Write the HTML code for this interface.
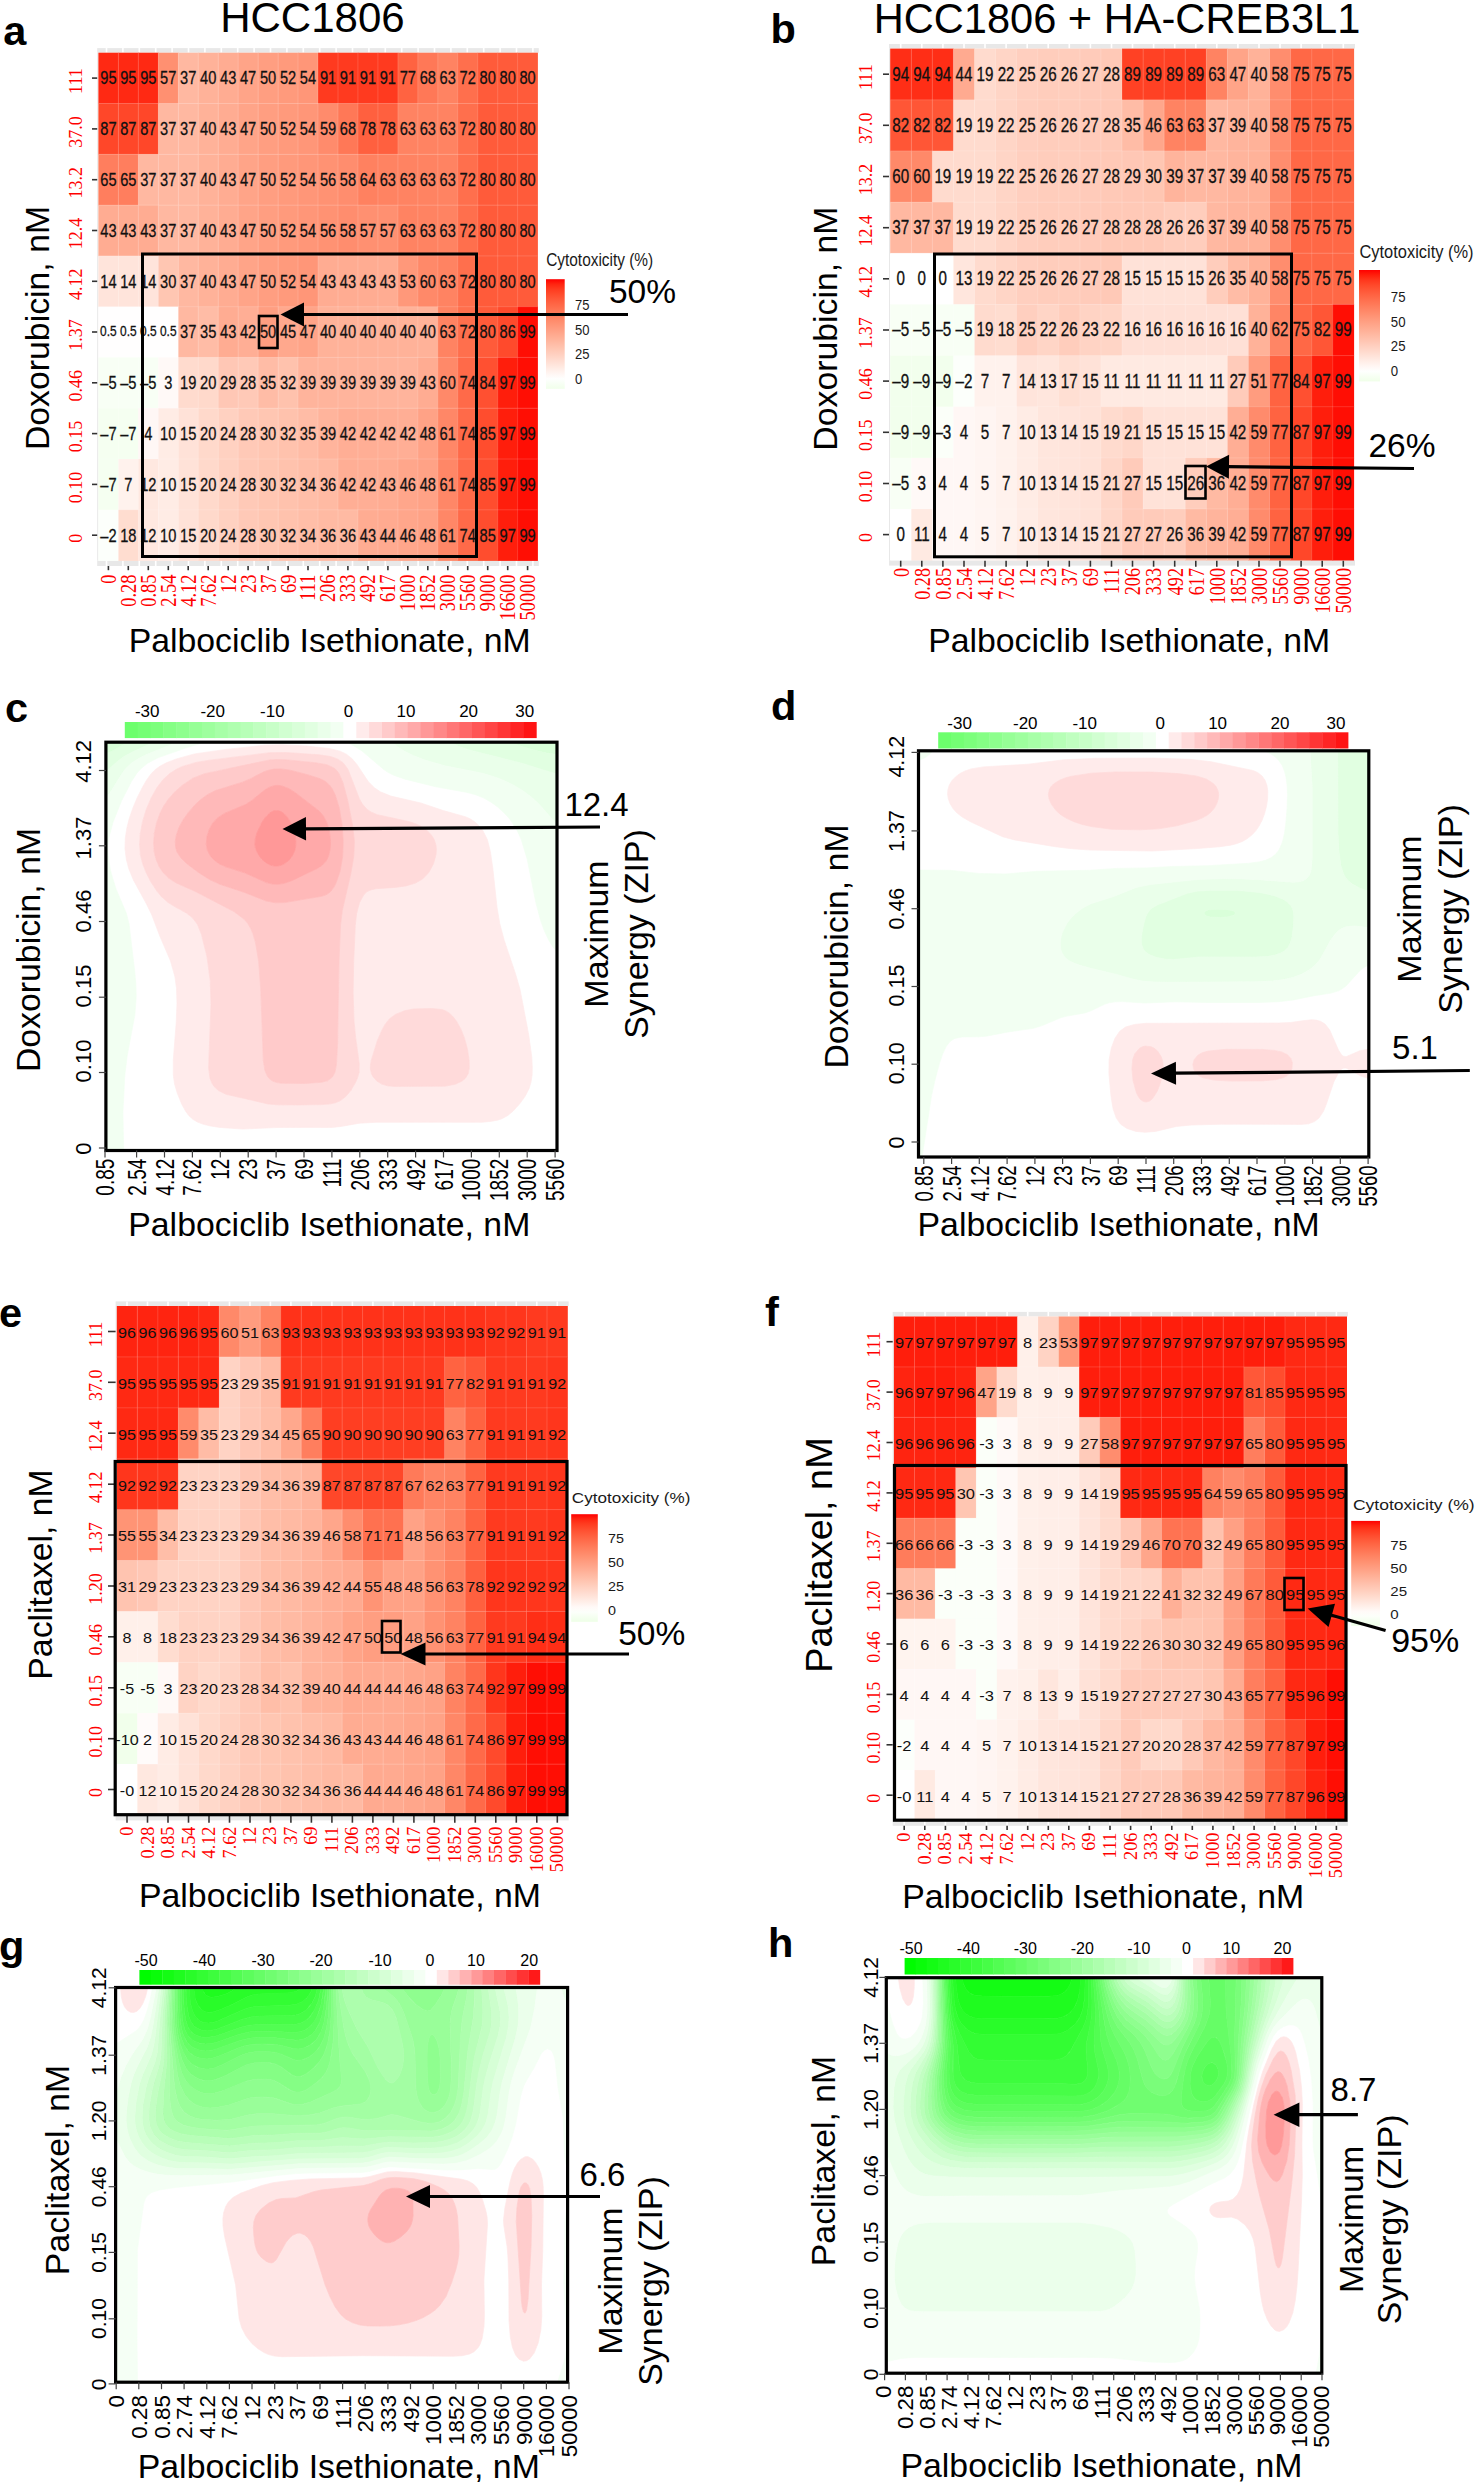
<!DOCTYPE html>
<html><head><meta charset="utf-8"><style>
html,body{margin:0;padding:0;background:#fff;}
body{width:1481px;height:2482px;position:relative;overflow:hidden;}
</style></head><body>
<svg width="1481" height="2482" viewBox="0 0 1481 2482" style="position:absolute;left:0;top:0"><style>.s{font-family:"Liberation Sans",sans-serif}.r{font-family:"Liberation Serif",serif}.m{text-anchor:middle}.e{text-anchor:end}</style><rect x="0.0" y="0.0" width="1481.0" height="2482.0" fill="#fff"/><rect x="97.2" y="48.1" width="441.6" height="4.6" fill="#e8e8e8"/><rect x="97.2" y="560.6" width="441.6" height="5.4" fill="#e8e8e8"/><rect x="97.2" y="52.7" width="1.2" height="507.9" fill="#e8e8e8"/><path d="M106.5 48.1V52.7M106.5 560.6V566.0M122.9 48.1V52.7M122.9 560.6V566.0M139.3 48.1V52.7M139.3 560.6V566.0M155.7 48.1V52.7M155.7 560.6V566.0M172.1 48.1V52.7M172.1 560.6V566.0M188.5 48.1V52.7M188.5 560.6V566.0M204.9 48.1V52.7M204.9 560.6V566.0M221.3 48.1V52.7M221.3 560.6V566.0M237.7 48.1V52.7M237.7 560.6V566.0M254.1 48.1V52.7M254.1 560.6V566.0M270.5 48.1V52.7M270.5 560.6V566.0M286.9 48.1V52.7M286.9 560.6V566.0M303.3 48.1V52.7M303.3 560.6V566.0M319.7 48.1V52.7M319.7 560.6V566.0M336.1 48.1V52.7M336.1 560.6V566.0M352.5 48.1V52.7M352.5 560.6V566.0M368.9 48.1V52.7M368.9 560.6V566.0M385.3 48.1V52.7M385.3 560.6V566.0M401.7 48.1V52.7M401.7 560.6V566.0M418.1 48.1V52.7M418.1 560.6V566.0M434.5 48.1V52.7M434.5 560.6V566.0M450.9 48.1V52.7M450.9 560.6V566.0M467.3 48.1V52.7M467.3 560.6V566.0M483.7 48.1V52.7M483.7 560.6V566.0M500.1 48.1V52.7M500.1 560.6V566.0M516.5 48.1V52.7M516.5 560.6V566.0M532.9 48.1V52.7M532.9 560.6V566.0" stroke="#fff" stroke-width="1.6"/><rect x="98.4" y="52.7" width="20.3" height="51.1" fill="#ff2913"/><rect x="118.4" y="52.7" width="20.3" height="51.1" fill="#ff2913"/><rect x="138.3" y="52.7" width="20.3" height="51.1" fill="#ff2913"/><rect x="158.3" y="52.7" width="20.3" height="51.1" fill="#ff9071"/><rect x="178.3" y="52.7" width="20.3" height="51.1" fill="#ffb8a1"/><rect x="198.2" y="52.7" width="20.3" height="51.1" fill="#ffb299"/><rect x="218.2" y="52.7" width="20.3" height="51.1" fill="#ffac92"/><rect x="238.1" y="52.7" width="20.3" height="51.1" fill="#ffa488"/><rect x="258.1" y="52.7" width="20.3" height="51.1" fill="#ff9e81"/><rect x="278.1" y="52.7" width="20.3" height="51.1" fill="#ff9a7c"/><rect x="298.0" y="52.7" width="20.3" height="51.1" fill="#ff9678"/><rect x="318.0" y="52.7" width="20.3" height="51.1" fill="#ff3a1f"/><rect x="338.0" y="52.7" width="20.3" height="51.1" fill="#ff3a1f"/><rect x="357.9" y="52.7" width="20.3" height="51.1" fill="#ff3a1f"/><rect x="377.9" y="52.7" width="20.3" height="51.1" fill="#ff3a1f"/><rect x="397.9" y="52.7" width="20.3" height="51.1" fill="#ff6341"/><rect x="417.8" y="52.7" width="20.3" height="51.1" fill="#ff7857"/><rect x="437.8" y="52.7" width="20.3" height="51.1" fill="#ff8362"/><rect x="457.7" y="52.7" width="20.3" height="51.1" fill="#ff6f4d"/><rect x="477.7" y="52.7" width="20.3" height="51.1" fill="#ff5b3a"/><rect x="497.7" y="52.7" width="20.3" height="51.1" fill="#ff5b3a"/><rect x="517.6" y="52.7" width="20.3" height="51.1" fill="#ff5b3a"/><rect x="98.4" y="103.5" width="20.3" height="51.1" fill="#ff4729"/><rect x="118.4" y="103.5" width="20.3" height="51.1" fill="#ff4729"/><rect x="138.3" y="103.5" width="20.3" height="51.1" fill="#ff4729"/><rect x="158.3" y="103.5" width="20.3" height="51.1" fill="#ffb8a1"/><rect x="178.3" y="103.5" width="20.3" height="51.1" fill="#ffb8a1"/><rect x="198.2" y="103.5" width="20.3" height="51.1" fill="#ffb299"/><rect x="218.2" y="103.5" width="20.3" height="51.1" fill="#ffac92"/><rect x="238.1" y="103.5" width="20.3" height="51.1" fill="#ffa488"/><rect x="258.1" y="103.5" width="20.3" height="51.1" fill="#ff9e81"/><rect x="278.1" y="103.5" width="20.3" height="51.1" fill="#ff9a7c"/><rect x="298.0" y="103.5" width="20.3" height="51.1" fill="#ff9678"/><rect x="318.0" y="103.5" width="20.3" height="51.1" fill="#ff8b6c"/><rect x="338.0" y="103.5" width="20.3" height="51.1" fill="#ff7857"/><rect x="357.9" y="103.5" width="20.3" height="51.1" fill="#ff603f"/><rect x="377.9" y="103.5" width="20.3" height="51.1" fill="#ff603f"/><rect x="397.9" y="103.5" width="20.3" height="51.1" fill="#ff8362"/><rect x="417.8" y="103.5" width="20.3" height="51.1" fill="#ff8362"/><rect x="437.8" y="103.5" width="20.3" height="51.1" fill="#ff8362"/><rect x="457.7" y="103.5" width="20.3" height="51.1" fill="#ff6f4d"/><rect x="477.7" y="103.5" width="20.3" height="51.1" fill="#ff5b3a"/><rect x="497.7" y="103.5" width="20.3" height="51.1" fill="#ff5b3a"/><rect x="517.6" y="103.5" width="20.3" height="51.1" fill="#ff5b3a"/><rect x="98.4" y="154.3" width="20.3" height="51.1" fill="#ff7e5e"/><rect x="118.4" y="154.3" width="20.3" height="51.1" fill="#ff7e5e"/><rect x="138.3" y="154.3" width="20.3" height="51.1" fill="#ffb8a1"/><rect x="158.3" y="154.3" width="20.3" height="51.1" fill="#ffb8a1"/><rect x="178.3" y="154.3" width="20.3" height="51.1" fill="#ffb8a1"/><rect x="198.2" y="154.3" width="20.3" height="51.1" fill="#ffb299"/><rect x="218.2" y="154.3" width="20.3" height="51.1" fill="#ffac92"/><rect x="238.1" y="154.3" width="20.3" height="51.1" fill="#ffa488"/><rect x="258.1" y="154.3" width="20.3" height="51.1" fill="#ff9e81"/><rect x="278.1" y="154.3" width="20.3" height="51.1" fill="#ff9a7c"/><rect x="298.0" y="154.3" width="20.3" height="51.1" fill="#ff9678"/><rect x="318.0" y="154.3" width="20.3" height="51.1" fill="#ff9273"/><rect x="338.0" y="154.3" width="20.3" height="51.1" fill="#ff8d6e"/><rect x="357.9" y="154.3" width="20.3" height="51.1" fill="#ff8160"/><rect x="377.9" y="154.3" width="20.3" height="51.1" fill="#ff8362"/><rect x="397.9" y="154.3" width="20.3" height="51.1" fill="#ff8362"/><rect x="417.8" y="154.3" width="20.3" height="51.1" fill="#ff8362"/><rect x="437.8" y="154.3" width="20.3" height="51.1" fill="#ff8362"/><rect x="457.7" y="154.3" width="20.3" height="51.1" fill="#ff6f4d"/><rect x="477.7" y="154.3" width="20.3" height="51.1" fill="#ff5b3a"/><rect x="497.7" y="154.3" width="20.3" height="51.1" fill="#ff5b3a"/><rect x="517.6" y="154.3" width="20.3" height="51.1" fill="#ff5b3a"/><rect x="98.4" y="205.1" width="20.3" height="51.1" fill="#ffac92"/><rect x="118.4" y="205.1" width="20.3" height="51.1" fill="#ffac92"/><rect x="138.3" y="205.1" width="20.3" height="51.1" fill="#ffac92"/><rect x="158.3" y="205.1" width="20.3" height="51.1" fill="#ffb8a1"/><rect x="178.3" y="205.1" width="20.3" height="51.1" fill="#ffb8a1"/><rect x="198.2" y="205.1" width="20.3" height="51.1" fill="#ffb299"/><rect x="218.2" y="205.1" width="20.3" height="51.1" fill="#ffac92"/><rect x="238.1" y="205.1" width="20.3" height="51.1" fill="#ffa488"/><rect x="258.1" y="205.1" width="20.3" height="51.1" fill="#ff9e81"/><rect x="278.1" y="205.1" width="20.3" height="51.1" fill="#ff9a7c"/><rect x="298.0" y="205.1" width="20.3" height="51.1" fill="#ff9678"/><rect x="318.0" y="205.1" width="20.3" height="51.1" fill="#ff9273"/><rect x="338.0" y="205.1" width="20.3" height="51.1" fill="#ff8d6e"/><rect x="357.9" y="205.1" width="20.3" height="51.1" fill="#ff9071"/><rect x="377.9" y="205.1" width="20.3" height="51.1" fill="#ff9071"/><rect x="397.9" y="205.1" width="20.3" height="51.1" fill="#ff8362"/><rect x="417.8" y="205.1" width="20.3" height="51.1" fill="#ff8362"/><rect x="437.8" y="205.1" width="20.3" height="51.1" fill="#ff8362"/><rect x="457.7" y="205.1" width="20.3" height="51.1" fill="#ff6f4d"/><rect x="477.7" y="205.1" width="20.3" height="51.1" fill="#ff5b3a"/><rect x="497.7" y="205.1" width="20.3" height="51.1" fill="#ff5b3a"/><rect x="517.6" y="205.1" width="20.3" height="51.1" fill="#ff5b3a"/><rect x="98.4" y="255.9" width="20.3" height="51.1" fill="#ffe4db"/><rect x="118.4" y="255.9" width="20.3" height="51.1" fill="#ffe4db"/><rect x="138.3" y="255.9" width="20.3" height="51.1" fill="#ffe4db"/><rect x="158.3" y="255.9" width="20.3" height="51.1" fill="#ffc6b2"/><rect x="178.3" y="255.9" width="20.3" height="51.1" fill="#ffb8a1"/><rect x="198.2" y="255.9" width="20.3" height="51.1" fill="#ffb299"/><rect x="218.2" y="255.9" width="20.3" height="51.1" fill="#ffac92"/><rect x="238.1" y="255.9" width="20.3" height="51.1" fill="#ffa488"/><rect x="258.1" y="255.9" width="20.3" height="51.1" fill="#ff9e81"/><rect x="278.1" y="255.9" width="20.3" height="51.1" fill="#ff9a7c"/><rect x="298.0" y="255.9" width="20.3" height="51.1" fill="#ff9678"/><rect x="318.0" y="255.9" width="20.3" height="51.1" fill="#ffac92"/><rect x="338.0" y="255.9" width="20.3" height="51.1" fill="#ffac92"/><rect x="357.9" y="255.9" width="20.3" height="51.1" fill="#ffac92"/><rect x="377.9" y="255.9" width="20.3" height="51.1" fill="#ffac92"/><rect x="397.9" y="255.9" width="20.3" height="51.1" fill="#ff987a"/><rect x="417.8" y="255.9" width="20.3" height="51.1" fill="#ff8969"/><rect x="437.8" y="255.9" width="20.3" height="51.1" fill="#ff8362"/><rect x="457.7" y="255.9" width="20.3" height="51.1" fill="#ff6f4d"/><rect x="477.7" y="255.9" width="20.3" height="51.1" fill="#ff5b3a"/><rect x="497.7" y="255.9" width="20.3" height="51.1" fill="#ff5b3a"/><rect x="517.6" y="255.9" width="20.3" height="51.1" fill="#ff5b3a"/><rect x="98.4" y="306.7" width="20.3" height="51.1" fill="#fffefe"/><rect x="118.4" y="306.7" width="20.3" height="51.1" fill="#fffefe"/><rect x="138.3" y="306.7" width="20.3" height="51.1" fill="#fffefe"/><rect x="158.3" y="306.7" width="20.3" height="51.1" fill="#fffefe"/><rect x="178.3" y="306.7" width="20.3" height="51.1" fill="#ffb8a1"/><rect x="198.2" y="306.7" width="20.3" height="51.1" fill="#ffbca6"/><rect x="218.2" y="306.7" width="20.3" height="51.1" fill="#ffac92"/><rect x="238.1" y="306.7" width="20.3" height="51.1" fill="#ffae95"/><rect x="258.1" y="306.7" width="20.3" height="51.1" fill="#ff9e81"/><rect x="278.1" y="306.7" width="20.3" height="51.1" fill="#ffa88d"/><rect x="298.0" y="306.7" width="20.3" height="51.1" fill="#ffa488"/><rect x="318.0" y="306.7" width="20.3" height="51.1" fill="#ffb299"/><rect x="338.0" y="306.7" width="20.3" height="51.1" fill="#ffb299"/><rect x="357.9" y="306.7" width="20.3" height="51.1" fill="#ffb299"/><rect x="377.9" y="306.7" width="20.3" height="51.1" fill="#ffb299"/><rect x="397.9" y="306.7" width="20.3" height="51.1" fill="#ffb299"/><rect x="417.8" y="306.7" width="20.3" height="51.1" fill="#ffb299"/><rect x="437.8" y="306.7" width="20.3" height="51.1" fill="#ff8362"/><rect x="457.7" y="306.7" width="20.3" height="51.1" fill="#ff6f4d"/><rect x="477.7" y="306.7" width="20.3" height="51.1" fill="#ff5b3a"/><rect x="497.7" y="306.7" width="20.3" height="51.1" fill="#ff4a2c"/><rect x="517.6" y="306.7" width="20.3" height="51.1" fill="#ff0e04"/><rect x="98.4" y="357.4" width="20.3" height="51.1" fill="#f8fff5"/><rect x="118.4" y="357.4" width="20.3" height="51.1" fill="#f8fff5"/><rect x="138.3" y="357.4" width="20.3" height="51.1" fill="#f8fff5"/><rect x="158.3" y="357.4" width="20.3" height="51.1" fill="#fff9f7"/><rect x="178.3" y="357.4" width="20.3" height="51.1" fill="#ffdbce"/><rect x="198.2" y="357.4" width="20.3" height="51.1" fill="#ffd9cb"/><rect x="218.2" y="357.4" width="20.3" height="51.1" fill="#ffc7b5"/><rect x="238.1" y="357.4" width="20.3" height="51.1" fill="#ffc9b7"/><rect x="258.1" y="357.4" width="20.3" height="51.1" fill="#ffbca6"/><rect x="278.1" y="357.4" width="20.3" height="51.1" fill="#ffc2ad"/><rect x="298.0" y="357.4" width="20.3" height="51.1" fill="#ffb49c"/><rect x="318.0" y="357.4" width="20.3" height="51.1" fill="#ffb49c"/><rect x="338.0" y="357.4" width="20.3" height="51.1" fill="#ffb49c"/><rect x="357.9" y="357.4" width="20.3" height="51.1" fill="#ffb49c"/><rect x="377.9" y="357.4" width="20.3" height="51.1" fill="#ffb49c"/><rect x="397.9" y="357.4" width="20.3" height="51.1" fill="#ffb49c"/><rect x="417.8" y="357.4" width="20.3" height="51.1" fill="#ffac92"/><rect x="437.8" y="357.4" width="20.3" height="51.1" fill="#ff8969"/><rect x="457.7" y="357.4" width="20.3" height="51.1" fill="#ff6a49"/><rect x="477.7" y="357.4" width="20.3" height="51.1" fill="#ff5031"/><rect x="497.7" y="357.4" width="20.3" height="51.1" fill="#ff1e0c"/><rect x="517.6" y="357.4" width="20.3" height="51.1" fill="#ff0e04"/><rect x="98.4" y="408.2" width="20.3" height="51.1" fill="#f5fff1"/><rect x="118.4" y="408.2" width="20.3" height="51.1" fill="#f5fff1"/><rect x="138.3" y="408.2" width="20.3" height="51.1" fill="#fff7f5"/><rect x="158.3" y="408.2" width="20.3" height="51.1" fill="#ffece5"/><rect x="178.3" y="408.2" width="20.3" height="51.1" fill="#ffe2d8"/><rect x="198.2" y="408.2" width="20.3" height="51.1" fill="#ffd9cb"/><rect x="218.2" y="408.2" width="20.3" height="51.1" fill="#ffd1c1"/><rect x="238.1" y="408.2" width="20.3" height="51.1" fill="#ffc9b7"/><rect x="258.1" y="408.2" width="20.3" height="51.1" fill="#ffc6b2"/><rect x="278.1" y="408.2" width="20.3" height="51.1" fill="#ffc2ad"/><rect x="298.0" y="408.2" width="20.3" height="51.1" fill="#ffbca6"/><rect x="318.0" y="408.2" width="20.3" height="51.1" fill="#ffb49c"/><rect x="338.0" y="408.2" width="20.3" height="51.1" fill="#ffae95"/><rect x="357.9" y="408.2" width="20.3" height="51.1" fill="#ffae95"/><rect x="377.9" y="408.2" width="20.3" height="51.1" fill="#ffae95"/><rect x="397.9" y="408.2" width="20.3" height="51.1" fill="#ffae95"/><rect x="417.8" y="408.2" width="20.3" height="51.1" fill="#ffa286"/><rect x="437.8" y="408.2" width="20.3" height="51.1" fill="#ff8767"/><rect x="457.7" y="408.2" width="20.3" height="51.1" fill="#ff6a49"/><rect x="477.7" y="408.2" width="20.3" height="51.1" fill="#ff4d2e"/><rect x="497.7" y="408.2" width="20.3" height="51.1" fill="#ff1e0c"/><rect x="517.6" y="408.2" width="20.3" height="51.1" fill="#ff0e04"/><rect x="98.4" y="459.0" width="20.3" height="51.1" fill="#f5fff1"/><rect x="118.4" y="459.0" width="20.3" height="51.1" fill="#fff2ed"/><rect x="138.3" y="459.0" width="20.3" height="51.1" fill="#ffe8e0"/><rect x="158.3" y="459.0" width="20.3" height="51.1" fill="#ffece5"/><rect x="178.3" y="459.0" width="20.3" height="51.1" fill="#ffe2d8"/><rect x="198.2" y="459.0" width="20.3" height="51.1" fill="#ffd9cb"/><rect x="218.2" y="459.0" width="20.3" height="51.1" fill="#ffd1c1"/><rect x="238.1" y="459.0" width="20.3" height="51.1" fill="#ffc9b7"/><rect x="258.1" y="459.0" width="20.3" height="51.1" fill="#ffc6b2"/><rect x="278.1" y="459.0" width="20.3" height="51.1" fill="#ffc2ad"/><rect x="298.0" y="459.0" width="20.3" height="51.1" fill="#ffbea8"/><rect x="318.0" y="459.0" width="20.3" height="51.1" fill="#ffbaa3"/><rect x="338.0" y="459.0" width="20.3" height="51.1" fill="#ffae95"/><rect x="357.9" y="459.0" width="20.3" height="51.1" fill="#ffae95"/><rect x="377.9" y="459.0" width="20.3" height="51.1" fill="#ffac92"/><rect x="397.9" y="459.0" width="20.3" height="51.1" fill="#ffa68b"/><rect x="417.8" y="459.0" width="20.3" height="51.1" fill="#ffa286"/><rect x="437.8" y="459.0" width="20.3" height="51.1" fill="#ff8767"/><rect x="457.7" y="459.0" width="20.3" height="51.1" fill="#ff6a49"/><rect x="477.7" y="459.0" width="20.3" height="51.1" fill="#ff4d2e"/><rect x="497.7" y="459.0" width="20.3" height="51.1" fill="#ff1e0c"/><rect x="517.6" y="459.0" width="20.3" height="51.1" fill="#ff0e04"/><rect x="98.4" y="509.8" width="20.3" height="51.1" fill="#fcfffb"/><rect x="118.4" y="509.8" width="20.3" height="51.1" fill="#ffddd0"/><rect x="138.3" y="509.8" width="20.3" height="51.1" fill="#ffe8e0"/><rect x="158.3" y="509.8" width="20.3" height="51.1" fill="#ffece5"/><rect x="178.3" y="509.8" width="20.3" height="51.1" fill="#ffe2d8"/><rect x="198.2" y="509.8" width="20.3" height="51.1" fill="#ffd9cb"/><rect x="218.2" y="509.8" width="20.3" height="51.1" fill="#ffd1c1"/><rect x="238.1" y="509.8" width="20.3" height="51.1" fill="#ffc9b7"/><rect x="258.1" y="509.8" width="20.3" height="51.1" fill="#ffc6b2"/><rect x="278.1" y="509.8" width="20.3" height="51.1" fill="#ffc2ad"/><rect x="298.0" y="509.8" width="20.3" height="51.1" fill="#ffbea8"/><rect x="318.0" y="509.8" width="20.3" height="51.1" fill="#ffbaa3"/><rect x="338.0" y="509.8" width="20.3" height="51.1" fill="#ffbaa3"/><rect x="357.9" y="509.8" width="20.3" height="51.1" fill="#ffac92"/><rect x="377.9" y="509.8" width="20.3" height="51.1" fill="#ffaa90"/><rect x="397.9" y="509.8" width="20.3" height="51.1" fill="#ffa68b"/><rect x="417.8" y="509.8" width="20.3" height="51.1" fill="#ffa286"/><rect x="437.8" y="509.8" width="20.3" height="51.1" fill="#ff8767"/><rect x="457.7" y="509.8" width="20.3" height="51.1" fill="#ff6a49"/><rect x="477.7" y="509.8" width="20.3" height="51.1" fill="#ff4d2e"/><rect x="497.7" y="509.8" width="20.3" height="51.1" fill="#ff1e0c"/><rect x="517.6" y="509.8" width="20.3" height="51.1" fill="#ff0e04"/><path d="M118.4 52.7L118.4 560.6" stroke="#fff" stroke-width="0.7" stroke-opacity="0.22"/><path d="M138.3 52.7L138.3 560.6" stroke="#fff" stroke-width="0.7" stroke-opacity="0.22"/><path d="M158.3 52.7L158.3 560.6" stroke="#fff" stroke-width="0.7" stroke-opacity="0.22"/><path d="M178.3 52.7L178.3 560.6" stroke="#fff" stroke-width="0.7" stroke-opacity="0.22"/><path d="M198.2 52.7L198.2 560.6" stroke="#fff" stroke-width="0.7" stroke-opacity="0.22"/><path d="M218.2 52.7L218.2 560.6" stroke="#fff" stroke-width="0.7" stroke-opacity="0.22"/><path d="M238.1 52.7L238.1 560.6" stroke="#fff" stroke-width="0.7" stroke-opacity="0.22"/><path d="M258.1 52.7L258.1 560.6" stroke="#fff" stroke-width="0.7" stroke-opacity="0.22"/><path d="M278.1 52.7L278.1 560.6" stroke="#fff" stroke-width="0.7" stroke-opacity="0.22"/><path d="M298.0 52.7L298.0 560.6" stroke="#fff" stroke-width="0.7" stroke-opacity="0.22"/><path d="M318.0 52.7L318.0 560.6" stroke="#fff" stroke-width="0.7" stroke-opacity="0.22"/><path d="M338.0 52.7L338.0 560.6" stroke="#fff" stroke-width="0.7" stroke-opacity="0.22"/><path d="M357.9 52.7L357.9 560.6" stroke="#fff" stroke-width="0.7" stroke-opacity="0.22"/><path d="M377.9 52.7L377.9 560.6" stroke="#fff" stroke-width="0.7" stroke-opacity="0.22"/><path d="M397.9 52.7L397.9 560.6" stroke="#fff" stroke-width="0.7" stroke-opacity="0.22"/><path d="M417.8 52.7L417.8 560.6" stroke="#fff" stroke-width="0.7" stroke-opacity="0.22"/><path d="M437.8 52.7L437.8 560.6" stroke="#fff" stroke-width="0.7" stroke-opacity="0.22"/><path d="M457.7 52.7L457.7 560.6" stroke="#fff" stroke-width="0.7" stroke-opacity="0.22"/><path d="M477.7 52.7L477.7 560.6" stroke="#fff" stroke-width="0.7" stroke-opacity="0.22"/><path d="M497.7 52.7L497.7 560.6" stroke="#fff" stroke-width="0.7" stroke-opacity="0.22"/><path d="M517.6 52.7L517.6 560.6" stroke="#fff" stroke-width="0.7" stroke-opacity="0.22"/><path d="M98.4 103.5L537.6 103.5" stroke="#fff" stroke-width="0.7" stroke-opacity="0.22"/><path d="M98.4 154.3L537.6 154.3" stroke="#fff" stroke-width="0.7" stroke-opacity="0.22"/><path d="M98.4 205.1L537.6 205.1" stroke="#fff" stroke-width="0.7" stroke-opacity="0.22"/><path d="M98.4 255.9L537.6 255.9" stroke="#fff" stroke-width="0.7" stroke-opacity="0.22"/><path d="M98.4 306.7L537.6 306.7" stroke="#fff" stroke-width="0.7" stroke-opacity="0.22"/><path d="M98.4 357.4L537.6 357.4" stroke="#fff" stroke-width="0.7" stroke-opacity="0.22"/><path d="M98.4 408.2L537.6 408.2" stroke="#fff" stroke-width="0.7" stroke-opacity="0.22"/><path d="M98.4 459.0L537.6 459.0" stroke="#fff" stroke-width="0.7" stroke-opacity="0.22"/><path d="M98.4 509.8L537.6 509.8" stroke="#fff" stroke-width="0.7" stroke-opacity="0.22"/><g class="s m" font-size="19" fill="#111" stroke="#111" stroke-width="0.3" transform="scale(0.77,1)"><text x="140.8" y="84.5">95</text><text x="166.7" y="84.5">95</text><text x="192.6" y="84.5">95</text><text x="218.5" y="84.5">57</text><text x="244.5" y="84.5">37</text><text x="270.4" y="84.5">40</text><text x="296.3" y="84.5">43</text><text x="322.2" y="84.5">47</text><text x="348.2" y="84.5">50</text><text x="374.1" y="84.5">52</text><text x="400.0" y="84.5">54</text><text x="426.0" y="84.5">91</text><text x="451.9" y="84.5">91</text><text x="477.8" y="84.5">91</text><text x="503.7" y="84.5">91</text><text x="529.7" y="84.5">77</text><text x="555.6" y="84.5">68</text><text x="581.5" y="84.5">63</text><text x="607.4" y="84.5">72</text><text x="633.4" y="84.5">80</text><text x="659.3" y="84.5">80</text><text x="685.2" y="84.5">80</text><text x="140.8" y="135.3">87</text><text x="166.7" y="135.3">87</text><text x="192.6" y="135.3">87</text><text x="218.5" y="135.3">37</text><text x="244.5" y="135.3">37</text><text x="270.4" y="135.3">40</text><text x="296.3" y="135.3">43</text><text x="322.2" y="135.3">47</text><text x="348.2" y="135.3">50</text><text x="374.1" y="135.3">52</text><text x="400.0" y="135.3">54</text><text x="426.0" y="135.3">59</text><text x="451.9" y="135.3">68</text><text x="477.8" y="135.3">78</text><text x="503.7" y="135.3">78</text><text x="529.7" y="135.3">63</text><text x="555.6" y="135.3">63</text><text x="581.5" y="135.3">63</text><text x="607.4" y="135.3">72</text><text x="633.4" y="135.3">80</text><text x="659.3" y="135.3">80</text><text x="685.2" y="135.3">80</text><text x="140.8" y="186.1">65</text><text x="166.7" y="186.1">65</text><text x="192.6" y="186.1">37</text><text x="218.5" y="186.1">37</text><text x="244.5" y="186.1">37</text><text x="270.4" y="186.1">40</text><text x="296.3" y="186.1">43</text><text x="322.2" y="186.1">47</text><text x="348.2" y="186.1">50</text><text x="374.1" y="186.1">52</text><text x="400.0" y="186.1">54</text><text x="426.0" y="186.1">56</text><text x="451.9" y="186.1">58</text><text x="477.8" y="186.1">64</text><text x="503.7" y="186.1">63</text><text x="529.7" y="186.1">63</text><text x="555.6" y="186.1">63</text><text x="581.5" y="186.1">63</text><text x="607.4" y="186.1">72</text><text x="633.4" y="186.1">80</text><text x="659.3" y="186.1">80</text><text x="685.2" y="186.1">80</text><text x="140.8" y="236.9">43</text><text x="166.7" y="236.9">43</text><text x="192.6" y="236.9">43</text><text x="218.5" y="236.9">37</text><text x="244.5" y="236.9">37</text><text x="270.4" y="236.9">40</text><text x="296.3" y="236.9">43</text><text x="322.2" y="236.9">47</text><text x="348.2" y="236.9">50</text><text x="374.1" y="236.9">52</text><text x="400.0" y="236.9">54</text><text x="426.0" y="236.9">56</text><text x="451.9" y="236.9">58</text><text x="477.8" y="236.9">57</text><text x="503.7" y="236.9">57</text><text x="529.7" y="236.9">63</text><text x="555.6" y="236.9">63</text><text x="581.5" y="236.9">63</text><text x="607.4" y="236.9">72</text><text x="633.4" y="236.9">80</text><text x="659.3" y="236.9">80</text><text x="685.2" y="236.9">80</text><text x="140.8" y="287.7">14</text><text x="166.7" y="287.7">14</text><text x="192.6" y="287.7">14</text><text x="218.5" y="287.7">30</text><text x="244.5" y="287.7">37</text><text x="270.4" y="287.7">40</text><text x="296.3" y="287.7">43</text><text x="322.2" y="287.7">47</text><text x="348.2" y="287.7">50</text><text x="374.1" y="287.7">52</text><text x="400.0" y="287.7">54</text><text x="426.0" y="287.7">43</text><text x="451.9" y="287.7">43</text><text x="477.8" y="287.7">43</text><text x="503.7" y="287.7">43</text><text x="529.7" y="287.7">53</text><text x="555.6" y="287.7">60</text><text x="581.5" y="287.7">63</text><text x="607.4" y="287.7">72</text><text x="633.4" y="287.7">80</text><text x="659.3" y="287.7">80</text><text x="685.2" y="287.7">80</text><text x="140.8" y="336.4" font-size="15.5">0.5</text><text x="166.7" y="336.4" font-size="15.5">0.5</text><text x="192.6" y="336.4" font-size="15.5">0.5</text><text x="218.5" y="336.4" font-size="15.5">0.5</text><text x="244.5" y="338.4">37</text><text x="270.4" y="338.4">35</text><text x="296.3" y="338.4">43</text><text x="322.2" y="338.4">42</text><text x="348.2" y="338.4">50</text><text x="374.1" y="338.4">45</text><text x="400.0" y="338.4">47</text><text x="426.0" y="338.4">40</text><text x="451.9" y="338.4">40</text><text x="477.8" y="338.4">40</text><text x="503.7" y="338.4">40</text><text x="529.7" y="338.4">40</text><text x="555.6" y="338.4">40</text><text x="581.5" y="338.4">63</text><text x="607.4" y="338.4">72</text><text x="633.4" y="338.4">80</text><text x="659.3" y="338.4">86</text><text x="685.2" y="338.4">99</text><text x="140.8" y="389.2">–5</text><text x="166.7" y="389.2">–5</text><text x="192.6" y="389.2">–5</text><text x="218.5" y="389.2">3</text><text x="244.5" y="389.2">19</text><text x="270.4" y="389.2">20</text><text x="296.3" y="389.2">29</text><text x="322.2" y="389.2">28</text><text x="348.2" y="389.2">35</text><text x="374.1" y="389.2">32</text><text x="400.0" y="389.2">39</text><text x="426.0" y="389.2">39</text><text x="451.9" y="389.2">39</text><text x="477.8" y="389.2">39</text><text x="503.7" y="389.2">39</text><text x="529.7" y="389.2">39</text><text x="555.6" y="389.2">43</text><text x="581.5" y="389.2">60</text><text x="607.4" y="389.2">74</text><text x="633.4" y="389.2">84</text><text x="659.3" y="389.2">97</text><text x="685.2" y="389.2">99</text><text x="140.8" y="440.0">–7</text><text x="166.7" y="440.0">–7</text><text x="192.6" y="440.0">4</text><text x="218.5" y="440.0">10</text><text x="244.5" y="440.0">15</text><text x="270.4" y="440.0">20</text><text x="296.3" y="440.0">24</text><text x="322.2" y="440.0">28</text><text x="348.2" y="440.0">30</text><text x="374.1" y="440.0">32</text><text x="400.0" y="440.0">35</text><text x="426.0" y="440.0">39</text><text x="451.9" y="440.0">42</text><text x="477.8" y="440.0">42</text><text x="503.7" y="440.0">42</text><text x="529.7" y="440.0">42</text><text x="555.6" y="440.0">48</text><text x="581.5" y="440.0">61</text><text x="607.4" y="440.0">74</text><text x="633.4" y="440.0">85</text><text x="659.3" y="440.0">97</text><text x="685.2" y="440.0">99</text><text x="140.8" y="490.8">–7</text><text x="166.7" y="490.8">7</text><text x="192.6" y="490.8">12</text><text x="218.5" y="490.8">10</text><text x="244.5" y="490.8">15</text><text x="270.4" y="490.8">20</text><text x="296.3" y="490.8">24</text><text x="322.2" y="490.8">28</text><text x="348.2" y="490.8">30</text><text x="374.1" y="490.8">32</text><text x="400.0" y="490.8">34</text><text x="426.0" y="490.8">36</text><text x="451.9" y="490.8">42</text><text x="477.8" y="490.8">42</text><text x="503.7" y="490.8">43</text><text x="529.7" y="490.8">46</text><text x="555.6" y="490.8">48</text><text x="581.5" y="490.8">61</text><text x="607.4" y="490.8">74</text><text x="633.4" y="490.8">85</text><text x="659.3" y="490.8">97</text><text x="685.2" y="490.8">99</text><text x="140.8" y="541.6">–2</text><text x="166.7" y="541.6">18</text><text x="192.6" y="541.6">12</text><text x="218.5" y="541.6">10</text><text x="244.5" y="541.6">15</text><text x="270.4" y="541.6">20</text><text x="296.3" y="541.6">24</text><text x="322.2" y="541.6">28</text><text x="348.2" y="541.6">30</text><text x="374.1" y="541.6">32</text><text x="400.0" y="541.6">34</text><text x="426.0" y="541.6">36</text><text x="451.9" y="541.6">36</text><text x="477.8" y="541.6">43</text><text x="503.7" y="541.6">44</text><text x="529.7" y="541.6">46</text><text x="555.6" y="541.6">48</text><text x="581.5" y="541.6">61</text><text x="607.4" y="541.6">74</text><text x="633.4" y="541.6">85</text><text x="659.3" y="541.6">97</text><text x="685.2" y="541.6">99</text></g><text transform="translate(76.0,81.1) rotate(-90)" y="5.9" class="r m" font-size="18" fill="#ff0000">111</text><path d="M92.0 78.1L97.2 78.1" stroke="#333" stroke-width="1.6"/><text transform="translate(76.0,131.9) rotate(-90)" y="5.9" class="r m" font-size="18" fill="#ff0000">37.0</text><path d="M92.0 128.9L97.2 128.9" stroke="#333" stroke-width="1.6"/><text transform="translate(76.0,182.7) rotate(-90)" y="5.9" class="r m" font-size="18" fill="#ff0000">13.2</text><path d="M92.0 179.7L97.2 179.7" stroke="#333" stroke-width="1.6"/><text transform="translate(76.0,233.5) rotate(-90)" y="5.9" class="r m" font-size="18" fill="#ff0000">12.4</text><path d="M92.0 230.5L97.2 230.5" stroke="#333" stroke-width="1.6"/><text transform="translate(76.0,284.3) rotate(-90)" y="5.9" class="r m" font-size="18" fill="#ff0000">4.12</text><path d="M92.0 281.3L97.2 281.3" stroke="#333" stroke-width="1.6"/><text transform="translate(76.0,335.0) rotate(-90)" y="5.9" class="r m" font-size="18" fill="#ff0000">1.37</text><path d="M92.0 332.0L97.2 332.0" stroke="#333" stroke-width="1.6"/><text transform="translate(76.0,385.8) rotate(-90)" y="5.9" class="r m" font-size="18" fill="#ff0000">0.46</text><path d="M92.0 382.8L97.2 382.8" stroke="#333" stroke-width="1.6"/><text transform="translate(76.0,436.6) rotate(-90)" y="5.9" class="r m" font-size="18" fill="#ff0000">0.15</text><path d="M92.0 433.6L97.2 433.6" stroke="#333" stroke-width="1.6"/><text transform="translate(76.0,487.4) rotate(-90)" y="5.9" class="r m" font-size="18" fill="#ff0000">0.10</text><path d="M92.0 484.4L97.2 484.4" stroke="#333" stroke-width="1.6"/><text transform="translate(76.0,538.2) rotate(-90)" y="5.9" class="r m" font-size="18" fill="#ff0000">0</text><path d="M92.0 535.2L97.2 535.2" stroke="#333" stroke-width="1.6"/><path d="M108.4 566.0L108.4 570.2" stroke="#333" stroke-width="1.6"/><text transform="translate(108.4,574.5) rotate(-90) scale(1,1.22)" y="6.1" class="r e" font-size="18.4" fill="#ff0000">0</text><path d="M128.3 566.0L128.3 570.2" stroke="#333" stroke-width="1.6"/><text transform="translate(128.3,574.5) rotate(-90) scale(1,1.22)" y="6.1" class="r e" font-size="18.4" fill="#ff0000">0.28</text><path d="M148.3 566.0L148.3 570.2" stroke="#333" stroke-width="1.6"/><text transform="translate(148.3,574.5) rotate(-90) scale(1,1.22)" y="6.1" class="r e" font-size="18.4" fill="#ff0000">0.85</text><path d="M168.3 566.0L168.3 570.2" stroke="#333" stroke-width="1.6"/><text transform="translate(168.3,574.5) rotate(-90) scale(1,1.22)" y="6.1" class="r e" font-size="18.4" fill="#ff0000">2.54</text><path d="M188.2 566.0L188.2 570.2" stroke="#333" stroke-width="1.6"/><text transform="translate(188.2,574.5) rotate(-90) scale(1,1.22)" y="6.1" class="r e" font-size="18.4" fill="#ff0000">4.12</text><path d="M208.2 566.0L208.2 570.2" stroke="#333" stroke-width="1.6"/><text transform="translate(208.2,574.5) rotate(-90) scale(1,1.22)" y="6.1" class="r e" font-size="18.4" fill="#ff0000">7.62</text><path d="M228.2 566.0L228.2 570.2" stroke="#333" stroke-width="1.6"/><text transform="translate(228.2,574.5) rotate(-90) scale(1,1.22)" y="6.1" class="r e" font-size="18.4" fill="#ff0000">12</text><path d="M248.1 566.0L248.1 570.2" stroke="#333" stroke-width="1.6"/><text transform="translate(248.1,574.5) rotate(-90) scale(1,1.22)" y="6.1" class="r e" font-size="18.4" fill="#ff0000">23</text><path d="M268.1 566.0L268.1 570.2" stroke="#333" stroke-width="1.6"/><text transform="translate(268.1,574.5) rotate(-90) scale(1,1.22)" y="6.1" class="r e" font-size="18.4" fill="#ff0000">37</text><path d="M288.1 566.0L288.1 570.2" stroke="#333" stroke-width="1.6"/><text transform="translate(288.1,574.5) rotate(-90) scale(1,1.22)" y="6.1" class="r e" font-size="18.4" fill="#ff0000">69</text><path d="M308.0 566.0L308.0 570.2" stroke="#333" stroke-width="1.6"/><text transform="translate(308.0,574.5) rotate(-90) scale(1,1.22)" y="6.1" class="r e" font-size="18.4" fill="#ff0000">111</text><path d="M328.0 566.0L328.0 570.2" stroke="#333" stroke-width="1.6"/><text transform="translate(328.0,574.5) rotate(-90) scale(1,1.22)" y="6.1" class="r e" font-size="18.4" fill="#ff0000">206</text><path d="M347.9 566.0L347.9 570.2" stroke="#333" stroke-width="1.6"/><text transform="translate(347.9,574.5) rotate(-90) scale(1,1.22)" y="6.1" class="r e" font-size="18.4" fill="#ff0000">333</text><path d="M367.9 566.0L367.9 570.2" stroke="#333" stroke-width="1.6"/><text transform="translate(367.9,574.5) rotate(-90) scale(1,1.22)" y="6.1" class="r e" font-size="18.4" fill="#ff0000">492</text><path d="M387.9 566.0L387.9 570.2" stroke="#333" stroke-width="1.6"/><text transform="translate(387.9,574.5) rotate(-90) scale(1,1.22)" y="6.1" class="r e" font-size="18.4" fill="#ff0000">617</text><path d="M407.8 566.0L407.8 570.2" stroke="#333" stroke-width="1.6"/><text transform="translate(407.8,574.5) rotate(-90) scale(1,1.22)" y="6.1" class="r e" font-size="18.4" fill="#ff0000">1000</text><path d="M427.8 566.0L427.8 570.2" stroke="#333" stroke-width="1.6"/><text transform="translate(427.8,574.5) rotate(-90) scale(1,1.22)" y="6.1" class="r e" font-size="18.4" fill="#ff0000">1852</text><path d="M447.8 566.0L447.8 570.2" stroke="#333" stroke-width="1.6"/><text transform="translate(447.8,574.5) rotate(-90) scale(1,1.22)" y="6.1" class="r e" font-size="18.4" fill="#ff0000">3000</text><path d="M467.7 566.0L467.7 570.2" stroke="#333" stroke-width="1.6"/><text transform="translate(467.7,574.5) rotate(-90) scale(1,1.22)" y="6.1" class="r e" font-size="18.4" fill="#ff0000">5560</text><path d="M487.7 566.0L487.7 570.2" stroke="#333" stroke-width="1.6"/><text transform="translate(487.7,574.5) rotate(-90) scale(1,1.22)" y="6.1" class="r e" font-size="18.4" fill="#ff0000">9000</text><path d="M507.7 566.0L507.7 570.2" stroke="#333" stroke-width="1.6"/><text transform="translate(507.7,574.5) rotate(-90) scale(1,1.22)" y="6.1" class="r e" font-size="18.4" fill="#ff0000">16600</text><path d="M527.6 566.0L527.6 570.2" stroke="#333" stroke-width="1.6"/><text transform="translate(527.6,574.5) rotate(-90) scale(1,1.22)" y="6.1" class="r e" font-size="18.4" fill="#ff0000">50000</text><defs><linearGradient id="g546_279" x1="0" y1="0" x2="0" y2="1"><stop offset="0.0000" stop-color="#ff0000"/><stop offset="0.0455" stop-color="#ff2510"/><stop offset="0.0909" stop-color="#ff3b1f"/><stop offset="0.1364" stop-color="#ff4b2c"/><stop offset="0.1818" stop-color="#ff5939"/><stop offset="0.2273" stop-color="#ff6645"/><stop offset="0.2727" stop-color="#ff7251"/><stop offset="0.3182" stop-color="#ff7d5c"/><stop offset="0.3636" stop-color="#ff8868"/><stop offset="0.4091" stop-color="#ff9374"/><stop offset="0.4545" stop-color="#ff9d81"/><stop offset="0.5000" stop-color="#ffa88d"/><stop offset="0.5455" stop-color="#ffb299"/><stop offset="0.5909" stop-color="#ffbca6"/><stop offset="0.6364" stop-color="#ffc6b2"/><stop offset="0.6818" stop-color="#ffcfbf"/><stop offset="0.7273" stop-color="#ffd9cc"/><stop offset="0.7727" stop-color="#ffe3d9"/><stop offset="0.8182" stop-color="#ffede6"/><stop offset="0.8636" stop-color="#fff6f3"/><stop offset="0.9091" stop-color="#fefffe"/><stop offset="0.9545" stop-color="#f7fff4"/><stop offset="1.0000" stop-color="#f0ffea"/></linearGradient></defs><rect x="546.0" y="279.2" width="18.7" height="109.6" fill="url(#g546_279)"/><text transform="translate(575.0,304.7) scale(0.88,1)" y="5.3" class="s" font-size="14.8" fill="#1a1a1a">75</text><text transform="translate(575.0,329.3) scale(0.88,1)" y="5.3" class="s" font-size="14.8" fill="#1a1a1a">50</text><text transform="translate(575.0,353.8) scale(0.88,1)" y="5.3" class="s" font-size="14.8" fill="#1a1a1a">25</text><text transform="translate(575.0,378.4) scale(0.88,1)" y="5.3" class="s" font-size="14.8" fill="#1a1a1a">0</text><text x="546.2" y="265.7" class="s" font-size="17.7" fill="#1a1a1a" textLength="107" lengthAdjust="spacingAndGlyphs">Cytotoxicity (%)</text><rect x="889.0" y="44.0" width="466.0" height="4.6" fill="#e8e8e8"/><rect x="889.0" y="560.2" width="466.0" height="5.4" fill="#e8e8e8"/><rect x="889.0" y="48.6" width="1.2" height="511.6" fill="#e8e8e8"/><path d="M900.7 44.0V48.6M900.7 560.2V565.6M921.8 44.0V48.6M921.8 560.2V565.6M942.9 44.0V48.6M942.9 560.2V565.6M964.0 44.0V48.6M964.0 560.2V565.6M985.0 44.0V48.6M985.0 560.2V565.6M1006.1 44.0V48.6M1006.1 560.2V565.6M1027.2 44.0V48.6M1027.2 560.2V565.6M1048.2 44.0V48.6M1048.2 560.2V565.6M1069.3 44.0V48.6M1069.3 560.2V565.6M1090.4 44.0V48.6M1090.4 560.2V565.6M1111.5 44.0V48.6M1111.5 560.2V565.6M1132.5 44.0V48.6M1132.5 560.2V565.6M1153.6 44.0V48.6M1153.6 560.2V565.6M1174.7 44.0V48.6M1174.7 560.2V565.6M1195.8 44.0V48.6M1195.8 560.2V565.6M1216.8 44.0V48.6M1216.8 560.2V565.6M1237.9 44.0V48.6M1237.9 560.2V565.6M1259.0 44.0V48.6M1259.0 560.2V565.6M1280.0 44.0V48.6M1280.0 560.2V565.6M1301.1 44.0V48.6M1301.1 560.2V565.6M1322.2 44.0V48.6M1322.2 560.2V565.6M1343.3 44.0V48.6M1343.3 560.2V565.6" stroke="#fff" stroke-width="1.6"/><rect x="890.2" y="48.6" width="21.4" height="51.5" fill="#ff2e16"/><rect x="911.3" y="48.6" width="21.4" height="51.5" fill="#ff2e16"/><rect x="932.3" y="48.6" width="21.4" height="51.5" fill="#ff2e16"/><rect x="953.4" y="48.6" width="21.4" height="51.5" fill="#ffaa90"/><rect x="974.5" y="48.6" width="21.4" height="51.5" fill="#ffdbce"/><rect x="995.6" y="48.6" width="21.4" height="51.5" fill="#ffd5c6"/><rect x="1016.6" y="48.6" width="21.4" height="51.5" fill="#ffcfbf"/><rect x="1037.7" y="48.6" width="21.4" height="51.5" fill="#ffcdbc"/><rect x="1058.8" y="48.6" width="21.4" height="51.5" fill="#ffcdbc"/><rect x="1079.9" y="48.6" width="21.4" height="51.5" fill="#ffcbba"/><rect x="1100.9" y="48.6" width="21.4" height="51.5" fill="#ffc9b7"/><rect x="1122.0" y="48.6" width="21.4" height="51.5" fill="#ff4124"/><rect x="1143.1" y="48.6" width="21.4" height="51.5" fill="#ff4124"/><rect x="1164.1" y="48.6" width="21.4" height="51.5" fill="#ff4124"/><rect x="1185.2" y="48.6" width="21.4" height="51.5" fill="#ff4124"/><rect x="1206.3" y="48.6" width="21.4" height="51.5" fill="#ff8362"/><rect x="1227.4" y="48.6" width="21.4" height="51.5" fill="#ffa488"/><rect x="1248.4" y="48.6" width="21.4" height="51.5" fill="#ffb299"/><rect x="1269.5" y="48.6" width="21.4" height="51.5" fill="#ff8d6e"/><rect x="1290.6" y="48.6" width="21.4" height="51.5" fill="#ff6846"/><rect x="1311.7" y="48.6" width="21.4" height="51.5" fill="#ff6846"/><rect x="1332.7" y="48.6" width="21.4" height="51.5" fill="#ff6846"/><rect x="890.2" y="99.8" width="21.4" height="51.5" fill="#ff5636"/><rect x="911.3" y="99.8" width="21.4" height="51.5" fill="#ff5636"/><rect x="932.3" y="99.8" width="21.4" height="51.5" fill="#ff5636"/><rect x="953.4" y="99.8" width="21.4" height="51.5" fill="#ffdbce"/><rect x="974.5" y="99.8" width="21.4" height="51.5" fill="#ffdbce"/><rect x="995.6" y="99.8" width="21.4" height="51.5" fill="#ffd5c6"/><rect x="1016.6" y="99.8" width="21.4" height="51.5" fill="#ffcfbf"/><rect x="1037.7" y="99.8" width="21.4" height="51.5" fill="#ffcdbc"/><rect x="1058.8" y="99.8" width="21.4" height="51.5" fill="#ffcdbc"/><rect x="1079.9" y="99.8" width="21.4" height="51.5" fill="#ffcbba"/><rect x="1100.9" y="99.8" width="21.4" height="51.5" fill="#ffc9b7"/><rect x="1122.0" y="99.8" width="21.4" height="51.5" fill="#ffbca6"/><rect x="1143.1" y="99.8" width="21.4" height="51.5" fill="#ffa68b"/><rect x="1164.1" y="99.8" width="21.4" height="51.5" fill="#ff8362"/><rect x="1185.2" y="99.8" width="21.4" height="51.5" fill="#ff8362"/><rect x="1206.3" y="99.8" width="21.4" height="51.5" fill="#ffb8a1"/><rect x="1227.4" y="99.8" width="21.4" height="51.5" fill="#ffb49c"/><rect x="1248.4" y="99.8" width="21.4" height="51.5" fill="#ffb299"/><rect x="1269.5" y="99.8" width="21.4" height="51.5" fill="#ff8d6e"/><rect x="1290.6" y="99.8" width="21.4" height="51.5" fill="#ff6846"/><rect x="1311.7" y="99.8" width="21.4" height="51.5" fill="#ff6846"/><rect x="1332.7" y="99.8" width="21.4" height="51.5" fill="#ff6846"/><rect x="890.2" y="150.9" width="21.4" height="51.5" fill="#ff8969"/><rect x="911.3" y="150.9" width="21.4" height="51.5" fill="#ff8969"/><rect x="932.3" y="150.9" width="21.4" height="51.5" fill="#ffdbce"/><rect x="953.4" y="150.9" width="21.4" height="51.5" fill="#ffdbce"/><rect x="974.5" y="150.9" width="21.4" height="51.5" fill="#ffdbce"/><rect x="995.6" y="150.9" width="21.4" height="51.5" fill="#ffd5c6"/><rect x="1016.6" y="150.9" width="21.4" height="51.5" fill="#ffcfbf"/><rect x="1037.7" y="150.9" width="21.4" height="51.5" fill="#ffcdbc"/><rect x="1058.8" y="150.9" width="21.4" height="51.5" fill="#ffcdbc"/><rect x="1079.9" y="150.9" width="21.4" height="51.5" fill="#ffcbba"/><rect x="1100.9" y="150.9" width="21.4" height="51.5" fill="#ffc9b7"/><rect x="1122.0" y="150.9" width="21.4" height="51.5" fill="#ffc7b5"/><rect x="1143.1" y="150.9" width="21.4" height="51.5" fill="#ffc6b2"/><rect x="1164.1" y="150.9" width="21.4" height="51.5" fill="#ffb49c"/><rect x="1185.2" y="150.9" width="21.4" height="51.5" fill="#ffb8a1"/><rect x="1206.3" y="150.9" width="21.4" height="51.5" fill="#ffb8a1"/><rect x="1227.4" y="150.9" width="21.4" height="51.5" fill="#ffb49c"/><rect x="1248.4" y="150.9" width="21.4" height="51.5" fill="#ffb299"/><rect x="1269.5" y="150.9" width="21.4" height="51.5" fill="#ff8d6e"/><rect x="1290.6" y="150.9" width="21.4" height="51.5" fill="#ff6846"/><rect x="1311.7" y="150.9" width="21.4" height="51.5" fill="#ff6846"/><rect x="1332.7" y="150.9" width="21.4" height="51.5" fill="#ff6846"/><rect x="890.2" y="202.1" width="21.4" height="51.5" fill="#ffb8a1"/><rect x="911.3" y="202.1" width="21.4" height="51.5" fill="#ffb8a1"/><rect x="932.3" y="202.1" width="21.4" height="51.5" fill="#ffb8a1"/><rect x="953.4" y="202.1" width="21.4" height="51.5" fill="#ffdbce"/><rect x="974.5" y="202.1" width="21.4" height="51.5" fill="#ffdbce"/><rect x="995.6" y="202.1" width="21.4" height="51.5" fill="#ffd5c6"/><rect x="1016.6" y="202.1" width="21.4" height="51.5" fill="#ffcfbf"/><rect x="1037.7" y="202.1" width="21.4" height="51.5" fill="#ffcdbc"/><rect x="1058.8" y="202.1" width="21.4" height="51.5" fill="#ffcdbc"/><rect x="1079.9" y="202.1" width="21.4" height="51.5" fill="#ffcbba"/><rect x="1100.9" y="202.1" width="21.4" height="51.5" fill="#ffc9b7"/><rect x="1122.0" y="202.1" width="21.4" height="51.5" fill="#ffc9b7"/><rect x="1143.1" y="202.1" width="21.4" height="51.5" fill="#ffc9b7"/><rect x="1164.1" y="202.1" width="21.4" height="51.5" fill="#ffcdbc"/><rect x="1185.2" y="202.1" width="21.4" height="51.5" fill="#ffcdbc"/><rect x="1206.3" y="202.1" width="21.4" height="51.5" fill="#ffb8a1"/><rect x="1227.4" y="202.1" width="21.4" height="51.5" fill="#ffb49c"/><rect x="1248.4" y="202.1" width="21.4" height="51.5" fill="#ffb299"/><rect x="1269.5" y="202.1" width="21.4" height="51.5" fill="#ff8d6e"/><rect x="1290.6" y="202.1" width="21.4" height="51.5" fill="#ff6846"/><rect x="1311.7" y="202.1" width="21.4" height="51.5" fill="#ff6846"/><rect x="1332.7" y="202.1" width="21.4" height="51.5" fill="#ff6846"/><rect x="890.2" y="253.2" width="21.4" height="51.5" fill="#ffffff"/><rect x="911.3" y="253.2" width="21.4" height="51.5" fill="#ffffff"/><rect x="932.3" y="253.2" width="21.4" height="51.5" fill="#ffffff"/><rect x="953.4" y="253.2" width="21.4" height="51.5" fill="#ffe6dd"/><rect x="974.5" y="253.2" width="21.4" height="51.5" fill="#ffdbce"/><rect x="995.6" y="253.2" width="21.4" height="51.5" fill="#ffd5c6"/><rect x="1016.6" y="253.2" width="21.4" height="51.5" fill="#ffcfbf"/><rect x="1037.7" y="253.2" width="21.4" height="51.5" fill="#ffcdbc"/><rect x="1058.8" y="253.2" width="21.4" height="51.5" fill="#ffcdbc"/><rect x="1079.9" y="253.2" width="21.4" height="51.5" fill="#ffcbba"/><rect x="1100.9" y="253.2" width="21.4" height="51.5" fill="#ffc9b7"/><rect x="1122.0" y="253.2" width="21.4" height="51.5" fill="#ffe2d8"/><rect x="1143.1" y="253.2" width="21.4" height="51.5" fill="#ffe2d8"/><rect x="1164.1" y="253.2" width="21.4" height="51.5" fill="#ffe2d8"/><rect x="1185.2" y="253.2" width="21.4" height="51.5" fill="#ffe2d8"/><rect x="1206.3" y="253.2" width="21.4" height="51.5" fill="#ffcdbc"/><rect x="1227.4" y="253.2" width="21.4" height="51.5" fill="#ffbca6"/><rect x="1248.4" y="253.2" width="21.4" height="51.5" fill="#ffb299"/><rect x="1269.5" y="253.2" width="21.4" height="51.5" fill="#ff8d6e"/><rect x="1290.6" y="253.2" width="21.4" height="51.5" fill="#ff6846"/><rect x="1311.7" y="253.2" width="21.4" height="51.5" fill="#ff6846"/><rect x="1332.7" y="253.2" width="21.4" height="51.5" fill="#ff6846"/><rect x="890.2" y="304.4" width="21.4" height="51.5" fill="#f8fff5"/><rect x="911.3" y="304.4" width="21.4" height="51.5" fill="#f8fff5"/><rect x="932.3" y="304.4" width="21.4" height="51.5" fill="#f8fff5"/><rect x="953.4" y="304.4" width="21.4" height="51.5" fill="#f8fff5"/><rect x="974.5" y="304.4" width="21.4" height="51.5" fill="#ffdbce"/><rect x="995.6" y="304.4" width="21.4" height="51.5" fill="#ffddd0"/><rect x="1016.6" y="304.4" width="21.4" height="51.5" fill="#ffcfbf"/><rect x="1037.7" y="304.4" width="21.4" height="51.5" fill="#ffd5c6"/><rect x="1058.8" y="304.4" width="21.4" height="51.5" fill="#ffcdbc"/><rect x="1079.9" y="304.4" width="21.4" height="51.5" fill="#ffd3c4"/><rect x="1100.9" y="304.4" width="21.4" height="51.5" fill="#ffd5c6"/><rect x="1122.0" y="304.4" width="21.4" height="51.5" fill="#ffe0d6"/><rect x="1143.1" y="304.4" width="21.4" height="51.5" fill="#ffe0d6"/><rect x="1164.1" y="304.4" width="21.4" height="51.5" fill="#ffe0d6"/><rect x="1185.2" y="304.4" width="21.4" height="51.5" fill="#ffe0d6"/><rect x="1206.3" y="304.4" width="21.4" height="51.5" fill="#ffe0d6"/><rect x="1227.4" y="304.4" width="21.4" height="51.5" fill="#ffe0d6"/><rect x="1248.4" y="304.4" width="21.4" height="51.5" fill="#ffb299"/><rect x="1269.5" y="304.4" width="21.4" height="51.5" fill="#ff8565"/><rect x="1290.6" y="304.4" width="21.4" height="51.5" fill="#ff6846"/><rect x="1311.7" y="304.4" width="21.4" height="51.5" fill="#ff5636"/><rect x="1332.7" y="304.4" width="21.4" height="51.5" fill="#ff0e04"/><rect x="890.2" y="355.6" width="21.4" height="51.5" fill="#f2ffed"/><rect x="911.3" y="355.6" width="21.4" height="51.5" fill="#f2ffed"/><rect x="932.3" y="355.6" width="21.4" height="51.5" fill="#f2ffed"/><rect x="953.4" y="355.6" width="21.4" height="51.5" fill="#fcfffb"/><rect x="974.5" y="355.6" width="21.4" height="51.5" fill="#fff2ed"/><rect x="995.6" y="355.6" width="21.4" height="51.5" fill="#fff2ed"/><rect x="1016.6" y="355.6" width="21.4" height="51.5" fill="#ffe4db"/><rect x="1037.7" y="355.6" width="21.4" height="51.5" fill="#ffe6dd"/><rect x="1058.8" y="355.6" width="21.4" height="51.5" fill="#ffdfd3"/><rect x="1079.9" y="355.6" width="21.4" height="51.5" fill="#ffe2d8"/><rect x="1100.9" y="355.6" width="21.4" height="51.5" fill="#ffeae2"/><rect x="1122.0" y="355.6" width="21.4" height="51.5" fill="#ffeae2"/><rect x="1143.1" y="355.6" width="21.4" height="51.5" fill="#ffeae2"/><rect x="1164.1" y="355.6" width="21.4" height="51.5" fill="#ffeae2"/><rect x="1185.2" y="355.6" width="21.4" height="51.5" fill="#ffeae2"/><rect x="1206.3" y="355.6" width="21.4" height="51.5" fill="#ffeae2"/><rect x="1227.4" y="355.6" width="21.4" height="51.5" fill="#ffcbba"/><rect x="1248.4" y="355.6" width="21.4" height="51.5" fill="#ff9c7f"/><rect x="1269.5" y="355.6" width="21.4" height="51.5" fill="#ff6341"/><rect x="1290.6" y="355.6" width="21.4" height="51.5" fill="#ff5031"/><rect x="1311.7" y="355.6" width="21.4" height="51.5" fill="#ff1e0c"/><rect x="1332.7" y="355.6" width="21.4" height="51.5" fill="#ff0e04"/><rect x="890.2" y="406.7" width="21.4" height="51.5" fill="#f2ffed"/><rect x="911.3" y="406.7" width="21.4" height="51.5" fill="#f2ffed"/><rect x="932.3" y="406.7" width="21.4" height="51.5" fill="#fbfff9"/><rect x="953.4" y="406.7" width="21.4" height="51.5" fill="#fff7f5"/><rect x="974.5" y="406.7" width="21.4" height="51.5" fill="#fff5f2"/><rect x="995.6" y="406.7" width="21.4" height="51.5" fill="#fff2ed"/><rect x="1016.6" y="406.7" width="21.4" height="51.5" fill="#ffece5"/><rect x="1037.7" y="406.7" width="21.4" height="51.5" fill="#ffe6dd"/><rect x="1058.8" y="406.7" width="21.4" height="51.5" fill="#ffe4db"/><rect x="1079.9" y="406.7" width="21.4" height="51.5" fill="#ffe2d8"/><rect x="1100.9" y="406.7" width="21.4" height="51.5" fill="#ffdbce"/><rect x="1122.0" y="406.7" width="21.4" height="51.5" fill="#ffd7c9"/><rect x="1143.1" y="406.7" width="21.4" height="51.5" fill="#ffe2d8"/><rect x="1164.1" y="406.7" width="21.4" height="51.5" fill="#ffe2d8"/><rect x="1185.2" y="406.7" width="21.4" height="51.5" fill="#ffe2d8"/><rect x="1206.3" y="406.7" width="21.4" height="51.5" fill="#ffe2d8"/><rect x="1227.4" y="406.7" width="21.4" height="51.5" fill="#ffae95"/><rect x="1248.4" y="406.7" width="21.4" height="51.5" fill="#ff8b6c"/><rect x="1269.5" y="406.7" width="21.4" height="51.5" fill="#ff6341"/><rect x="1290.6" y="406.7" width="21.4" height="51.5" fill="#ff4729"/><rect x="1311.7" y="406.7" width="21.4" height="51.5" fill="#ff1e0c"/><rect x="1332.7" y="406.7" width="21.4" height="51.5" fill="#ff0e04"/><rect x="890.2" y="457.9" width="21.4" height="51.5" fill="#f8fff5"/><rect x="911.3" y="457.9" width="21.4" height="51.5" fill="#fff9f7"/><rect x="932.3" y="457.9" width="21.4" height="51.5" fill="#fff7f5"/><rect x="953.4" y="457.9" width="21.4" height="51.5" fill="#fff7f5"/><rect x="974.5" y="457.9" width="21.4" height="51.5" fill="#fff5f2"/><rect x="995.6" y="457.9" width="21.4" height="51.5" fill="#fff2ed"/><rect x="1016.6" y="457.9" width="21.4" height="51.5" fill="#ffece5"/><rect x="1037.7" y="457.9" width="21.4" height="51.5" fill="#ffe6dd"/><rect x="1058.8" y="457.9" width="21.4" height="51.5" fill="#ffe4db"/><rect x="1079.9" y="457.9" width="21.4" height="51.5" fill="#ffe2d8"/><rect x="1100.9" y="457.9" width="21.4" height="51.5" fill="#ffd7c9"/><rect x="1122.0" y="457.9" width="21.4" height="51.5" fill="#ffcbba"/><rect x="1143.1" y="457.9" width="21.4" height="51.5" fill="#ffe2d8"/><rect x="1164.1" y="457.9" width="21.4" height="51.5" fill="#ffe2d8"/><rect x="1185.2" y="457.9" width="21.4" height="51.5" fill="#ffcdbc"/><rect x="1206.3" y="457.9" width="21.4" height="51.5" fill="#ffbaa3"/><rect x="1227.4" y="457.9" width="21.4" height="51.5" fill="#ffae95"/><rect x="1248.4" y="457.9" width="21.4" height="51.5" fill="#ff8b6c"/><rect x="1269.5" y="457.9" width="21.4" height="51.5" fill="#ff6341"/><rect x="1290.6" y="457.9" width="21.4" height="51.5" fill="#ff4729"/><rect x="1311.7" y="457.9" width="21.4" height="51.5" fill="#ff1e0c"/><rect x="1332.7" y="457.9" width="21.4" height="51.5" fill="#ff0e04"/><rect x="890.2" y="509.0" width="21.4" height="51.5" fill="#ffffff"/><rect x="911.3" y="509.0" width="21.4" height="51.5" fill="#ffeae2"/><rect x="932.3" y="509.0" width="21.4" height="51.5" fill="#fff7f5"/><rect x="953.4" y="509.0" width="21.4" height="51.5" fill="#fff7f5"/><rect x="974.5" y="509.0" width="21.4" height="51.5" fill="#fff5f2"/><rect x="995.6" y="509.0" width="21.4" height="51.5" fill="#fff2ed"/><rect x="1016.6" y="509.0" width="21.4" height="51.5" fill="#ffece5"/><rect x="1037.7" y="509.0" width="21.4" height="51.5" fill="#ffe6dd"/><rect x="1058.8" y="509.0" width="21.4" height="51.5" fill="#ffe4db"/><rect x="1079.9" y="509.0" width="21.4" height="51.5" fill="#ffe2d8"/><rect x="1100.9" y="509.0" width="21.4" height="51.5" fill="#ffd7c9"/><rect x="1122.0" y="509.0" width="21.4" height="51.5" fill="#ffcbba"/><rect x="1143.1" y="509.0" width="21.4" height="51.5" fill="#ffcbba"/><rect x="1164.1" y="509.0" width="21.4" height="51.5" fill="#ffcdbc"/><rect x="1185.2" y="509.0" width="21.4" height="51.5" fill="#ffbaa3"/><rect x="1206.3" y="509.0" width="21.4" height="51.5" fill="#ffb49c"/><rect x="1227.4" y="509.0" width="21.4" height="51.5" fill="#ffae95"/><rect x="1248.4" y="509.0" width="21.4" height="51.5" fill="#ff8b6c"/><rect x="1269.5" y="509.0" width="21.4" height="51.5" fill="#ff6341"/><rect x="1290.6" y="509.0" width="21.4" height="51.5" fill="#ff4729"/><rect x="1311.7" y="509.0" width="21.4" height="51.5" fill="#ff1e0c"/><rect x="1332.7" y="509.0" width="21.4" height="51.5" fill="#ff0e04"/><path d="M911.3 48.6L911.3 560.2" stroke="#fff" stroke-width="0.7" stroke-opacity="0.22"/><path d="M932.3 48.6L932.3 560.2" stroke="#fff" stroke-width="0.7" stroke-opacity="0.22"/><path d="M953.4 48.6L953.4 560.2" stroke="#fff" stroke-width="0.7" stroke-opacity="0.22"/><path d="M974.5 48.6L974.5 560.2" stroke="#fff" stroke-width="0.7" stroke-opacity="0.22"/><path d="M995.6 48.6L995.6 560.2" stroke="#fff" stroke-width="0.7" stroke-opacity="0.22"/><path d="M1016.6 48.6L1016.6 560.2" stroke="#fff" stroke-width="0.7" stroke-opacity="0.22"/><path d="M1037.7 48.6L1037.7 560.2" stroke="#fff" stroke-width="0.7" stroke-opacity="0.22"/><path d="M1058.8 48.6L1058.8 560.2" stroke="#fff" stroke-width="0.7" stroke-opacity="0.22"/><path d="M1079.9 48.6L1079.9 560.2" stroke="#fff" stroke-width="0.7" stroke-opacity="0.22"/><path d="M1100.9 48.6L1100.9 560.2" stroke="#fff" stroke-width="0.7" stroke-opacity="0.22"/><path d="M1122.0 48.6L1122.0 560.2" stroke="#fff" stroke-width="0.7" stroke-opacity="0.22"/><path d="M1143.1 48.6L1143.1 560.2" stroke="#fff" stroke-width="0.7" stroke-opacity="0.22"/><path d="M1164.1 48.6L1164.1 560.2" stroke="#fff" stroke-width="0.7" stroke-opacity="0.22"/><path d="M1185.2 48.6L1185.2 560.2" stroke="#fff" stroke-width="0.7" stroke-opacity="0.22"/><path d="M1206.3 48.6L1206.3 560.2" stroke="#fff" stroke-width="0.7" stroke-opacity="0.22"/><path d="M1227.4 48.6L1227.4 560.2" stroke="#fff" stroke-width="0.7" stroke-opacity="0.22"/><path d="M1248.4 48.6L1248.4 560.2" stroke="#fff" stroke-width="0.7" stroke-opacity="0.22"/><path d="M1269.5 48.6L1269.5 560.2" stroke="#fff" stroke-width="0.7" stroke-opacity="0.22"/><path d="M1290.6 48.6L1290.6 560.2" stroke="#fff" stroke-width="0.7" stroke-opacity="0.22"/><path d="M1311.7 48.6L1311.7 560.2" stroke="#fff" stroke-width="0.7" stroke-opacity="0.22"/><path d="M1332.7 48.6L1332.7 560.2" stroke="#fff" stroke-width="0.7" stroke-opacity="0.22"/><path d="M890.2 99.8L1353.8 99.8" stroke="#fff" stroke-width="0.7" stroke-opacity="0.22"/><path d="M890.2 150.9L1353.8 150.9" stroke="#fff" stroke-width="0.7" stroke-opacity="0.22"/><path d="M890.2 202.1L1353.8 202.1" stroke="#fff" stroke-width="0.7" stroke-opacity="0.22"/><path d="M890.2 253.2L1353.8 253.2" stroke="#fff" stroke-width="0.7" stroke-opacity="0.22"/><path d="M890.2 304.4L1353.8 304.4" stroke="#fff" stroke-width="0.7" stroke-opacity="0.22"/><path d="M890.2 355.6L1353.8 355.6" stroke="#fff" stroke-width="0.7" stroke-opacity="0.22"/><path d="M890.2 406.7L1353.8 406.7" stroke="#fff" stroke-width="0.7" stroke-opacity="0.22"/><path d="M890.2 457.9L1353.8 457.9" stroke="#fff" stroke-width="0.7" stroke-opacity="0.22"/><path d="M890.2 509.0L1353.8 509.0" stroke="#fff" stroke-width="0.7" stroke-opacity="0.22"/><g class="s m" font-size="19.4" fill="#111" stroke="#111" stroke-width="0.3" transform="scale(0.785,1)"><text x="1147.4" y="80.7">94</text><text x="1174.3" y="80.7">94</text><text x="1201.1" y="80.7">94</text><text x="1228.0" y="80.7">44</text><text x="1254.8" y="80.7">19</text><text x="1281.7" y="80.7">22</text><text x="1308.5" y="80.7">25</text><text x="1335.3" y="80.7">26</text><text x="1362.2" y="80.7">26</text><text x="1389.0" y="80.7">27</text><text x="1415.9" y="80.7">28</text><text x="1442.7" y="80.7">89</text><text x="1469.6" y="80.7">89</text><text x="1496.4" y="80.7">89</text><text x="1523.3" y="80.7">89</text><text x="1550.1" y="80.7">63</text><text x="1576.9" y="80.7">47</text><text x="1603.8" y="80.7">40</text><text x="1630.6" y="80.7">58</text><text x="1657.5" y="80.7">75</text><text x="1684.3" y="80.7">75</text><text x="1711.2" y="80.7">75</text><text x="1147.4" y="131.9">82</text><text x="1174.3" y="131.9">82</text><text x="1201.1" y="131.9">82</text><text x="1228.0" y="131.9">19</text><text x="1254.8" y="131.9">19</text><text x="1281.7" y="131.9">22</text><text x="1308.5" y="131.9">25</text><text x="1335.3" y="131.9">26</text><text x="1362.2" y="131.9">26</text><text x="1389.0" y="131.9">27</text><text x="1415.9" y="131.9">28</text><text x="1442.7" y="131.9">35</text><text x="1469.6" y="131.9">46</text><text x="1496.4" y="131.9">63</text><text x="1523.3" y="131.9">63</text><text x="1550.1" y="131.9">37</text><text x="1576.9" y="131.9">39</text><text x="1603.8" y="131.9">40</text><text x="1630.6" y="131.9">58</text><text x="1657.5" y="131.9">75</text><text x="1684.3" y="131.9">75</text><text x="1711.2" y="131.9">75</text><text x="1147.4" y="183.0">60</text><text x="1174.3" y="183.0">60</text><text x="1201.1" y="183.0">19</text><text x="1228.0" y="183.0">19</text><text x="1254.8" y="183.0">19</text><text x="1281.7" y="183.0">22</text><text x="1308.5" y="183.0">25</text><text x="1335.3" y="183.0">26</text><text x="1362.2" y="183.0">26</text><text x="1389.0" y="183.0">27</text><text x="1415.9" y="183.0">28</text><text x="1442.7" y="183.0">29</text><text x="1469.6" y="183.0">30</text><text x="1496.4" y="183.0">39</text><text x="1523.3" y="183.0">37</text><text x="1550.1" y="183.0">37</text><text x="1576.9" y="183.0">39</text><text x="1603.8" y="183.0">40</text><text x="1630.6" y="183.0">58</text><text x="1657.5" y="183.0">75</text><text x="1684.3" y="183.0">75</text><text x="1711.2" y="183.0">75</text><text x="1147.4" y="234.2">37</text><text x="1174.3" y="234.2">37</text><text x="1201.1" y="234.2">37</text><text x="1228.0" y="234.2">19</text><text x="1254.8" y="234.2">19</text><text x="1281.7" y="234.2">22</text><text x="1308.5" y="234.2">25</text><text x="1335.3" y="234.2">26</text><text x="1362.2" y="234.2">26</text><text x="1389.0" y="234.2">27</text><text x="1415.9" y="234.2">28</text><text x="1442.7" y="234.2">28</text><text x="1469.6" y="234.2">28</text><text x="1496.4" y="234.2">26</text><text x="1523.3" y="234.2">26</text><text x="1550.1" y="234.2">37</text><text x="1576.9" y="234.2">39</text><text x="1603.8" y="234.2">40</text><text x="1630.6" y="234.2">58</text><text x="1657.5" y="234.2">75</text><text x="1684.3" y="234.2">75</text><text x="1711.2" y="234.2">75</text><text x="1147.4" y="285.4">0</text><text x="1174.3" y="285.4">0</text><text x="1201.1" y="285.4">0</text><text x="1228.0" y="285.4">13</text><text x="1254.8" y="285.4">19</text><text x="1281.7" y="285.4">22</text><text x="1308.5" y="285.4">25</text><text x="1335.3" y="285.4">26</text><text x="1362.2" y="285.4">26</text><text x="1389.0" y="285.4">27</text><text x="1415.9" y="285.4">28</text><text x="1442.7" y="285.4">15</text><text x="1469.6" y="285.4">15</text><text x="1496.4" y="285.4">15</text><text x="1523.3" y="285.4">15</text><text x="1550.1" y="285.4">26</text><text x="1576.9" y="285.4">35</text><text x="1603.8" y="285.4">40</text><text x="1630.6" y="285.4">58</text><text x="1657.5" y="285.4">75</text><text x="1684.3" y="285.4">75</text><text x="1711.2" y="285.4">75</text><text x="1147.4" y="336.5">–5</text><text x="1174.3" y="336.5">–5</text><text x="1201.1" y="336.5">–5</text><text x="1228.0" y="336.5">–5</text><text x="1254.8" y="336.5">19</text><text x="1281.7" y="336.5">18</text><text x="1308.5" y="336.5">25</text><text x="1335.3" y="336.5">22</text><text x="1362.2" y="336.5">26</text><text x="1389.0" y="336.5">23</text><text x="1415.9" y="336.5">22</text><text x="1442.7" y="336.5">16</text><text x="1469.6" y="336.5">16</text><text x="1496.4" y="336.5">16</text><text x="1523.3" y="336.5">16</text><text x="1550.1" y="336.5">16</text><text x="1576.9" y="336.5">16</text><text x="1603.8" y="336.5">40</text><text x="1630.6" y="336.5">62</text><text x="1657.5" y="336.5">75</text><text x="1684.3" y="336.5">82</text><text x="1711.2" y="336.5">99</text><text x="1147.4" y="387.7">–9</text><text x="1174.3" y="387.7">–9</text><text x="1201.1" y="387.7">–9</text><text x="1228.0" y="387.7">–2</text><text x="1254.8" y="387.7">7</text><text x="1281.7" y="387.7">7</text><text x="1308.5" y="387.7">14</text><text x="1335.3" y="387.7">13</text><text x="1362.2" y="387.7">17</text><text x="1389.0" y="387.7">15</text><text x="1415.9" y="387.7">11</text><text x="1442.7" y="387.7">11</text><text x="1469.6" y="387.7">11</text><text x="1496.4" y="387.7">11</text><text x="1523.3" y="387.7">11</text><text x="1550.1" y="387.7">11</text><text x="1576.9" y="387.7">27</text><text x="1603.8" y="387.7">51</text><text x="1630.6" y="387.7">77</text><text x="1657.5" y="387.7">84</text><text x="1684.3" y="387.7">97</text><text x="1711.2" y="387.7">99</text><text x="1147.4" y="438.8">–9</text><text x="1174.3" y="438.8">–9</text><text x="1201.1" y="438.8">–3</text><text x="1228.0" y="438.8">4</text><text x="1254.8" y="438.8">5</text><text x="1281.7" y="438.8">7</text><text x="1308.5" y="438.8">10</text><text x="1335.3" y="438.8">13</text><text x="1362.2" y="438.8">14</text><text x="1389.0" y="438.8">15</text><text x="1415.9" y="438.8">19</text><text x="1442.7" y="438.8">21</text><text x="1469.6" y="438.8">15</text><text x="1496.4" y="438.8">15</text><text x="1523.3" y="438.8">15</text><text x="1550.1" y="438.8">15</text><text x="1576.9" y="438.8">42</text><text x="1603.8" y="438.8">59</text><text x="1630.6" y="438.8">77</text><text x="1657.5" y="438.8">87</text><text x="1684.3" y="438.8">97</text><text x="1711.2" y="438.8">99</text><text x="1147.4" y="490.0">–5</text><text x="1174.3" y="490.0">3</text><text x="1201.1" y="490.0">4</text><text x="1228.0" y="490.0">4</text><text x="1254.8" y="490.0">5</text><text x="1281.7" y="490.0">7</text><text x="1308.5" y="490.0">10</text><text x="1335.3" y="490.0">13</text><text x="1362.2" y="490.0">14</text><text x="1389.0" y="490.0">15</text><text x="1415.9" y="490.0">21</text><text x="1442.7" y="490.0">27</text><text x="1469.6" y="490.0">15</text><text x="1496.4" y="490.0">15</text><text x="1523.3" y="490.0">26</text><text x="1550.1" y="490.0">36</text><text x="1576.9" y="490.0">42</text><text x="1603.8" y="490.0">59</text><text x="1630.6" y="490.0">77</text><text x="1657.5" y="490.0">87</text><text x="1684.3" y="490.0">97</text><text x="1711.2" y="490.0">99</text><text x="1147.4" y="541.2">0</text><text x="1174.3" y="541.2">11</text><text x="1201.1" y="541.2">4</text><text x="1228.0" y="541.2">4</text><text x="1254.8" y="541.2">5</text><text x="1281.7" y="541.2">7</text><text x="1308.5" y="541.2">10</text><text x="1335.3" y="541.2">13</text><text x="1362.2" y="541.2">14</text><text x="1389.0" y="541.2">15</text><text x="1415.9" y="541.2">21</text><text x="1442.7" y="541.2">27</text><text x="1469.6" y="541.2">27</text><text x="1496.4" y="541.2">26</text><text x="1523.3" y="541.2">36</text><text x="1550.1" y="541.2">39</text><text x="1576.9" y="541.2">42</text><text x="1603.8" y="541.2">59</text><text x="1630.6" y="541.2">77</text><text x="1657.5" y="541.2">87</text><text x="1684.3" y="541.2">97</text><text x="1711.2" y="541.2">99</text></g><text transform="translate(866.0,77.2) rotate(-90)" y="5.9" class="r m" font-size="18" fill="#ff0000">111</text><path d="M883.0 74.2L889.0 74.2" stroke="#333" stroke-width="1.6"/><text transform="translate(866.0,128.3) rotate(-90)" y="5.9" class="r m" font-size="18" fill="#ff0000">37.0</text><path d="M883.0 125.3L889.0 125.3" stroke="#333" stroke-width="1.6"/><text transform="translate(866.0,179.5) rotate(-90)" y="5.9" class="r m" font-size="18" fill="#ff0000">13.2</text><path d="M883.0 176.5L889.0 176.5" stroke="#333" stroke-width="1.6"/><text transform="translate(866.0,230.7) rotate(-90)" y="5.9" class="r m" font-size="18" fill="#ff0000">12.4</text><path d="M883.0 227.7L889.0 227.7" stroke="#333" stroke-width="1.6"/><text transform="translate(866.0,281.8) rotate(-90)" y="5.9" class="r m" font-size="18" fill="#ff0000">4.12</text><path d="M883.0 278.8L889.0 278.8" stroke="#333" stroke-width="1.6"/><text transform="translate(866.0,333.0) rotate(-90)" y="5.9" class="r m" font-size="18" fill="#ff0000">1.37</text><path d="M883.0 330.0L889.0 330.0" stroke="#333" stroke-width="1.6"/><text transform="translate(866.0,384.1) rotate(-90)" y="5.9" class="r m" font-size="18" fill="#ff0000">0.46</text><path d="M883.0 381.1L889.0 381.1" stroke="#333" stroke-width="1.6"/><text transform="translate(866.0,435.3) rotate(-90)" y="5.9" class="r m" font-size="18" fill="#ff0000">0.15</text><path d="M883.0 432.3L889.0 432.3" stroke="#333" stroke-width="1.6"/><text transform="translate(866.0,486.5) rotate(-90)" y="5.9" class="r m" font-size="18" fill="#ff0000">0.10</text><path d="M883.0 483.5L889.0 483.5" stroke="#333" stroke-width="1.6"/><text transform="translate(866.0,537.6) rotate(-90)" y="5.9" class="r m" font-size="18" fill="#ff0000">0</text><path d="M883.0 534.6L889.0 534.6" stroke="#333" stroke-width="1.6"/><path d="M900.7 560.7L900.7 566.7" stroke="#333" stroke-width="1.6"/><text transform="translate(900.7,568.0) rotate(-90) scale(1,1.3)" y="6.0" class="r e" font-size="18.2" fill="#ff0000">0</text><path d="M921.8 560.7L921.8 566.7" stroke="#333" stroke-width="1.6"/><text transform="translate(921.8,568.0) rotate(-90) scale(1,1.3)" y="6.0" class="r e" font-size="18.2" fill="#ff0000">0.28</text><path d="M942.9 560.7L942.9 566.7" stroke="#333" stroke-width="1.6"/><text transform="translate(942.9,568.0) rotate(-90) scale(1,1.3)" y="6.0" class="r e" font-size="18.2" fill="#ff0000">0.85</text><path d="M964.0 560.7L964.0 566.7" stroke="#333" stroke-width="1.6"/><text transform="translate(964.0,568.0) rotate(-90) scale(1,1.3)" y="6.0" class="r e" font-size="18.2" fill="#ff0000">2.54</text><path d="M985.0 560.7L985.0 566.7" stroke="#333" stroke-width="1.6"/><text transform="translate(985.0,568.0) rotate(-90) scale(1,1.3)" y="6.0" class="r e" font-size="18.2" fill="#ff0000">4.12</text><path d="M1006.1 560.7L1006.1 566.7" stroke="#333" stroke-width="1.6"/><text transform="translate(1006.1,568.0) rotate(-90) scale(1,1.3)" y="6.0" class="r e" font-size="18.2" fill="#ff0000">7.62</text><path d="M1027.2 560.7L1027.2 566.7" stroke="#333" stroke-width="1.6"/><text transform="translate(1027.2,568.0) rotate(-90) scale(1,1.3)" y="6.0" class="r e" font-size="18.2" fill="#ff0000">12</text><path d="M1048.2 560.7L1048.2 566.7" stroke="#333" stroke-width="1.6"/><text transform="translate(1048.2,568.0) rotate(-90) scale(1,1.3)" y="6.0" class="r e" font-size="18.2" fill="#ff0000">23</text><path d="M1069.3 560.7L1069.3 566.7" stroke="#333" stroke-width="1.6"/><text transform="translate(1069.3,568.0) rotate(-90) scale(1,1.3)" y="6.0" class="r e" font-size="18.2" fill="#ff0000">37</text><path d="M1090.4 560.7L1090.4 566.7" stroke="#333" stroke-width="1.6"/><text transform="translate(1090.4,568.0) rotate(-90) scale(1,1.3)" y="6.0" class="r e" font-size="18.2" fill="#ff0000">69</text><path d="M1111.5 560.7L1111.5 566.7" stroke="#333" stroke-width="1.6"/><text transform="translate(1111.5,568.0) rotate(-90) scale(1,1.3)" y="6.0" class="r e" font-size="18.2" fill="#ff0000">111</text><path d="M1132.5 560.7L1132.5 566.7" stroke="#333" stroke-width="1.6"/><text transform="translate(1132.5,568.0) rotate(-90) scale(1,1.3)" y="6.0" class="r e" font-size="18.2" fill="#ff0000">206</text><path d="M1153.6 560.7L1153.6 566.7" stroke="#333" stroke-width="1.6"/><text transform="translate(1153.6,568.0) rotate(-90) scale(1,1.3)" y="6.0" class="r e" font-size="18.2" fill="#ff0000">333</text><path d="M1174.7 560.7L1174.7 566.7" stroke="#333" stroke-width="1.6"/><text transform="translate(1174.7,568.0) rotate(-90) scale(1,1.3)" y="6.0" class="r e" font-size="18.2" fill="#ff0000">492</text><path d="M1195.8 560.7L1195.8 566.7" stroke="#333" stroke-width="1.6"/><text transform="translate(1195.8,568.0) rotate(-90) scale(1,1.3)" y="6.0" class="r e" font-size="18.2" fill="#ff0000">617</text><path d="M1216.8 560.7L1216.8 566.7" stroke="#333" stroke-width="1.6"/><text transform="translate(1216.8,568.0) rotate(-90) scale(1,1.3)" y="6.0" class="r e" font-size="18.2" fill="#ff0000">1000</text><path d="M1237.9 560.7L1237.9 566.7" stroke="#333" stroke-width="1.6"/><text transform="translate(1237.9,568.0) rotate(-90) scale(1,1.3)" y="6.0" class="r e" font-size="18.2" fill="#ff0000">1852</text><path d="M1259.0 560.7L1259.0 566.7" stroke="#333" stroke-width="1.6"/><text transform="translate(1259.0,568.0) rotate(-90) scale(1,1.3)" y="6.0" class="r e" font-size="18.2" fill="#ff0000">3000</text><path d="M1280.0 560.7L1280.0 566.7" stroke="#333" stroke-width="1.6"/><text transform="translate(1280.0,568.0) rotate(-90) scale(1,1.3)" y="6.0" class="r e" font-size="18.2" fill="#ff0000">5560</text><path d="M1301.1 560.7L1301.1 566.7" stroke="#333" stroke-width="1.6"/><text transform="translate(1301.1,568.0) rotate(-90) scale(1,1.3)" y="6.0" class="r e" font-size="18.2" fill="#ff0000">9000</text><path d="M1322.2 560.7L1322.2 566.7" stroke="#333" stroke-width="1.6"/><text transform="translate(1322.2,568.0) rotate(-90) scale(1,1.3)" y="6.0" class="r e" font-size="18.2" fill="#ff0000">16600</text><path d="M1343.3 560.7L1343.3 566.7" stroke="#333" stroke-width="1.6"/><text transform="translate(1343.3,568.0) rotate(-90) scale(1,1.3)" y="6.0" class="r e" font-size="18.2" fill="#ff0000">50000</text><defs><linearGradient id="g1359_270" x1="0" y1="0" x2="0" y2="1"><stop offset="0.0000" stop-color="#ff0000"/><stop offset="0.0455" stop-color="#ff1f0c"/><stop offset="0.0909" stop-color="#ff371d"/><stop offset="0.1364" stop-color="#ff492a"/><stop offset="0.1818" stop-color="#ff5737"/><stop offset="0.2273" stop-color="#ff6443"/><stop offset="0.2727" stop-color="#ff704f"/><stop offset="0.3182" stop-color="#ff7c5b"/><stop offset="0.3636" stop-color="#ff8767"/><stop offset="0.4091" stop-color="#ff9273"/><stop offset="0.4545" stop-color="#ff9d80"/><stop offset="0.5000" stop-color="#ffa78c"/><stop offset="0.5455" stop-color="#ffb198"/><stop offset="0.5909" stop-color="#ffbba5"/><stop offset="0.6364" stop-color="#ffc5b2"/><stop offset="0.6818" stop-color="#ffcfbf"/><stop offset="0.7273" stop-color="#ffd9cc"/><stop offset="0.7727" stop-color="#ffe3d9"/><stop offset="0.8182" stop-color="#ffede6"/><stop offset="0.8636" stop-color="#fff6f3"/><stop offset="0.9091" stop-color="#fefffe"/><stop offset="0.9545" stop-color="#f7fff3"/><stop offset="1.0000" stop-color="#f0ffe9"/></linearGradient></defs><rect x="1359.0" y="270.0" width="21.0" height="111.4" fill="url(#g1359_270)"/><text transform="translate(1390.8,296.6) scale(0.9,1)" y="5.3" class="s" font-size="14.7" fill="#1a1a1a">75</text><text transform="translate(1390.8,321.3) scale(0.9,1)" y="5.3" class="s" font-size="14.7" fill="#1a1a1a">50</text><text transform="translate(1390.8,346.0) scale(0.9,1)" y="5.3" class="s" font-size="14.7" fill="#1a1a1a">25</text><text transform="translate(1390.8,370.6) scale(0.9,1)" y="5.3" class="s" font-size="14.7" fill="#1a1a1a">0</text><text x="1359.5" y="258.0" class="s" font-size="19" fill="#1a1a1a" textLength="114" lengthAdjust="spacingAndGlyphs">Cytotoxicity (%)</text><rect x="115.6" y="1301.4" width="453.1" height="4.6" fill="#e8e8e8"/><rect x="115.6" y="1815.0" width="453.1" height="5.4" fill="#e8e8e8"/><rect x="115.6" y="1306.0" width="1.2" height="509.0" fill="#e8e8e8"/><path d="M127.0 1301.4V1306.0M127.0 1815.0V1820.4M147.5 1301.4V1306.0M147.5 1815.0V1820.4M168.0 1301.4V1306.0M168.0 1815.0V1820.4M188.5 1301.4V1306.0M188.5 1815.0V1820.4M209.0 1301.4V1306.0M209.0 1815.0V1820.4M229.5 1301.4V1306.0M229.5 1815.0V1820.4M250.0 1301.4V1306.0M250.0 1815.0V1820.4M270.4 1301.4V1306.0M270.4 1815.0V1820.4M290.9 1301.4V1306.0M290.9 1815.0V1820.4M311.4 1301.4V1306.0M311.4 1815.0V1820.4M331.9 1301.4V1306.0M331.9 1815.0V1820.4M352.4 1301.4V1306.0M352.4 1815.0V1820.4M372.9 1301.4V1306.0M372.9 1815.0V1820.4M393.4 1301.4V1306.0M393.4 1815.0V1820.4M413.9 1301.4V1306.0M413.9 1815.0V1820.4M434.3 1301.4V1306.0M434.3 1815.0V1820.4M454.8 1301.4V1306.0M454.8 1815.0V1820.4M475.3 1301.4V1306.0M475.3 1815.0V1820.4M495.8 1301.4V1306.0M495.8 1815.0V1820.4M516.3 1301.4V1306.0M516.3 1815.0V1820.4M536.8 1301.4V1306.0M536.8 1815.0V1820.4M557.3 1301.4V1306.0M557.3 1815.0V1820.4" stroke="#fff" stroke-width="1.6"/><rect x="116.8" y="1306.0" width="20.8" height="51.2" fill="#ff2410"/><rect x="137.3" y="1306.0" width="20.8" height="51.2" fill="#ff2410"/><rect x="157.8" y="1306.0" width="20.8" height="51.2" fill="#ff2410"/><rect x="178.3" y="1306.0" width="20.8" height="51.2" fill="#ff2410"/><rect x="198.7" y="1306.0" width="20.8" height="51.2" fill="#ff2913"/><rect x="219.2" y="1306.0" width="20.8" height="51.2" fill="#ff8969"/><rect x="239.7" y="1306.0" width="20.8" height="51.2" fill="#ff9c7f"/><rect x="260.2" y="1306.0" width="20.8" height="51.2" fill="#ff8362"/><rect x="280.7" y="1306.0" width="20.8" height="51.2" fill="#ff3219"/><rect x="301.2" y="1306.0" width="20.8" height="51.2" fill="#ff3219"/><rect x="321.7" y="1306.0" width="20.8" height="51.2" fill="#ff3219"/><rect x="342.1" y="1306.0" width="20.8" height="51.2" fill="#ff3219"/><rect x="362.6" y="1306.0" width="20.8" height="51.2" fill="#ff3219"/><rect x="383.1" y="1306.0" width="20.8" height="51.2" fill="#ff3219"/><rect x="403.6" y="1306.0" width="20.8" height="51.2" fill="#ff3219"/><rect x="424.1" y="1306.0" width="20.8" height="51.2" fill="#ff3219"/><rect x="444.6" y="1306.0" width="20.8" height="51.2" fill="#ff3219"/><rect x="465.1" y="1306.0" width="20.8" height="51.2" fill="#ff3219"/><rect x="485.6" y="1306.0" width="20.8" height="51.2" fill="#ff361c"/><rect x="506.0" y="1306.0" width="20.8" height="51.2" fill="#ff361c"/><rect x="526.5" y="1306.0" width="20.8" height="51.2" fill="#ff3a1f"/><rect x="547.0" y="1306.0" width="20.8" height="51.2" fill="#ff3a1f"/><rect x="116.8" y="1356.9" width="20.8" height="51.2" fill="#ff2913"/><rect x="137.3" y="1356.9" width="20.8" height="51.2" fill="#ff2913"/><rect x="157.8" y="1356.9" width="20.8" height="51.2" fill="#ff2913"/><rect x="178.3" y="1356.9" width="20.8" height="51.2" fill="#ff2913"/><rect x="198.7" y="1356.9" width="20.8" height="51.2" fill="#ff2913"/><rect x="219.2" y="1356.9" width="20.8" height="51.2" fill="#ffd3c4"/><rect x="239.7" y="1356.9" width="20.8" height="51.2" fill="#ffc7b5"/><rect x="260.2" y="1356.9" width="20.8" height="51.2" fill="#ffbca6"/><rect x="280.7" y="1356.9" width="20.8" height="51.2" fill="#ff3a1f"/><rect x="301.2" y="1356.9" width="20.8" height="51.2" fill="#ff3a1f"/><rect x="321.7" y="1356.9" width="20.8" height="51.2" fill="#ff3a1f"/><rect x="342.1" y="1356.9" width="20.8" height="51.2" fill="#ff3a1f"/><rect x="362.6" y="1356.9" width="20.8" height="51.2" fill="#ff3a1f"/><rect x="383.1" y="1356.9" width="20.8" height="51.2" fill="#ff3a1f"/><rect x="403.6" y="1356.9" width="20.8" height="51.2" fill="#ff3a1f"/><rect x="424.1" y="1356.9" width="20.8" height="51.2" fill="#ff3a1f"/><rect x="444.6" y="1356.9" width="20.8" height="51.2" fill="#ff6341"/><rect x="465.1" y="1356.9" width="20.8" height="51.2" fill="#ff5636"/><rect x="485.6" y="1356.9" width="20.8" height="51.2" fill="#ff3a1f"/><rect x="506.0" y="1356.9" width="20.8" height="51.2" fill="#ff3a1f"/><rect x="526.5" y="1356.9" width="20.8" height="51.2" fill="#ff3a1f"/><rect x="547.0" y="1356.9" width="20.8" height="51.2" fill="#ff361c"/><rect x="116.8" y="1407.8" width="20.8" height="51.2" fill="#ff2913"/><rect x="137.3" y="1407.8" width="20.8" height="51.2" fill="#ff2913"/><rect x="157.8" y="1407.8" width="20.8" height="51.2" fill="#ff2913"/><rect x="178.3" y="1407.8" width="20.8" height="51.2" fill="#ff8b6c"/><rect x="198.7" y="1407.8" width="20.8" height="51.2" fill="#ffbca6"/><rect x="219.2" y="1407.8" width="20.8" height="51.2" fill="#ffd3c4"/><rect x="239.7" y="1407.8" width="20.8" height="51.2" fill="#ffc7b5"/><rect x="260.2" y="1407.8" width="20.8" height="51.2" fill="#ffbea8"/><rect x="280.7" y="1407.8" width="20.8" height="51.2" fill="#ffa88d"/><rect x="301.2" y="1407.8" width="20.8" height="51.2" fill="#ff7e5e"/><rect x="321.7" y="1407.8" width="20.8" height="51.2" fill="#ff3e22"/><rect x="342.1" y="1407.8" width="20.8" height="51.2" fill="#ff3e22"/><rect x="362.6" y="1407.8" width="20.8" height="51.2" fill="#ff3e22"/><rect x="383.1" y="1407.8" width="20.8" height="51.2" fill="#ff3e22"/><rect x="403.6" y="1407.8" width="20.8" height="51.2" fill="#ff3e22"/><rect x="424.1" y="1407.8" width="20.8" height="51.2" fill="#ff3e22"/><rect x="444.6" y="1407.8" width="20.8" height="51.2" fill="#ff8362"/><rect x="465.1" y="1407.8" width="20.8" height="51.2" fill="#ff6341"/><rect x="485.6" y="1407.8" width="20.8" height="51.2" fill="#ff3a1f"/><rect x="506.0" y="1407.8" width="20.8" height="51.2" fill="#ff3a1f"/><rect x="526.5" y="1407.8" width="20.8" height="51.2" fill="#ff3a1f"/><rect x="547.0" y="1407.8" width="20.8" height="51.2" fill="#ff361c"/><rect x="116.8" y="1458.7" width="20.8" height="51.2" fill="#ff361c"/><rect x="137.3" y="1458.7" width="20.8" height="51.2" fill="#ff361c"/><rect x="157.8" y="1458.7" width="20.8" height="51.2" fill="#ff361c"/><rect x="178.3" y="1458.7" width="20.8" height="51.2" fill="#ffd3c4"/><rect x="198.7" y="1458.7" width="20.8" height="51.2" fill="#ffd3c4"/><rect x="219.2" y="1458.7" width="20.8" height="51.2" fill="#ffd3c4"/><rect x="239.7" y="1458.7" width="20.8" height="51.2" fill="#ffc7b5"/><rect x="260.2" y="1458.7" width="20.8" height="51.2" fill="#ffbea8"/><rect x="280.7" y="1458.7" width="20.8" height="51.2" fill="#ffbaa3"/><rect x="301.2" y="1458.7" width="20.8" height="51.2" fill="#ffb49c"/><rect x="321.7" y="1458.7" width="20.8" height="51.2" fill="#ff4729"/><rect x="342.1" y="1458.7" width="20.8" height="51.2" fill="#ff4729"/><rect x="362.6" y="1458.7" width="20.8" height="51.2" fill="#ff4729"/><rect x="383.1" y="1458.7" width="20.8" height="51.2" fill="#ff4729"/><rect x="403.6" y="1458.7" width="20.8" height="51.2" fill="#ff7a59"/><rect x="424.1" y="1458.7" width="20.8" height="51.2" fill="#ff8565"/><rect x="444.6" y="1458.7" width="20.8" height="51.2" fill="#ff8362"/><rect x="465.1" y="1458.7" width="20.8" height="51.2" fill="#ff6341"/><rect x="485.6" y="1458.7" width="20.8" height="51.2" fill="#ff3a1f"/><rect x="506.0" y="1458.7" width="20.8" height="51.2" fill="#ff3a1f"/><rect x="526.5" y="1458.7" width="20.8" height="51.2" fill="#ff3a1f"/><rect x="547.0" y="1458.7" width="20.8" height="51.2" fill="#ff361c"/><rect x="116.8" y="1509.6" width="20.8" height="51.2" fill="#ff9475"/><rect x="137.3" y="1509.6" width="20.8" height="51.2" fill="#ff9475"/><rect x="157.8" y="1509.6" width="20.8" height="51.2" fill="#ffbea8"/><rect x="178.3" y="1509.6" width="20.8" height="51.2" fill="#ffd3c4"/><rect x="198.7" y="1509.6" width="20.8" height="51.2" fill="#ffd3c4"/><rect x="219.2" y="1509.6" width="20.8" height="51.2" fill="#ffd3c4"/><rect x="239.7" y="1509.6" width="20.8" height="51.2" fill="#ffc7b5"/><rect x="260.2" y="1509.6" width="20.8" height="51.2" fill="#ffbea8"/><rect x="280.7" y="1509.6" width="20.8" height="51.2" fill="#ffbaa3"/><rect x="301.2" y="1509.6" width="20.8" height="51.2" fill="#ffb49c"/><rect x="321.7" y="1509.6" width="20.8" height="51.2" fill="#ffa68b"/><rect x="342.1" y="1509.6" width="20.8" height="51.2" fill="#ff8d6e"/><rect x="362.6" y="1509.6" width="20.8" height="51.2" fill="#ff7150"/><rect x="383.1" y="1509.6" width="20.8" height="51.2" fill="#ff7150"/><rect x="403.6" y="1509.6" width="20.8" height="51.2" fill="#ffa286"/><rect x="424.1" y="1509.6" width="20.8" height="51.2" fill="#ff9273"/><rect x="444.6" y="1509.6" width="20.8" height="51.2" fill="#ff8362"/><rect x="465.1" y="1509.6" width="20.8" height="51.2" fill="#ff6341"/><rect x="485.6" y="1509.6" width="20.8" height="51.2" fill="#ff3a1f"/><rect x="506.0" y="1509.6" width="20.8" height="51.2" fill="#ff3a1f"/><rect x="526.5" y="1509.6" width="20.8" height="51.2" fill="#ff3a1f"/><rect x="547.0" y="1509.6" width="20.8" height="51.2" fill="#ff361c"/><rect x="116.8" y="1560.5" width="20.8" height="51.2" fill="#ffc4b0"/><rect x="137.3" y="1560.5" width="20.8" height="51.2" fill="#ffc7b5"/><rect x="157.8" y="1560.5" width="20.8" height="51.2" fill="#ffd3c4"/><rect x="178.3" y="1560.5" width="20.8" height="51.2" fill="#ffd3c4"/><rect x="198.7" y="1560.5" width="20.8" height="51.2" fill="#ffd3c4"/><rect x="219.2" y="1560.5" width="20.8" height="51.2" fill="#ffd3c4"/><rect x="239.7" y="1560.5" width="20.8" height="51.2" fill="#ffc7b5"/><rect x="260.2" y="1560.5" width="20.8" height="51.2" fill="#ffbea8"/><rect x="280.7" y="1560.5" width="20.8" height="51.2" fill="#ffbaa3"/><rect x="301.2" y="1560.5" width="20.8" height="51.2" fill="#ffb49c"/><rect x="321.7" y="1560.5" width="20.8" height="51.2" fill="#ffae95"/><rect x="342.1" y="1560.5" width="20.8" height="51.2" fill="#ffaa90"/><rect x="362.6" y="1560.5" width="20.8" height="51.2" fill="#ff9475"/><rect x="383.1" y="1560.5" width="20.8" height="51.2" fill="#ffa286"/><rect x="403.6" y="1560.5" width="20.8" height="51.2" fill="#ffa286"/><rect x="424.1" y="1560.5" width="20.8" height="51.2" fill="#ff9273"/><rect x="444.6" y="1560.5" width="20.8" height="51.2" fill="#ff8362"/><rect x="465.1" y="1560.5" width="20.8" height="51.2" fill="#ff603f"/><rect x="485.6" y="1560.5" width="20.8" height="51.2" fill="#ff361c"/><rect x="506.0" y="1560.5" width="20.8" height="51.2" fill="#ff361c"/><rect x="526.5" y="1560.5" width="20.8" height="51.2" fill="#ff361c"/><rect x="547.0" y="1560.5" width="20.8" height="51.2" fill="#ff361c"/><rect x="116.8" y="1611.4" width="20.8" height="51.2" fill="#fff0ea"/><rect x="137.3" y="1611.4" width="20.8" height="51.2" fill="#fff0ea"/><rect x="157.8" y="1611.4" width="20.8" height="51.2" fill="#ffddd0"/><rect x="178.3" y="1611.4" width="20.8" height="51.2" fill="#ffd3c4"/><rect x="198.7" y="1611.4" width="20.8" height="51.2" fill="#ffd3c4"/><rect x="219.2" y="1611.4" width="20.8" height="51.2" fill="#ffd3c4"/><rect x="239.7" y="1611.4" width="20.8" height="51.2" fill="#ffc7b5"/><rect x="260.2" y="1611.4" width="20.8" height="51.2" fill="#ffbea8"/><rect x="280.7" y="1611.4" width="20.8" height="51.2" fill="#ffbaa3"/><rect x="301.2" y="1611.4" width="20.8" height="51.2" fill="#ffb49c"/><rect x="321.7" y="1611.4" width="20.8" height="51.2" fill="#ffae95"/><rect x="342.1" y="1611.4" width="20.8" height="51.2" fill="#ffa488"/><rect x="362.6" y="1611.4" width="20.8" height="51.2" fill="#ff9e81"/><rect x="383.1" y="1611.4" width="20.8" height="51.2" fill="#ff9e81"/><rect x="403.6" y="1611.4" width="20.8" height="51.2" fill="#ffa286"/><rect x="424.1" y="1611.4" width="20.8" height="51.2" fill="#ff9273"/><rect x="444.6" y="1611.4" width="20.8" height="51.2" fill="#ff8362"/><rect x="465.1" y="1611.4" width="20.8" height="51.2" fill="#ff6341"/><rect x="485.6" y="1611.4" width="20.8" height="51.2" fill="#ff3a1f"/><rect x="506.0" y="1611.4" width="20.8" height="51.2" fill="#ff3a1f"/><rect x="526.5" y="1611.4" width="20.8" height="51.2" fill="#ff2e16"/><rect x="547.0" y="1611.4" width="20.8" height="51.2" fill="#ff2e16"/><rect x="116.8" y="1662.3" width="20.8" height="51.2" fill="#f8fff5"/><rect x="137.3" y="1662.3" width="20.8" height="51.2" fill="#f8fff5"/><rect x="157.8" y="1662.3" width="20.8" height="51.2" fill="#fff9f7"/><rect x="178.3" y="1662.3" width="20.8" height="51.2" fill="#ffd3c4"/><rect x="198.7" y="1662.3" width="20.8" height="51.2" fill="#ffd9cb"/><rect x="219.2" y="1662.3" width="20.8" height="51.2" fill="#ffd3c4"/><rect x="239.7" y="1662.3" width="20.8" height="51.2" fill="#ffc9b7"/><rect x="260.2" y="1662.3" width="20.8" height="51.2" fill="#ffbea8"/><rect x="280.7" y="1662.3" width="20.8" height="51.2" fill="#ffc2ad"/><rect x="301.2" y="1662.3" width="20.8" height="51.2" fill="#ffb49c"/><rect x="321.7" y="1662.3" width="20.8" height="51.2" fill="#ffb299"/><rect x="342.1" y="1662.3" width="20.8" height="51.2" fill="#ffaa90"/><rect x="362.6" y="1662.3" width="20.8" height="51.2" fill="#ffaa90"/><rect x="383.1" y="1662.3" width="20.8" height="51.2" fill="#ffaa90"/><rect x="403.6" y="1662.3" width="20.8" height="51.2" fill="#ffa68b"/><rect x="424.1" y="1662.3" width="20.8" height="51.2" fill="#ffa286"/><rect x="444.6" y="1662.3" width="20.8" height="51.2" fill="#ff8362"/><rect x="465.1" y="1662.3" width="20.8" height="51.2" fill="#ff6a49"/><rect x="485.6" y="1662.3" width="20.8" height="51.2" fill="#ff361c"/><rect x="506.0" y="1662.3" width="20.8" height="51.2" fill="#ff1e0c"/><rect x="526.5" y="1662.3" width="20.8" height="51.2" fill="#ff0e04"/><rect x="547.0" y="1662.3" width="20.8" height="51.2" fill="#ff0e04"/><rect x="116.8" y="1713.2" width="20.8" height="51.2" fill="#f1ffeb"/><rect x="137.3" y="1713.2" width="20.8" height="51.2" fill="#fffbfa"/><rect x="157.8" y="1713.2" width="20.8" height="51.2" fill="#ffece5"/><rect x="178.3" y="1713.2" width="20.8" height="51.2" fill="#ffe2d8"/><rect x="198.7" y="1713.2" width="20.8" height="51.2" fill="#ffd9cb"/><rect x="219.2" y="1713.2" width="20.8" height="51.2" fill="#ffd1c1"/><rect x="239.7" y="1713.2" width="20.8" height="51.2" fill="#ffc9b7"/><rect x="260.2" y="1713.2" width="20.8" height="51.2" fill="#ffc6b2"/><rect x="280.7" y="1713.2" width="20.8" height="51.2" fill="#ffc2ad"/><rect x="301.2" y="1713.2" width="20.8" height="51.2" fill="#ffbea8"/><rect x="321.7" y="1713.2" width="20.8" height="51.2" fill="#ffbaa3"/><rect x="342.1" y="1713.2" width="20.8" height="51.2" fill="#ffac92"/><rect x="362.6" y="1713.2" width="20.8" height="51.2" fill="#ffac92"/><rect x="383.1" y="1713.2" width="20.8" height="51.2" fill="#ffaa90"/><rect x="403.6" y="1713.2" width="20.8" height="51.2" fill="#ffa68b"/><rect x="424.1" y="1713.2" width="20.8" height="51.2" fill="#ffa286"/><rect x="444.6" y="1713.2" width="20.8" height="51.2" fill="#ff8767"/><rect x="465.1" y="1713.2" width="20.8" height="51.2" fill="#ff6a49"/><rect x="485.6" y="1713.2" width="20.8" height="51.2" fill="#ff4a2c"/><rect x="506.0" y="1713.2" width="20.8" height="51.2" fill="#ff1e0c"/><rect x="526.5" y="1713.2" width="20.8" height="51.2" fill="#ff0e04"/><rect x="547.0" y="1713.2" width="20.8" height="51.2" fill="#ff0e04"/><rect x="116.8" y="1764.1" width="20.8" height="51.2" fill="#ffffff"/><rect x="137.3" y="1764.1" width="20.8" height="51.2" fill="#ffe8e0"/><rect x="157.8" y="1764.1" width="20.8" height="51.2" fill="#ffece5"/><rect x="178.3" y="1764.1" width="20.8" height="51.2" fill="#ffe2d8"/><rect x="198.7" y="1764.1" width="20.8" height="51.2" fill="#ffd9cb"/><rect x="219.2" y="1764.1" width="20.8" height="51.2" fill="#ffd1c1"/><rect x="239.7" y="1764.1" width="20.8" height="51.2" fill="#ffc9b7"/><rect x="260.2" y="1764.1" width="20.8" height="51.2" fill="#ffc6b2"/><rect x="280.7" y="1764.1" width="20.8" height="51.2" fill="#ffc2ad"/><rect x="301.2" y="1764.1" width="20.8" height="51.2" fill="#ffbea8"/><rect x="321.7" y="1764.1" width="20.8" height="51.2" fill="#ffbaa3"/><rect x="342.1" y="1764.1" width="20.8" height="51.2" fill="#ffbaa3"/><rect x="362.6" y="1764.1" width="20.8" height="51.2" fill="#ffaa90"/><rect x="383.1" y="1764.1" width="20.8" height="51.2" fill="#ffaa90"/><rect x="403.6" y="1764.1" width="20.8" height="51.2" fill="#ffa68b"/><rect x="424.1" y="1764.1" width="20.8" height="51.2" fill="#ffa286"/><rect x="444.6" y="1764.1" width="20.8" height="51.2" fill="#ff8767"/><rect x="465.1" y="1764.1" width="20.8" height="51.2" fill="#ff6a49"/><rect x="485.6" y="1764.1" width="20.8" height="51.2" fill="#ff4a2c"/><rect x="506.0" y="1764.1" width="20.8" height="51.2" fill="#ff1e0c"/><rect x="526.5" y="1764.1" width="20.8" height="51.2" fill="#ff0e04"/><rect x="547.0" y="1764.1" width="20.8" height="51.2" fill="#ff0e04"/><path d="M137.3 1306.0L137.3 1815.0" stroke="#fff" stroke-width="0.7" stroke-opacity="0.22"/><path d="M157.8 1306.0L157.8 1815.0" stroke="#fff" stroke-width="0.7" stroke-opacity="0.22"/><path d="M178.3 1306.0L178.3 1815.0" stroke="#fff" stroke-width="0.7" stroke-opacity="0.22"/><path d="M198.7 1306.0L198.7 1815.0" stroke="#fff" stroke-width="0.7" stroke-opacity="0.22"/><path d="M219.2 1306.0L219.2 1815.0" stroke="#fff" stroke-width="0.7" stroke-opacity="0.22"/><path d="M239.7 1306.0L239.7 1815.0" stroke="#fff" stroke-width="0.7" stroke-opacity="0.22"/><path d="M260.2 1306.0L260.2 1815.0" stroke="#fff" stroke-width="0.7" stroke-opacity="0.22"/><path d="M280.7 1306.0L280.7 1815.0" stroke="#fff" stroke-width="0.7" stroke-opacity="0.22"/><path d="M301.2 1306.0L301.2 1815.0" stroke="#fff" stroke-width="0.7" stroke-opacity="0.22"/><path d="M321.7 1306.0L321.7 1815.0" stroke="#fff" stroke-width="0.7" stroke-opacity="0.22"/><path d="M342.1 1306.0L342.1 1815.0" stroke="#fff" stroke-width="0.7" stroke-opacity="0.22"/><path d="M362.6 1306.0L362.6 1815.0" stroke="#fff" stroke-width="0.7" stroke-opacity="0.22"/><path d="M383.1 1306.0L383.1 1815.0" stroke="#fff" stroke-width="0.7" stroke-opacity="0.22"/><path d="M403.6 1306.0L403.6 1815.0" stroke="#fff" stroke-width="0.7" stroke-opacity="0.22"/><path d="M424.1 1306.0L424.1 1815.0" stroke="#fff" stroke-width="0.7" stroke-opacity="0.22"/><path d="M444.6 1306.0L444.6 1815.0" stroke="#fff" stroke-width="0.7" stroke-opacity="0.22"/><path d="M465.1 1306.0L465.1 1815.0" stroke="#fff" stroke-width="0.7" stroke-opacity="0.22"/><path d="M485.6 1306.0L485.6 1815.0" stroke="#fff" stroke-width="0.7" stroke-opacity="0.22"/><path d="M506.0 1306.0L506.0 1815.0" stroke="#fff" stroke-width="0.7" stroke-opacity="0.22"/><path d="M526.5 1306.0L526.5 1815.0" stroke="#fff" stroke-width="0.7" stroke-opacity="0.22"/><path d="M547.0 1306.0L547.0 1815.0" stroke="#fff" stroke-width="0.7" stroke-opacity="0.22"/><path d="M116.8 1356.9L567.5 1356.9" stroke="#fff" stroke-width="0.7" stroke-opacity="0.22"/><path d="M116.8 1407.8L567.5 1407.8" stroke="#fff" stroke-width="0.7" stroke-opacity="0.22"/><path d="M116.8 1458.7L567.5 1458.7" stroke="#fff" stroke-width="0.7" stroke-opacity="0.22"/><path d="M116.8 1509.6L567.5 1509.6" stroke="#fff" stroke-width="0.7" stroke-opacity="0.22"/><path d="M116.8 1560.5L567.5 1560.5" stroke="#fff" stroke-width="0.7" stroke-opacity="0.22"/><path d="M116.8 1611.4L567.5 1611.4" stroke="#fff" stroke-width="0.7" stroke-opacity="0.22"/><path d="M116.8 1662.3L567.5 1662.3" stroke="#fff" stroke-width="0.7" stroke-opacity="0.22"/><path d="M116.8 1713.2L567.5 1713.2" stroke="#fff" stroke-width="0.7" stroke-opacity="0.22"/><path d="M116.8 1764.1L567.5 1764.1" stroke="#fff" stroke-width="0.7" stroke-opacity="0.22"/><g class="s m" font-size="14.7" fill="#111" transform="scale(1.1,1)"><text x="115.5" y="1337.9">96</text><text x="134.1" y="1337.9">96</text><text x="152.7" y="1337.9">96</text><text x="171.4" y="1337.9">96</text><text x="190.0" y="1337.9">95</text><text x="208.6" y="1337.9">60</text><text x="227.2" y="1337.9">51</text><text x="245.9" y="1337.9">63</text><text x="264.5" y="1337.9">93</text><text x="283.1" y="1337.9">93</text><text x="301.7" y="1337.9">93</text><text x="320.4" y="1337.9">93</text><text x="339.0" y="1337.9">93</text><text x="357.6" y="1337.9">93</text><text x="376.2" y="1337.9">93</text><text x="394.9" y="1337.9">93</text><text x="413.5" y="1337.9">93</text><text x="432.1" y="1337.9">93</text><text x="450.7" y="1337.9">92</text><text x="469.3" y="1337.9">92</text><text x="488.0" y="1337.9">91</text><text x="506.6" y="1337.9">91</text><text x="115.5" y="1388.8">95</text><text x="134.1" y="1388.8">95</text><text x="152.7" y="1388.8">95</text><text x="171.4" y="1388.8">95</text><text x="190.0" y="1388.8">95</text><text x="208.6" y="1388.8">23</text><text x="227.2" y="1388.8">29</text><text x="245.9" y="1388.8">35</text><text x="264.5" y="1388.8">91</text><text x="283.1" y="1388.8">91</text><text x="301.7" y="1388.8">91</text><text x="320.4" y="1388.8">91</text><text x="339.0" y="1388.8">91</text><text x="357.6" y="1388.8">91</text><text x="376.2" y="1388.8">91</text><text x="394.9" y="1388.8">91</text><text x="413.5" y="1388.8">77</text><text x="432.1" y="1388.8">82</text><text x="450.7" y="1388.8">91</text><text x="469.3" y="1388.8">91</text><text x="488.0" y="1388.8">91</text><text x="506.6" y="1388.8">92</text><text x="115.5" y="1439.7">95</text><text x="134.1" y="1439.7">95</text><text x="152.7" y="1439.7">95</text><text x="171.4" y="1439.7">59</text><text x="190.0" y="1439.7">35</text><text x="208.6" y="1439.7">23</text><text x="227.2" y="1439.7">29</text><text x="245.9" y="1439.7">34</text><text x="264.5" y="1439.7">45</text><text x="283.1" y="1439.7">65</text><text x="301.7" y="1439.7">90</text><text x="320.4" y="1439.7">90</text><text x="339.0" y="1439.7">90</text><text x="357.6" y="1439.7">90</text><text x="376.2" y="1439.7">90</text><text x="394.9" y="1439.7">90</text><text x="413.5" y="1439.7">63</text><text x="432.1" y="1439.7">77</text><text x="450.7" y="1439.7">91</text><text x="469.3" y="1439.7">91</text><text x="488.0" y="1439.7">91</text><text x="506.6" y="1439.7">92</text><text x="115.5" y="1490.6">92</text><text x="134.1" y="1490.6">92</text><text x="152.7" y="1490.6">92</text><text x="171.4" y="1490.6">23</text><text x="190.0" y="1490.6">23</text><text x="208.6" y="1490.6">23</text><text x="227.2" y="1490.6">29</text><text x="245.9" y="1490.6">34</text><text x="264.5" y="1490.6">36</text><text x="283.1" y="1490.6">39</text><text x="301.7" y="1490.6">87</text><text x="320.4" y="1490.6">87</text><text x="339.0" y="1490.6">87</text><text x="357.6" y="1490.6">87</text><text x="376.2" y="1490.6">67</text><text x="394.9" y="1490.6">62</text><text x="413.5" y="1490.6">63</text><text x="432.1" y="1490.6">77</text><text x="450.7" y="1490.6">91</text><text x="469.3" y="1490.6">91</text><text x="488.0" y="1490.6">91</text><text x="506.6" y="1490.6">92</text><text x="115.5" y="1541.5">55</text><text x="134.1" y="1541.5">55</text><text x="152.7" y="1541.5">34</text><text x="171.4" y="1541.5">23</text><text x="190.0" y="1541.5">23</text><text x="208.6" y="1541.5">23</text><text x="227.2" y="1541.5">29</text><text x="245.9" y="1541.5">34</text><text x="264.5" y="1541.5">36</text><text x="283.1" y="1541.5">39</text><text x="301.7" y="1541.5">46</text><text x="320.4" y="1541.5">58</text><text x="339.0" y="1541.5">71</text><text x="357.6" y="1541.5">71</text><text x="376.2" y="1541.5">48</text><text x="394.9" y="1541.5">56</text><text x="413.5" y="1541.5">63</text><text x="432.1" y="1541.5">77</text><text x="450.7" y="1541.5">91</text><text x="469.3" y="1541.5">91</text><text x="488.0" y="1541.5">91</text><text x="506.6" y="1541.5">92</text><text x="115.5" y="1592.4">31</text><text x="134.1" y="1592.4">29</text><text x="152.7" y="1592.4">23</text><text x="171.4" y="1592.4">23</text><text x="190.0" y="1592.4">23</text><text x="208.6" y="1592.4">23</text><text x="227.2" y="1592.4">29</text><text x="245.9" y="1592.4">34</text><text x="264.5" y="1592.4">36</text><text x="283.1" y="1592.4">39</text><text x="301.7" y="1592.4">42</text><text x="320.4" y="1592.4">44</text><text x="339.0" y="1592.4">55</text><text x="357.6" y="1592.4">48</text><text x="376.2" y="1592.4">48</text><text x="394.9" y="1592.4">56</text><text x="413.5" y="1592.4">63</text><text x="432.1" y="1592.4">78</text><text x="450.7" y="1592.4">92</text><text x="469.3" y="1592.4">92</text><text x="488.0" y="1592.4">92</text><text x="506.6" y="1592.4">92</text><text x="115.5" y="1643.3">8</text><text x="134.1" y="1643.3">8</text><text x="152.7" y="1643.3">18</text><text x="171.4" y="1643.3">23</text><text x="190.0" y="1643.3">23</text><text x="208.6" y="1643.3">23</text><text x="227.2" y="1643.3">29</text><text x="245.9" y="1643.3">34</text><text x="264.5" y="1643.3">36</text><text x="283.1" y="1643.3">39</text><text x="301.7" y="1643.3">42</text><text x="320.4" y="1643.3">47</text><text x="339.0" y="1643.3">50</text><text x="357.6" y="1643.3">50</text><text x="376.2" y="1643.3">48</text><text x="394.9" y="1643.3">56</text><text x="413.5" y="1643.3">63</text><text x="432.1" y="1643.3">77</text><text x="450.7" y="1643.3">91</text><text x="469.3" y="1643.3">91</text><text x="488.0" y="1643.3">94</text><text x="506.6" y="1643.3">94</text><text x="115.5" y="1694.2">-5</text><text x="134.1" y="1694.2">-5</text><text x="152.7" y="1694.2">3</text><text x="171.4" y="1694.2">23</text><text x="190.0" y="1694.2">20</text><text x="208.6" y="1694.2">23</text><text x="227.2" y="1694.2">28</text><text x="245.9" y="1694.2">34</text><text x="264.5" y="1694.2">32</text><text x="283.1" y="1694.2">39</text><text x="301.7" y="1694.2">40</text><text x="320.4" y="1694.2">44</text><text x="339.0" y="1694.2">44</text><text x="357.6" y="1694.2">44</text><text x="376.2" y="1694.2">46</text><text x="394.9" y="1694.2">48</text><text x="413.5" y="1694.2">63</text><text x="432.1" y="1694.2">74</text><text x="450.7" y="1694.2">92</text><text x="469.3" y="1694.2">97</text><text x="488.0" y="1694.2">99</text><text x="506.6" y="1694.2">99</text><text x="115.5" y="1745.1">-10</text><text x="134.1" y="1745.1">2</text><text x="152.7" y="1745.1">10</text><text x="171.4" y="1745.1">15</text><text x="190.0" y="1745.1">20</text><text x="208.6" y="1745.1">24</text><text x="227.2" y="1745.1">28</text><text x="245.9" y="1745.1">30</text><text x="264.5" y="1745.1">32</text><text x="283.1" y="1745.1">34</text><text x="301.7" y="1745.1">36</text><text x="320.4" y="1745.1">43</text><text x="339.0" y="1745.1">43</text><text x="357.6" y="1745.1">44</text><text x="376.2" y="1745.1">46</text><text x="394.9" y="1745.1">48</text><text x="413.5" y="1745.1">61</text><text x="432.1" y="1745.1">74</text><text x="450.7" y="1745.1">86</text><text x="469.3" y="1745.1">97</text><text x="488.0" y="1745.1">99</text><text x="506.6" y="1745.1">99</text><text x="115.5" y="1796.0">-0</text><text x="134.1" y="1796.0">12</text><text x="152.7" y="1796.0">10</text><text x="171.4" y="1796.0">15</text><text x="190.0" y="1796.0">20</text><text x="208.6" y="1796.0">24</text><text x="227.2" y="1796.0">28</text><text x="245.9" y="1796.0">30</text><text x="264.5" y="1796.0">32</text><text x="283.1" y="1796.0">34</text><text x="301.7" y="1796.0">36</text><text x="320.4" y="1796.0">36</text><text x="339.0" y="1796.0">44</text><text x="357.6" y="1796.0">44</text><text x="376.2" y="1796.0">46</text><text x="394.9" y="1796.0">48</text><text x="413.5" y="1796.0">61</text><text x="432.1" y="1796.0">74</text><text x="450.7" y="1796.0">86</text><text x="469.3" y="1796.0">97</text><text x="488.0" y="1796.0">99</text><text x="506.6" y="1796.0">99</text></g><text transform="translate(96.0,1334.5) rotate(-90)" y="5.9" class="r m" font-size="18" fill="#ff0000">111</text><path d="M108.0 1331.5L115.6 1331.5" stroke="#333" stroke-width="1.6"/><text transform="translate(96.0,1385.3) rotate(-90)" y="5.9" class="r m" font-size="18" fill="#ff0000">37.0</text><path d="M108.0 1382.3L115.6 1382.3" stroke="#333" stroke-width="1.6"/><text transform="translate(96.0,1436.2) rotate(-90)" y="5.9" class="r m" font-size="18" fill="#ff0000">12.4</text><path d="M108.0 1433.2L115.6 1433.2" stroke="#333" stroke-width="1.6"/><text transform="translate(96.0,1487.2) rotate(-90)" y="5.9" class="r m" font-size="18" fill="#ff0000">4.12</text><path d="M108.0 1484.2L115.6 1484.2" stroke="#333" stroke-width="1.6"/><text transform="translate(96.0,1538.0) rotate(-90)" y="5.9" class="r m" font-size="18" fill="#ff0000">1.37</text><path d="M108.0 1535.0L115.6 1535.0" stroke="#333" stroke-width="1.6"/><text transform="translate(96.0,1589.0) rotate(-90)" y="5.9" class="r m" font-size="18" fill="#ff0000">1.20</text><path d="M108.0 1586.0L115.6 1586.0" stroke="#333" stroke-width="1.6"/><text transform="translate(96.0,1639.8) rotate(-90)" y="5.9" class="r m" font-size="18" fill="#ff0000">0.46</text><path d="M108.0 1636.8L115.6 1636.8" stroke="#333" stroke-width="1.6"/><text transform="translate(96.0,1690.8) rotate(-90)" y="5.9" class="r m" font-size="18" fill="#ff0000">0.15</text><path d="M108.0 1687.8L115.6 1687.8" stroke="#333" stroke-width="1.6"/><text transform="translate(96.0,1741.7) rotate(-90)" y="5.9" class="r m" font-size="18" fill="#ff0000">0.10</text><path d="M108.0 1738.7L115.6 1738.7" stroke="#333" stroke-width="1.6"/><text transform="translate(96.0,1792.5) rotate(-90)" y="5.9" class="r m" font-size="18" fill="#ff0000">0</text><path d="M108.0 1789.5L115.6 1789.5" stroke="#333" stroke-width="1.6"/><path d="M127.0 1816.0L127.0 1822.7" stroke="#333" stroke-width="1.6"/><text transform="translate(127.0,1826.5) rotate(-90)" y="6.0" class="r e" font-size="18.3" fill="#ff0000">0</text><path d="M147.5 1816.0L147.5 1822.7" stroke="#333" stroke-width="1.6"/><text transform="translate(147.5,1826.5) rotate(-90)" y="6.0" class="r e" font-size="18.3" fill="#ff0000">0.28</text><path d="M168.0 1816.0L168.0 1822.7" stroke="#333" stroke-width="1.6"/><text transform="translate(168.0,1826.5) rotate(-90)" y="6.0" class="r e" font-size="18.3" fill="#ff0000">0.85</text><path d="M188.5 1816.0L188.5 1822.7" stroke="#333" stroke-width="1.6"/><text transform="translate(188.5,1826.5) rotate(-90)" y="6.0" class="r e" font-size="18.3" fill="#ff0000">2.54</text><path d="M209.0 1816.0L209.0 1822.7" stroke="#333" stroke-width="1.6"/><text transform="translate(209.0,1826.5) rotate(-90)" y="6.0" class="r e" font-size="18.3" fill="#ff0000">4.12</text><path d="M229.5 1816.0L229.5 1822.7" stroke="#333" stroke-width="1.6"/><text transform="translate(229.5,1826.5) rotate(-90)" y="6.0" class="r e" font-size="18.3" fill="#ff0000">7.62</text><path d="M250.0 1816.0L250.0 1822.7" stroke="#333" stroke-width="1.6"/><text transform="translate(250.0,1826.5) rotate(-90)" y="6.0" class="r e" font-size="18.3" fill="#ff0000">12</text><path d="M270.4 1816.0L270.4 1822.7" stroke="#333" stroke-width="1.6"/><text transform="translate(270.4,1826.5) rotate(-90)" y="6.0" class="r e" font-size="18.3" fill="#ff0000">23</text><path d="M290.9 1816.0L290.9 1822.7" stroke="#333" stroke-width="1.6"/><text transform="translate(290.9,1826.5) rotate(-90)" y="6.0" class="r e" font-size="18.3" fill="#ff0000">37</text><path d="M311.4 1816.0L311.4 1822.7" stroke="#333" stroke-width="1.6"/><text transform="translate(311.4,1826.5) rotate(-90)" y="6.0" class="r e" font-size="18.3" fill="#ff0000">69</text><path d="M331.9 1816.0L331.9 1822.7" stroke="#333" stroke-width="1.6"/><text transform="translate(331.9,1826.5) rotate(-90)" y="6.0" class="r e" font-size="18.3" fill="#ff0000">111</text><path d="M352.4 1816.0L352.4 1822.7" stroke="#333" stroke-width="1.6"/><text transform="translate(352.4,1826.5) rotate(-90)" y="6.0" class="r e" font-size="18.3" fill="#ff0000">206</text><path d="M372.9 1816.0L372.9 1822.7" stroke="#333" stroke-width="1.6"/><text transform="translate(372.9,1826.5) rotate(-90)" y="6.0" class="r e" font-size="18.3" fill="#ff0000">333</text><path d="M393.4 1816.0L393.4 1822.7" stroke="#333" stroke-width="1.6"/><text transform="translate(393.4,1826.5) rotate(-90)" y="6.0" class="r e" font-size="18.3" fill="#ff0000">492</text><path d="M413.9 1816.0L413.9 1822.7" stroke="#333" stroke-width="1.6"/><text transform="translate(413.9,1826.5) rotate(-90)" y="6.0" class="r e" font-size="18.3" fill="#ff0000">617</text><path d="M434.3 1816.0L434.3 1822.7" stroke="#333" stroke-width="1.6"/><text transform="translate(434.3,1826.5) rotate(-90)" y="6.0" class="r e" font-size="18.3" fill="#ff0000">1000</text><path d="M454.8 1816.0L454.8 1822.7" stroke="#333" stroke-width="1.6"/><text transform="translate(454.8,1826.5) rotate(-90)" y="6.0" class="r e" font-size="18.3" fill="#ff0000">1852</text><path d="M475.3 1816.0L475.3 1822.7" stroke="#333" stroke-width="1.6"/><text transform="translate(475.3,1826.5) rotate(-90)" y="6.0" class="r e" font-size="18.3" fill="#ff0000">3000</text><path d="M495.8 1816.0L495.8 1822.7" stroke="#333" stroke-width="1.6"/><text transform="translate(495.8,1826.5) rotate(-90)" y="6.0" class="r e" font-size="18.3" fill="#ff0000">5560</text><path d="M516.3 1816.0L516.3 1822.7" stroke="#333" stroke-width="1.6"/><text transform="translate(516.3,1826.5) rotate(-90)" y="6.0" class="r e" font-size="18.3" fill="#ff0000">9000</text><path d="M536.8 1816.0L536.8 1822.7" stroke="#333" stroke-width="1.6"/><text transform="translate(536.8,1826.5) rotate(-90)" y="6.0" class="r e" font-size="18.3" fill="#ff0000">16000</text><path d="M557.3 1816.0L557.3 1822.7" stroke="#333" stroke-width="1.6"/><text transform="translate(557.3,1826.5) rotate(-90)" y="6.0" class="r e" font-size="18.3" fill="#ff0000">50000</text><defs><linearGradient id="g571_1514" x1="0" y1="0" x2="0" y2="1"><stop offset="0.0000" stop-color="#ff0000"/><stop offset="0.0455" stop-color="#ff2611"/><stop offset="0.0909" stop-color="#ff3c20"/><stop offset="0.1364" stop-color="#ff4c2d"/><stop offset="0.1818" stop-color="#ff5a3a"/><stop offset="0.2273" stop-color="#ff6746"/><stop offset="0.2727" stop-color="#ff7352"/><stop offset="0.3182" stop-color="#ff7f5e"/><stop offset="0.3636" stop-color="#ff8a6a"/><stop offset="0.4091" stop-color="#ff9576"/><stop offset="0.4545" stop-color="#ff9f83"/><stop offset="0.5000" stop-color="#ffa98f"/><stop offset="0.5455" stop-color="#ffb49c"/><stop offset="0.5909" stop-color="#ffbea8"/><stop offset="0.6364" stop-color="#ffc8b5"/><stop offset="0.6818" stop-color="#ffd2c2"/><stop offset="0.7273" stop-color="#ffdbcf"/><stop offset="0.7727" stop-color="#ffe5dc"/><stop offset="0.8182" stop-color="#ffefe9"/><stop offset="0.8636" stop-color="#fff9f7"/><stop offset="0.9091" stop-color="#fcfffb"/><stop offset="0.9545" stop-color="#f5fff1"/><stop offset="1.0000" stop-color="#eeffe7"/></linearGradient></defs><rect x="571.2" y="1514.2" width="26.6" height="107.6" fill="url(#g571_1514)"/><text transform="translate(608.0,1538.8) scale(1.12,1)" y="4.6" class="s" font-size="12.8" fill="#1a1a1a">75</text><text transform="translate(608.0,1562.6) scale(1.12,1)" y="4.6" class="s" font-size="12.8" fill="#1a1a1a">50</text><text transform="translate(608.0,1586.4) scale(1.12,1)" y="4.6" class="s" font-size="12.8" fill="#1a1a1a">25</text><text transform="translate(608.0,1610.2) scale(1.12,1)" y="4.6" class="s" font-size="12.8" fill="#1a1a1a">0</text><text x="571.8" y="1503.2" class="s" font-size="15" fill="#1a1a1a" textLength="118.6" lengthAdjust="spacingAndGlyphs">Cytotoxicity (%)</text><rect x="892.7" y="1311.9" width="455.2" height="4.6" fill="#e8e8e8"/><rect x="892.7" y="1820.4" width="455.2" height="5.4" fill="#e8e8e8"/><rect x="892.7" y="1316.5" width="1.2" height="503.9" fill="#e8e8e8"/><path d="M904.2 1311.9V1316.5M904.2 1820.4V1825.8M924.8 1311.9V1316.5M924.8 1820.4V1825.8M945.4 1311.9V1316.5M945.4 1820.4V1825.8M965.9 1311.9V1316.5M965.9 1820.4V1825.8M986.5 1311.9V1316.5M986.5 1820.4V1825.8M1007.1 1311.9V1316.5M1007.1 1820.4V1825.8M1027.7 1311.9V1316.5M1027.7 1820.4V1825.8M1048.3 1311.9V1316.5M1048.3 1820.4V1825.8M1068.8 1311.9V1316.5M1068.8 1820.4V1825.8M1089.4 1311.9V1316.5M1089.4 1820.4V1825.8M1110.0 1311.9V1316.5M1110.0 1820.4V1825.8M1130.6 1311.9V1316.5M1130.6 1820.4V1825.8M1151.2 1311.9V1316.5M1151.2 1820.4V1825.8M1171.8 1311.9V1316.5M1171.8 1820.4V1825.8M1192.3 1311.9V1316.5M1192.3 1820.4V1825.8M1212.9 1311.9V1316.5M1212.9 1820.4V1825.8M1233.5 1311.9V1316.5M1233.5 1820.4V1825.8M1254.1 1311.9V1316.5M1254.1 1820.4V1825.8M1274.7 1311.9V1316.5M1274.7 1820.4V1825.8M1295.2 1311.9V1316.5M1295.2 1820.4V1825.8M1315.8 1311.9V1316.5M1315.8 1820.4V1825.8M1336.4 1311.9V1316.5M1336.4 1820.4V1825.8" stroke="#fff" stroke-width="1.6"/><rect x="893.9" y="1316.5" width="20.9" height="50.7" fill="#ff1e0c"/><rect x="914.5" y="1316.5" width="20.9" height="50.7" fill="#ff1e0c"/><rect x="935.1" y="1316.5" width="20.9" height="50.7" fill="#ff1e0c"/><rect x="955.6" y="1316.5" width="20.9" height="50.7" fill="#ff1e0c"/><rect x="976.2" y="1316.5" width="20.9" height="50.7" fill="#ff1e0c"/><rect x="996.8" y="1316.5" width="20.9" height="50.7" fill="#ff1e0c"/><rect x="1017.4" y="1316.5" width="20.9" height="50.7" fill="#fff0ea"/><rect x="1038.0" y="1316.5" width="20.9" height="50.7" fill="#ffd3c4"/><rect x="1058.6" y="1316.5" width="20.9" height="50.7" fill="#ff987a"/><rect x="1079.1" y="1316.5" width="20.9" height="50.7" fill="#ff1e0c"/><rect x="1099.7" y="1316.5" width="20.9" height="50.7" fill="#ff1e0c"/><rect x="1120.3" y="1316.5" width="20.9" height="50.7" fill="#ff1e0c"/><rect x="1140.9" y="1316.5" width="20.9" height="50.7" fill="#ff1e0c"/><rect x="1161.5" y="1316.5" width="20.9" height="50.7" fill="#ff1e0c"/><rect x="1182.0" y="1316.5" width="20.9" height="50.7" fill="#ff1e0c"/><rect x="1202.6" y="1316.5" width="20.9" height="50.7" fill="#ff1e0c"/><rect x="1223.2" y="1316.5" width="20.9" height="50.7" fill="#ff1e0c"/><rect x="1243.8" y="1316.5" width="20.9" height="50.7" fill="#ff1e0c"/><rect x="1264.4" y="1316.5" width="20.9" height="50.7" fill="#ff1e0c"/><rect x="1285.0" y="1316.5" width="20.9" height="50.7" fill="#ff2913"/><rect x="1305.5" y="1316.5" width="20.9" height="50.7" fill="#ff2913"/><rect x="1326.1" y="1316.5" width="20.9" height="50.7" fill="#ff2913"/><rect x="893.9" y="1366.9" width="20.9" height="50.7" fill="#ff2410"/><rect x="914.5" y="1366.9" width="20.9" height="50.7" fill="#ff1e0c"/><rect x="935.1" y="1366.9" width="20.9" height="50.7" fill="#ff1e0c"/><rect x="955.6" y="1366.9" width="20.9" height="50.7" fill="#ff2410"/><rect x="976.2" y="1366.9" width="20.9" height="50.7" fill="#ffa488"/><rect x="996.8" y="1366.9" width="20.9" height="50.7" fill="#ffdbce"/><rect x="1017.4" y="1366.9" width="20.9" height="50.7" fill="#fff0ea"/><rect x="1038.0" y="1366.9" width="20.9" height="50.7" fill="#ffeee8"/><rect x="1058.6" y="1366.9" width="20.9" height="50.7" fill="#ffeee8"/><rect x="1079.1" y="1366.9" width="20.9" height="50.7" fill="#ff1e0c"/><rect x="1099.7" y="1366.9" width="20.9" height="50.7" fill="#ff1e0c"/><rect x="1120.3" y="1366.9" width="20.9" height="50.7" fill="#ff1e0c"/><rect x="1140.9" y="1366.9" width="20.9" height="50.7" fill="#ff1e0c"/><rect x="1161.5" y="1366.9" width="20.9" height="50.7" fill="#ff1e0c"/><rect x="1182.0" y="1366.9" width="20.9" height="50.7" fill="#ff1e0c"/><rect x="1202.6" y="1366.9" width="20.9" height="50.7" fill="#ff1e0c"/><rect x="1223.2" y="1366.9" width="20.9" height="50.7" fill="#ff1e0c"/><rect x="1243.8" y="1366.9" width="20.9" height="50.7" fill="#ff5838"/><rect x="1264.4" y="1366.9" width="20.9" height="50.7" fill="#ff4d2e"/><rect x="1285.0" y="1366.9" width="20.9" height="50.7" fill="#ff2913"/><rect x="1305.5" y="1366.9" width="20.9" height="50.7" fill="#ff2913"/><rect x="1326.1" y="1366.9" width="20.9" height="50.7" fill="#ff2913"/><rect x="893.9" y="1417.3" width="20.9" height="50.7" fill="#ff2410"/><rect x="914.5" y="1417.3" width="20.9" height="50.7" fill="#ff2410"/><rect x="935.1" y="1417.3" width="20.9" height="50.7" fill="#ff2410"/><rect x="955.6" y="1417.3" width="20.9" height="50.7" fill="#ff2410"/><rect x="976.2" y="1417.3" width="20.9" height="50.7" fill="#fbfff9"/><rect x="996.8" y="1417.3" width="20.9" height="50.7" fill="#fff9f7"/><rect x="1017.4" y="1417.3" width="20.9" height="50.7" fill="#fff0ea"/><rect x="1038.0" y="1417.3" width="20.9" height="50.7" fill="#ffeee8"/><rect x="1058.6" y="1417.3" width="20.9" height="50.7" fill="#ffeee8"/><rect x="1079.1" y="1417.3" width="20.9" height="50.7" fill="#ffcbba"/><rect x="1099.7" y="1417.3" width="20.9" height="50.7" fill="#ff8d6e"/><rect x="1120.3" y="1417.3" width="20.9" height="50.7" fill="#ff1e0c"/><rect x="1140.9" y="1417.3" width="20.9" height="50.7" fill="#ff1e0c"/><rect x="1161.5" y="1417.3" width="20.9" height="50.7" fill="#ff1e0c"/><rect x="1182.0" y="1417.3" width="20.9" height="50.7" fill="#ff1e0c"/><rect x="1202.6" y="1417.3" width="20.9" height="50.7" fill="#ff1e0c"/><rect x="1223.2" y="1417.3" width="20.9" height="50.7" fill="#ff1e0c"/><rect x="1243.8" y="1417.3" width="20.9" height="50.7" fill="#ff7e5e"/><rect x="1264.4" y="1417.3" width="20.9" height="50.7" fill="#ff5b3a"/><rect x="1285.0" y="1417.3" width="20.9" height="50.7" fill="#ff2913"/><rect x="1305.5" y="1417.3" width="20.9" height="50.7" fill="#ff2913"/><rect x="1326.1" y="1417.3" width="20.9" height="50.7" fill="#ff2913"/><rect x="893.9" y="1467.7" width="20.9" height="50.7" fill="#ff2913"/><rect x="914.5" y="1467.7" width="20.9" height="50.7" fill="#ff2913"/><rect x="935.1" y="1467.7" width="20.9" height="50.7" fill="#ff2913"/><rect x="955.6" y="1467.7" width="20.9" height="50.7" fill="#ffc6b2"/><rect x="976.2" y="1467.7" width="20.9" height="50.7" fill="#fbfff9"/><rect x="996.8" y="1467.7" width="20.9" height="50.7" fill="#fff9f7"/><rect x="1017.4" y="1467.7" width="20.9" height="50.7" fill="#fff0ea"/><rect x="1038.0" y="1467.7" width="20.9" height="50.7" fill="#ffeee8"/><rect x="1058.6" y="1467.7" width="20.9" height="50.7" fill="#ffeee8"/><rect x="1079.1" y="1467.7" width="20.9" height="50.7" fill="#ffe4db"/><rect x="1099.7" y="1467.7" width="20.9" height="50.7" fill="#ffdbce"/><rect x="1120.3" y="1467.7" width="20.9" height="50.7" fill="#ff2913"/><rect x="1140.9" y="1467.7" width="20.9" height="50.7" fill="#ff2913"/><rect x="1161.5" y="1467.7" width="20.9" height="50.7" fill="#ff2913"/><rect x="1182.0" y="1467.7" width="20.9" height="50.7" fill="#ff2913"/><rect x="1202.6" y="1467.7" width="20.9" height="50.7" fill="#ff8160"/><rect x="1223.2" y="1467.7" width="20.9" height="50.7" fill="#ff8b6c"/><rect x="1243.8" y="1467.7" width="20.9" height="50.7" fill="#ff7e5e"/><rect x="1264.4" y="1467.7" width="20.9" height="50.7" fill="#ff5b3a"/><rect x="1285.0" y="1467.7" width="20.9" height="50.7" fill="#ff2913"/><rect x="1305.5" y="1467.7" width="20.9" height="50.7" fill="#ff2913"/><rect x="1326.1" y="1467.7" width="20.9" height="50.7" fill="#ff2913"/><rect x="893.9" y="1518.1" width="20.9" height="50.7" fill="#ff7c5b"/><rect x="914.5" y="1518.1" width="20.9" height="50.7" fill="#ff7c5b"/><rect x="935.1" y="1518.1" width="20.9" height="50.7" fill="#ff7c5b"/><rect x="955.6" y="1518.1" width="20.9" height="50.7" fill="#fbfff9"/><rect x="976.2" y="1518.1" width="20.9" height="50.7" fill="#fbfff9"/><rect x="996.8" y="1518.1" width="20.9" height="50.7" fill="#fff9f7"/><rect x="1017.4" y="1518.1" width="20.9" height="50.7" fill="#fff0ea"/><rect x="1038.0" y="1518.1" width="20.9" height="50.7" fill="#ffeee8"/><rect x="1058.6" y="1518.1" width="20.9" height="50.7" fill="#ffeee8"/><rect x="1079.1" y="1518.1" width="20.9" height="50.7" fill="#ffe4db"/><rect x="1099.7" y="1518.1" width="20.9" height="50.7" fill="#ffdbce"/><rect x="1120.3" y="1518.1" width="20.9" height="50.7" fill="#ffc7b5"/><rect x="1140.9" y="1518.1" width="20.9" height="50.7" fill="#ffa68b"/><rect x="1161.5" y="1518.1" width="20.9" height="50.7" fill="#ff7352"/><rect x="1182.0" y="1518.1" width="20.9" height="50.7" fill="#ff7352"/><rect x="1202.6" y="1518.1" width="20.9" height="50.7" fill="#ffc2ad"/><rect x="1223.2" y="1518.1" width="20.9" height="50.7" fill="#ffa084"/><rect x="1243.8" y="1518.1" width="20.9" height="50.7" fill="#ff7e5e"/><rect x="1264.4" y="1518.1" width="20.9" height="50.7" fill="#ff5b3a"/><rect x="1285.0" y="1518.1" width="20.9" height="50.7" fill="#ff2913"/><rect x="1305.5" y="1518.1" width="20.9" height="50.7" fill="#ff2913"/><rect x="1326.1" y="1518.1" width="20.9" height="50.7" fill="#ff2913"/><rect x="893.9" y="1568.5" width="20.9" height="50.7" fill="#ffbaa3"/><rect x="914.5" y="1568.5" width="20.9" height="50.7" fill="#ffbaa3"/><rect x="935.1" y="1568.5" width="20.9" height="50.7" fill="#fbfff9"/><rect x="955.6" y="1568.5" width="20.9" height="50.7" fill="#fbfff9"/><rect x="976.2" y="1568.5" width="20.9" height="50.7" fill="#fbfff9"/><rect x="996.8" y="1568.5" width="20.9" height="50.7" fill="#fff9f7"/><rect x="1017.4" y="1568.5" width="20.9" height="50.7" fill="#fff0ea"/><rect x="1038.0" y="1568.5" width="20.9" height="50.7" fill="#ffeee8"/><rect x="1058.6" y="1568.5" width="20.9" height="50.7" fill="#ffeee8"/><rect x="1079.1" y="1568.5" width="20.9" height="50.7" fill="#ffe4db"/><rect x="1099.7" y="1568.5" width="20.9" height="50.7" fill="#ffdbce"/><rect x="1120.3" y="1568.5" width="20.9" height="50.7" fill="#ffd7c9"/><rect x="1140.9" y="1568.5" width="20.9" height="50.7" fill="#ffd5c6"/><rect x="1161.5" y="1568.5" width="20.9" height="50.7" fill="#ffb097"/><rect x="1182.0" y="1568.5" width="20.9" height="50.7" fill="#ffc2ad"/><rect x="1202.6" y="1568.5" width="20.9" height="50.7" fill="#ffc2ad"/><rect x="1223.2" y="1568.5" width="20.9" height="50.7" fill="#ffa084"/><rect x="1243.8" y="1568.5" width="20.9" height="50.7" fill="#ff7a59"/><rect x="1264.4" y="1568.5" width="20.9" height="50.7" fill="#ff5b3a"/><rect x="1285.0" y="1568.5" width="20.9" height="50.7" fill="#ff2913"/><rect x="1305.5" y="1568.5" width="20.9" height="50.7" fill="#ff2913"/><rect x="1326.1" y="1568.5" width="20.9" height="50.7" fill="#ff2913"/><rect x="893.9" y="1618.8" width="20.9" height="50.7" fill="#fff4ef"/><rect x="914.5" y="1618.8" width="20.9" height="50.7" fill="#fff4ef"/><rect x="935.1" y="1618.8" width="20.9" height="50.7" fill="#fff4ef"/><rect x="955.6" y="1618.8" width="20.9" height="50.7" fill="#fbfff9"/><rect x="976.2" y="1618.8" width="20.9" height="50.7" fill="#fbfff9"/><rect x="996.8" y="1618.8" width="20.9" height="50.7" fill="#fff9f7"/><rect x="1017.4" y="1618.8" width="20.9" height="50.7" fill="#fff0ea"/><rect x="1038.0" y="1618.8" width="20.9" height="50.7" fill="#ffeee8"/><rect x="1058.6" y="1618.8" width="20.9" height="50.7" fill="#ffeee8"/><rect x="1079.1" y="1618.8" width="20.9" height="50.7" fill="#ffe4db"/><rect x="1099.7" y="1618.8" width="20.9" height="50.7" fill="#ffdbce"/><rect x="1120.3" y="1618.8" width="20.9" height="50.7" fill="#ffd5c6"/><rect x="1140.9" y="1618.8" width="20.9" height="50.7" fill="#ffcdbc"/><rect x="1161.5" y="1618.8" width="20.9" height="50.7" fill="#ffc6b2"/><rect x="1182.0" y="1618.8" width="20.9" height="50.7" fill="#ffc6b2"/><rect x="1202.6" y="1618.8" width="20.9" height="50.7" fill="#ffc2ad"/><rect x="1223.2" y="1618.8" width="20.9" height="50.7" fill="#ffa084"/><rect x="1243.8" y="1618.8" width="20.9" height="50.7" fill="#ff7e5e"/><rect x="1264.4" y="1618.8" width="20.9" height="50.7" fill="#ff5b3a"/><rect x="1285.0" y="1618.8" width="20.9" height="50.7" fill="#ff2913"/><rect x="1305.5" y="1618.8" width="20.9" height="50.7" fill="#ff2913"/><rect x="1326.1" y="1618.8" width="20.9" height="50.7" fill="#ff2410"/><rect x="893.9" y="1669.2" width="20.9" height="50.7" fill="#fff7f5"/><rect x="914.5" y="1669.2" width="20.9" height="50.7" fill="#fff7f5"/><rect x="935.1" y="1669.2" width="20.9" height="50.7" fill="#fff7f5"/><rect x="955.6" y="1669.2" width="20.9" height="50.7" fill="#fff7f5"/><rect x="976.2" y="1669.2" width="20.9" height="50.7" fill="#fbfff9"/><rect x="996.8" y="1669.2" width="20.9" height="50.7" fill="#fff2ed"/><rect x="1017.4" y="1669.2" width="20.9" height="50.7" fill="#fff0ea"/><rect x="1038.0" y="1669.2" width="20.9" height="50.7" fill="#ffe6dd"/><rect x="1058.6" y="1669.2" width="20.9" height="50.7" fill="#ffeee8"/><rect x="1079.1" y="1669.2" width="20.9" height="50.7" fill="#ffe2d8"/><rect x="1099.7" y="1669.2" width="20.9" height="50.7" fill="#ffdbce"/><rect x="1120.3" y="1669.2" width="20.9" height="50.7" fill="#ffcbba"/><rect x="1140.9" y="1669.2" width="20.9" height="50.7" fill="#ffcbba"/><rect x="1161.5" y="1669.2" width="20.9" height="50.7" fill="#ffcbba"/><rect x="1182.0" y="1669.2" width="20.9" height="50.7" fill="#ffcbba"/><rect x="1202.6" y="1669.2" width="20.9" height="50.7" fill="#ffc6b2"/><rect x="1223.2" y="1669.2" width="20.9" height="50.7" fill="#ffac92"/><rect x="1243.8" y="1669.2" width="20.9" height="50.7" fill="#ff7e5e"/><rect x="1264.4" y="1669.2" width="20.9" height="50.7" fill="#ff6341"/><rect x="1285.0" y="1669.2" width="20.9" height="50.7" fill="#ff2913"/><rect x="1305.5" y="1669.2" width="20.9" height="50.7" fill="#ff2410"/><rect x="1326.1" y="1669.2" width="20.9" height="50.7" fill="#ff0e04"/><rect x="893.9" y="1719.6" width="20.9" height="50.7" fill="#fcfffb"/><rect x="914.5" y="1719.6" width="20.9" height="50.7" fill="#fff7f5"/><rect x="935.1" y="1719.6" width="20.9" height="50.7" fill="#fff7f5"/><rect x="955.6" y="1719.6" width="20.9" height="50.7" fill="#fff7f5"/><rect x="976.2" y="1719.6" width="20.9" height="50.7" fill="#fff5f2"/><rect x="996.8" y="1719.6" width="20.9" height="50.7" fill="#fff2ed"/><rect x="1017.4" y="1719.6" width="20.9" height="50.7" fill="#ffece5"/><rect x="1038.0" y="1719.6" width="20.9" height="50.7" fill="#ffe6dd"/><rect x="1058.6" y="1719.6" width="20.9" height="50.7" fill="#ffe4db"/><rect x="1079.1" y="1719.6" width="20.9" height="50.7" fill="#ffe2d8"/><rect x="1099.7" y="1719.6" width="20.9" height="50.7" fill="#ffd7c9"/><rect x="1120.3" y="1719.6" width="20.9" height="50.7" fill="#ffcbba"/><rect x="1140.9" y="1719.6" width="20.9" height="50.7" fill="#ffd9cb"/><rect x="1161.5" y="1719.6" width="20.9" height="50.7" fill="#ffd9cb"/><rect x="1182.0" y="1719.6" width="20.9" height="50.7" fill="#ffc9b7"/><rect x="1202.6" y="1719.6" width="20.9" height="50.7" fill="#ffb8a1"/><rect x="1223.2" y="1719.6" width="20.9" height="50.7" fill="#ffae95"/><rect x="1243.8" y="1719.6" width="20.9" height="50.7" fill="#ff8b6c"/><rect x="1264.4" y="1719.6" width="20.9" height="50.7" fill="#ff6341"/><rect x="1285.0" y="1719.6" width="20.9" height="50.7" fill="#ff4729"/><rect x="1305.5" y="1719.6" width="20.9" height="50.7" fill="#ff1e0c"/><rect x="1326.1" y="1719.6" width="20.9" height="50.7" fill="#ff0e04"/><rect x="893.9" y="1770.0" width="20.9" height="50.7" fill="#ffffff"/><rect x="914.5" y="1770.0" width="20.9" height="50.7" fill="#ffeae2"/><rect x="935.1" y="1770.0" width="20.9" height="50.7" fill="#fff7f5"/><rect x="955.6" y="1770.0" width="20.9" height="50.7" fill="#fff7f5"/><rect x="976.2" y="1770.0" width="20.9" height="50.7" fill="#fff5f2"/><rect x="996.8" y="1770.0" width="20.9" height="50.7" fill="#fff2ed"/><rect x="1017.4" y="1770.0" width="20.9" height="50.7" fill="#ffece5"/><rect x="1038.0" y="1770.0" width="20.9" height="50.7" fill="#ffe6dd"/><rect x="1058.6" y="1770.0" width="20.9" height="50.7" fill="#ffe4db"/><rect x="1079.1" y="1770.0" width="20.9" height="50.7" fill="#ffe2d8"/><rect x="1099.7" y="1770.0" width="20.9" height="50.7" fill="#ffd7c9"/><rect x="1120.3" y="1770.0" width="20.9" height="50.7" fill="#ffcbba"/><rect x="1140.9" y="1770.0" width="20.9" height="50.7" fill="#ffcbba"/><rect x="1161.5" y="1770.0" width="20.9" height="50.7" fill="#ffc9b7"/><rect x="1182.0" y="1770.0" width="20.9" height="50.7" fill="#ffbaa3"/><rect x="1202.6" y="1770.0" width="20.9" height="50.7" fill="#ffb49c"/><rect x="1223.2" y="1770.0" width="20.9" height="50.7" fill="#ffae95"/><rect x="1243.8" y="1770.0" width="20.9" height="50.7" fill="#ff8b6c"/><rect x="1264.4" y="1770.0" width="20.9" height="50.7" fill="#ff6341"/><rect x="1285.0" y="1770.0" width="20.9" height="50.7" fill="#ff4729"/><rect x="1305.5" y="1770.0" width="20.9" height="50.7" fill="#ff2410"/><rect x="1326.1" y="1770.0" width="20.9" height="50.7" fill="#ff0e04"/><path d="M914.5 1316.5L914.5 1820.4" stroke="#fff" stroke-width="0.7" stroke-opacity="0.22"/><path d="M935.1 1316.5L935.1 1820.4" stroke="#fff" stroke-width="0.7" stroke-opacity="0.22"/><path d="M955.6 1316.5L955.6 1820.4" stroke="#fff" stroke-width="0.7" stroke-opacity="0.22"/><path d="M976.2 1316.5L976.2 1820.4" stroke="#fff" stroke-width="0.7" stroke-opacity="0.22"/><path d="M996.8 1316.5L996.8 1820.4" stroke="#fff" stroke-width="0.7" stroke-opacity="0.22"/><path d="M1017.4 1316.5L1017.4 1820.4" stroke="#fff" stroke-width="0.7" stroke-opacity="0.22"/><path d="M1038.0 1316.5L1038.0 1820.4" stroke="#fff" stroke-width="0.7" stroke-opacity="0.22"/><path d="M1058.6 1316.5L1058.6 1820.4" stroke="#fff" stroke-width="0.7" stroke-opacity="0.22"/><path d="M1079.1 1316.5L1079.1 1820.4" stroke="#fff" stroke-width="0.7" stroke-opacity="0.22"/><path d="M1099.7 1316.5L1099.7 1820.4" stroke="#fff" stroke-width="0.7" stroke-opacity="0.22"/><path d="M1120.3 1316.5L1120.3 1820.4" stroke="#fff" stroke-width="0.7" stroke-opacity="0.22"/><path d="M1140.9 1316.5L1140.9 1820.4" stroke="#fff" stroke-width="0.7" stroke-opacity="0.22"/><path d="M1161.5 1316.5L1161.5 1820.4" stroke="#fff" stroke-width="0.7" stroke-opacity="0.22"/><path d="M1182.0 1316.5L1182.0 1820.4" stroke="#fff" stroke-width="0.7" stroke-opacity="0.22"/><path d="M1202.6 1316.5L1202.6 1820.4" stroke="#fff" stroke-width="0.7" stroke-opacity="0.22"/><path d="M1223.2 1316.5L1223.2 1820.4" stroke="#fff" stroke-width="0.7" stroke-opacity="0.22"/><path d="M1243.8 1316.5L1243.8 1820.4" stroke="#fff" stroke-width="0.7" stroke-opacity="0.22"/><path d="M1264.4 1316.5L1264.4 1820.4" stroke="#fff" stroke-width="0.7" stroke-opacity="0.22"/><path d="M1285.0 1316.5L1285.0 1820.4" stroke="#fff" stroke-width="0.7" stroke-opacity="0.22"/><path d="M1305.5 1316.5L1305.5 1820.4" stroke="#fff" stroke-width="0.7" stroke-opacity="0.22"/><path d="M1326.1 1316.5L1326.1 1820.4" stroke="#fff" stroke-width="0.7" stroke-opacity="0.22"/><path d="M893.9 1366.9L1346.7 1366.9" stroke="#fff" stroke-width="0.7" stroke-opacity="0.22"/><path d="M893.9 1417.3L1346.7 1417.3" stroke="#fff" stroke-width="0.7" stroke-opacity="0.22"/><path d="M893.9 1467.7L1346.7 1467.7" stroke="#fff" stroke-width="0.7" stroke-opacity="0.22"/><path d="M893.9 1518.1L1346.7 1518.1" stroke="#fff" stroke-width="0.7" stroke-opacity="0.22"/><path d="M893.9 1568.5L1346.7 1568.5" stroke="#fff" stroke-width="0.7" stroke-opacity="0.22"/><path d="M893.9 1618.8L1346.7 1618.8" stroke="#fff" stroke-width="0.7" stroke-opacity="0.22"/><path d="M893.9 1669.2L1346.7 1669.2" stroke="#fff" stroke-width="0.7" stroke-opacity="0.22"/><path d="M893.9 1719.6L1346.7 1719.6" stroke="#fff" stroke-width="0.7" stroke-opacity="0.22"/><path d="M893.9 1770.0L1346.7 1770.0" stroke="#fff" stroke-width="0.7" stroke-opacity="0.22"/><g class="s m" font-size="14.7" fill="#111" transform="scale(1.12,1)"><text x="807.3" y="1348.2">97</text><text x="825.7" y="1348.2">97</text><text x="844.1" y="1348.2">97</text><text x="862.4" y="1348.2">97</text><text x="880.8" y="1348.2">97</text><text x="899.2" y="1348.2">97</text><text x="917.6" y="1348.2">8</text><text x="935.9" y="1348.2">23</text><text x="954.3" y="1348.2">53</text><text x="972.7" y="1348.2">97</text><text x="991.1" y="1348.2">97</text><text x="1009.5" y="1348.2">97</text><text x="1027.8" y="1348.2">97</text><text x="1046.2" y="1348.2">97</text><text x="1064.6" y="1348.2">97</text><text x="1083.0" y="1348.2">97</text><text x="1101.3" y="1348.2">97</text><text x="1119.7" y="1348.2">97</text><text x="1138.1" y="1348.2">97</text><text x="1156.5" y="1348.2">95</text><text x="1174.8" y="1348.2">95</text><text x="1193.2" y="1348.2">95</text><text x="807.3" y="1398.5">96</text><text x="825.7" y="1398.5">97</text><text x="844.1" y="1398.5">97</text><text x="862.4" y="1398.5">96</text><text x="880.8" y="1398.5">47</text><text x="899.2" y="1398.5">19</text><text x="917.6" y="1398.5">8</text><text x="935.9" y="1398.5">9</text><text x="954.3" y="1398.5">9</text><text x="972.7" y="1398.5">97</text><text x="991.1" y="1398.5">97</text><text x="1009.5" y="1398.5">97</text><text x="1027.8" y="1398.5">97</text><text x="1046.2" y="1398.5">97</text><text x="1064.6" y="1398.5">97</text><text x="1083.0" y="1398.5">97</text><text x="1101.3" y="1398.5">97</text><text x="1119.7" y="1398.5">81</text><text x="1138.1" y="1398.5">85</text><text x="1156.5" y="1398.5">95</text><text x="1174.8" y="1398.5">95</text><text x="1193.2" y="1398.5">95</text><text x="807.3" y="1448.9">96</text><text x="825.7" y="1448.9">96</text><text x="844.1" y="1448.9">96</text><text x="862.4" y="1448.9">96</text><text x="880.8" y="1448.9">-3</text><text x="899.2" y="1448.9">3</text><text x="917.6" y="1448.9">8</text><text x="935.9" y="1448.9">9</text><text x="954.3" y="1448.9">9</text><text x="972.7" y="1448.9">27</text><text x="991.1" y="1448.9">58</text><text x="1009.5" y="1448.9">97</text><text x="1027.8" y="1448.9">97</text><text x="1046.2" y="1448.9">97</text><text x="1064.6" y="1448.9">97</text><text x="1083.0" y="1448.9">97</text><text x="1101.3" y="1448.9">97</text><text x="1119.7" y="1448.9">65</text><text x="1138.1" y="1448.9">80</text><text x="1156.5" y="1448.9">95</text><text x="1174.8" y="1448.9">95</text><text x="1193.2" y="1448.9">95</text><text x="807.3" y="1499.3">95</text><text x="825.7" y="1499.3">95</text><text x="844.1" y="1499.3">95</text><text x="862.4" y="1499.3">30</text><text x="880.8" y="1499.3">-3</text><text x="899.2" y="1499.3">3</text><text x="917.6" y="1499.3">8</text><text x="935.9" y="1499.3">9</text><text x="954.3" y="1499.3">9</text><text x="972.7" y="1499.3">14</text><text x="991.1" y="1499.3">19</text><text x="1009.5" y="1499.3">95</text><text x="1027.8" y="1499.3">95</text><text x="1046.2" y="1499.3">95</text><text x="1064.6" y="1499.3">95</text><text x="1083.0" y="1499.3">64</text><text x="1101.3" y="1499.3">59</text><text x="1119.7" y="1499.3">65</text><text x="1138.1" y="1499.3">80</text><text x="1156.5" y="1499.3">95</text><text x="1174.8" y="1499.3">95</text><text x="1193.2" y="1499.3">95</text><text x="807.3" y="1549.7">66</text><text x="825.7" y="1549.7">66</text><text x="844.1" y="1549.7">66</text><text x="862.4" y="1549.7">-3</text><text x="880.8" y="1549.7">-3</text><text x="899.2" y="1549.7">3</text><text x="917.6" y="1549.7">8</text><text x="935.9" y="1549.7">9</text><text x="954.3" y="1549.7">9</text><text x="972.7" y="1549.7">14</text><text x="991.1" y="1549.7">19</text><text x="1009.5" y="1549.7">29</text><text x="1027.8" y="1549.7">46</text><text x="1046.2" y="1549.7">70</text><text x="1064.6" y="1549.7">70</text><text x="1083.0" y="1549.7">32</text><text x="1101.3" y="1549.7">49</text><text x="1119.7" y="1549.7">65</text><text x="1138.1" y="1549.7">80</text><text x="1156.5" y="1549.7">95</text><text x="1174.8" y="1549.7">95</text><text x="1193.2" y="1549.7">95</text><text x="807.3" y="1600.1">36</text><text x="825.7" y="1600.1">36</text><text x="844.1" y="1600.1">-3</text><text x="862.4" y="1600.1">-3</text><text x="880.8" y="1600.1">-3</text><text x="899.2" y="1600.1">3</text><text x="917.6" y="1600.1">8</text><text x="935.9" y="1600.1">9</text><text x="954.3" y="1600.1">9</text><text x="972.7" y="1600.1">14</text><text x="991.1" y="1600.1">19</text><text x="1009.5" y="1600.1">21</text><text x="1027.8" y="1600.1">22</text><text x="1046.2" y="1600.1">41</text><text x="1064.6" y="1600.1">32</text><text x="1083.0" y="1600.1">32</text><text x="1101.3" y="1600.1">49</text><text x="1119.7" y="1600.1">67</text><text x="1138.1" y="1600.1">80</text><text x="1156.5" y="1600.1">95</text><text x="1174.8" y="1600.1">95</text><text x="1193.2" y="1600.1">95</text><text x="807.3" y="1650.5">6</text><text x="825.7" y="1650.5">6</text><text x="844.1" y="1650.5">6</text><text x="862.4" y="1650.5">-3</text><text x="880.8" y="1650.5">-3</text><text x="899.2" y="1650.5">3</text><text x="917.6" y="1650.5">8</text><text x="935.9" y="1650.5">9</text><text x="954.3" y="1650.5">9</text><text x="972.7" y="1650.5">14</text><text x="991.1" y="1650.5">19</text><text x="1009.5" y="1650.5">22</text><text x="1027.8" y="1650.5">26</text><text x="1046.2" y="1650.5">30</text><text x="1064.6" y="1650.5">30</text><text x="1083.0" y="1650.5">32</text><text x="1101.3" y="1650.5">49</text><text x="1119.7" y="1650.5">65</text><text x="1138.1" y="1650.5">80</text><text x="1156.5" y="1650.5">95</text><text x="1174.8" y="1650.5">95</text><text x="1193.2" y="1650.5">96</text><text x="807.3" y="1700.9">4</text><text x="825.7" y="1700.9">4</text><text x="844.1" y="1700.9">4</text><text x="862.4" y="1700.9">4</text><text x="880.8" y="1700.9">-3</text><text x="899.2" y="1700.9">7</text><text x="917.6" y="1700.9">8</text><text x="935.9" y="1700.9">13</text><text x="954.3" y="1700.9">9</text><text x="972.7" y="1700.9">15</text><text x="991.1" y="1700.9">19</text><text x="1009.5" y="1700.9">27</text><text x="1027.8" y="1700.9">27</text><text x="1046.2" y="1700.9">27</text><text x="1064.6" y="1700.9">27</text><text x="1083.0" y="1700.9">30</text><text x="1101.3" y="1700.9">43</text><text x="1119.7" y="1700.9">65</text><text x="1138.1" y="1700.9">77</text><text x="1156.5" y="1700.9">95</text><text x="1174.8" y="1700.9">96</text><text x="1193.2" y="1700.9">99</text><text x="807.3" y="1751.3">-2</text><text x="825.7" y="1751.3">4</text><text x="844.1" y="1751.3">4</text><text x="862.4" y="1751.3">4</text><text x="880.8" y="1751.3">5</text><text x="899.2" y="1751.3">7</text><text x="917.6" y="1751.3">10</text><text x="935.9" y="1751.3">13</text><text x="954.3" y="1751.3">14</text><text x="972.7" y="1751.3">15</text><text x="991.1" y="1751.3">21</text><text x="1009.5" y="1751.3">27</text><text x="1027.8" y="1751.3">20</text><text x="1046.2" y="1751.3">20</text><text x="1064.6" y="1751.3">28</text><text x="1083.0" y="1751.3">37</text><text x="1101.3" y="1751.3">42</text><text x="1119.7" y="1751.3">59</text><text x="1138.1" y="1751.3">77</text><text x="1156.5" y="1751.3">87</text><text x="1174.8" y="1751.3">97</text><text x="1193.2" y="1751.3">99</text><text x="807.3" y="1801.7">-0</text><text x="825.7" y="1801.7">11</text><text x="844.1" y="1801.7">4</text><text x="862.4" y="1801.7">4</text><text x="880.8" y="1801.7">5</text><text x="899.2" y="1801.7">7</text><text x="917.6" y="1801.7">10</text><text x="935.9" y="1801.7">13</text><text x="954.3" y="1801.7">14</text><text x="972.7" y="1801.7">15</text><text x="991.1" y="1801.7">21</text><text x="1009.5" y="1801.7">27</text><text x="1027.8" y="1801.7">27</text><text x="1046.2" y="1801.7">28</text><text x="1064.6" y="1801.7">36</text><text x="1083.0" y="1801.7">39</text><text x="1101.3" y="1801.7">42</text><text x="1119.7" y="1801.7">59</text><text x="1138.1" y="1801.7">77</text><text x="1156.5" y="1801.7">87</text><text x="1174.8" y="1801.7">96</text><text x="1193.2" y="1801.7">99</text></g><text transform="translate(873.6,1344.7) rotate(-90)" y="5.9" class="r m" font-size="18" fill="#ff0000">111</text><path d="M886.5 1341.7L892.7 1341.7" stroke="#333" stroke-width="1.6"/><text transform="translate(873.6,1395.1) rotate(-90)" y="5.9" class="r m" font-size="18" fill="#ff0000">37.0</text><path d="M886.5 1392.1L892.7 1392.1" stroke="#333" stroke-width="1.6"/><text transform="translate(873.6,1445.5) rotate(-90)" y="5.9" class="r m" font-size="18" fill="#ff0000">12.4</text><path d="M886.5 1442.5L892.7 1442.5" stroke="#333" stroke-width="1.6"/><text transform="translate(873.6,1495.9) rotate(-90)" y="5.9" class="r m" font-size="18" fill="#ff0000">4.12</text><path d="M886.5 1492.9L892.7 1492.9" stroke="#333" stroke-width="1.6"/><text transform="translate(873.6,1546.3) rotate(-90)" y="5.9" class="r m" font-size="18" fill="#ff0000">1.37</text><path d="M886.5 1543.3L892.7 1543.3" stroke="#333" stroke-width="1.6"/><text transform="translate(873.6,1596.6) rotate(-90)" y="5.9" class="r m" font-size="18" fill="#ff0000">1.20</text><path d="M886.5 1593.6L892.7 1593.6" stroke="#333" stroke-width="1.6"/><text transform="translate(873.6,1647.0) rotate(-90)" y="5.9" class="r m" font-size="18" fill="#ff0000">0.46</text><path d="M886.5 1644.0L892.7 1644.0" stroke="#333" stroke-width="1.6"/><text transform="translate(873.6,1697.4) rotate(-90)" y="5.9" class="r m" font-size="18" fill="#ff0000">0.15</text><path d="M886.5 1694.4L892.7 1694.4" stroke="#333" stroke-width="1.6"/><text transform="translate(873.6,1747.8) rotate(-90)" y="5.9" class="r m" font-size="18" fill="#ff0000">0.10</text><path d="M886.5 1744.8L892.7 1744.8" stroke="#333" stroke-width="1.6"/><text transform="translate(873.6,1798.2) rotate(-90)" y="5.9" class="r m" font-size="18" fill="#ff0000">0</text><path d="M886.5 1795.2L892.7 1795.2" stroke="#333" stroke-width="1.6"/><path d="M904.2 1825.8L904.2 1830.0" stroke="#333" stroke-width="1.6"/><text transform="translate(904.2,1832.5) rotate(-90)" y="6.0" class="r e" font-size="18.3" fill="#ff0000">0</text><path d="M924.8 1825.8L924.8 1830.0" stroke="#333" stroke-width="1.6"/><text transform="translate(924.8,1832.5) rotate(-90)" y="6.0" class="r e" font-size="18.3" fill="#ff0000">0.28</text><path d="M945.4 1825.8L945.4 1830.0" stroke="#333" stroke-width="1.6"/><text transform="translate(945.4,1832.5) rotate(-90)" y="6.0" class="r e" font-size="18.3" fill="#ff0000">0.85</text><path d="M965.9 1825.8L965.9 1830.0" stroke="#333" stroke-width="1.6"/><text transform="translate(965.9,1832.5) rotate(-90)" y="6.0" class="r e" font-size="18.3" fill="#ff0000">2.54</text><path d="M986.5 1825.8L986.5 1830.0" stroke="#333" stroke-width="1.6"/><text transform="translate(986.5,1832.5) rotate(-90)" y="6.0" class="r e" font-size="18.3" fill="#ff0000">4.12</text><path d="M1007.1 1825.8L1007.1 1830.0" stroke="#333" stroke-width="1.6"/><text transform="translate(1007.1,1832.5) rotate(-90)" y="6.0" class="r e" font-size="18.3" fill="#ff0000">7.62</text><path d="M1027.7 1825.8L1027.7 1830.0" stroke="#333" stroke-width="1.6"/><text transform="translate(1027.7,1832.5) rotate(-90)" y="6.0" class="r e" font-size="18.3" fill="#ff0000">12</text><path d="M1048.3 1825.8L1048.3 1830.0" stroke="#333" stroke-width="1.6"/><text transform="translate(1048.3,1832.5) rotate(-90)" y="6.0" class="r e" font-size="18.3" fill="#ff0000">23</text><path d="M1068.8 1825.8L1068.8 1830.0" stroke="#333" stroke-width="1.6"/><text transform="translate(1068.8,1832.5) rotate(-90)" y="6.0" class="r e" font-size="18.3" fill="#ff0000">37</text><path d="M1089.4 1825.8L1089.4 1830.0" stroke="#333" stroke-width="1.6"/><text transform="translate(1089.4,1832.5) rotate(-90)" y="6.0" class="r e" font-size="18.3" fill="#ff0000">69</text><path d="M1110.0 1825.8L1110.0 1830.0" stroke="#333" stroke-width="1.6"/><text transform="translate(1110.0,1832.5) rotate(-90)" y="6.0" class="r e" font-size="18.3" fill="#ff0000">111</text><path d="M1130.6 1825.8L1130.6 1830.0" stroke="#333" stroke-width="1.6"/><text transform="translate(1130.6,1832.5) rotate(-90)" y="6.0" class="r e" font-size="18.3" fill="#ff0000">206</text><path d="M1151.2 1825.8L1151.2 1830.0" stroke="#333" stroke-width="1.6"/><text transform="translate(1151.2,1832.5) rotate(-90)" y="6.0" class="r e" font-size="18.3" fill="#ff0000">333</text><path d="M1171.8 1825.8L1171.8 1830.0" stroke="#333" stroke-width="1.6"/><text transform="translate(1171.8,1832.5) rotate(-90)" y="6.0" class="r e" font-size="18.3" fill="#ff0000">492</text><path d="M1192.3 1825.8L1192.3 1830.0" stroke="#333" stroke-width="1.6"/><text transform="translate(1192.3,1832.5) rotate(-90)" y="6.0" class="r e" font-size="18.3" fill="#ff0000">617</text><path d="M1212.9 1825.8L1212.9 1830.0" stroke="#333" stroke-width="1.6"/><text transform="translate(1212.9,1832.5) rotate(-90)" y="6.0" class="r e" font-size="18.3" fill="#ff0000">1000</text><path d="M1233.5 1825.8L1233.5 1830.0" stroke="#333" stroke-width="1.6"/><text transform="translate(1233.5,1832.5) rotate(-90)" y="6.0" class="r e" font-size="18.3" fill="#ff0000">1852</text><path d="M1254.1 1825.8L1254.1 1830.0" stroke="#333" stroke-width="1.6"/><text transform="translate(1254.1,1832.5) rotate(-90)" y="6.0" class="r e" font-size="18.3" fill="#ff0000">3000</text><path d="M1274.7 1825.8L1274.7 1830.0" stroke="#333" stroke-width="1.6"/><text transform="translate(1274.7,1832.5) rotate(-90)" y="6.0" class="r e" font-size="18.3" fill="#ff0000">5560</text><path d="M1295.2 1825.8L1295.2 1830.0" stroke="#333" stroke-width="1.6"/><text transform="translate(1295.2,1832.5) rotate(-90)" y="6.0" class="r e" font-size="18.3" fill="#ff0000">9000</text><path d="M1315.8 1825.8L1315.8 1830.0" stroke="#333" stroke-width="1.6"/><text transform="translate(1315.8,1832.5) rotate(-90)" y="6.0" class="r e" font-size="18.3" fill="#ff0000">16000</text><path d="M1336.4 1825.8L1336.4 1830.0" stroke="#333" stroke-width="1.6"/><text transform="translate(1336.4,1832.5) rotate(-90)" y="6.0" class="r e" font-size="18.3" fill="#ff0000">50000</text><defs><linearGradient id="g1351_1520" x1="0" y1="0" x2="0" y2="1"><stop offset="0.0000" stop-color="#ff0000"/><stop offset="0.0455" stop-color="#ff2410"/><stop offset="0.0909" stop-color="#ff3b1f"/><stop offset="0.1364" stop-color="#ff4b2d"/><stop offset="0.1818" stop-color="#ff5a39"/><stop offset="0.2273" stop-color="#ff6745"/><stop offset="0.2727" stop-color="#ff7352"/><stop offset="0.3182" stop-color="#ff7f5e"/><stop offset="0.3636" stop-color="#ff8a6a"/><stop offset="0.4091" stop-color="#ff9576"/><stop offset="0.4545" stop-color="#ff9f83"/><stop offset="0.5000" stop-color="#ffaa8f"/><stop offset="0.5455" stop-color="#ffb49c"/><stop offset="0.5909" stop-color="#ffbea9"/><stop offset="0.6364" stop-color="#ffc8b5"/><stop offset="0.6818" stop-color="#ffd2c2"/><stop offset="0.7273" stop-color="#ffdccf"/><stop offset="0.7727" stop-color="#ffe6dd"/><stop offset="0.8182" stop-color="#fff0ea"/><stop offset="0.8636" stop-color="#fffaf8"/><stop offset="0.9091" stop-color="#fcfffa"/><stop offset="0.9545" stop-color="#f4fff0"/><stop offset="1.0000" stop-color="#edffe6"/></linearGradient></defs><rect x="1351.2" y="1520.9" width="28.8" height="104.8" fill="url(#g1351_1520)"/><text transform="translate(1390.3,1545.0) scale(1.12,1)" y="4.8" class="s" font-size="13.5" fill="#1a1a1a">75</text><text transform="translate(1390.3,1568.0) scale(1.12,1)" y="4.8" class="s" font-size="13.5" fill="#1a1a1a">50</text><text transform="translate(1390.3,1591.0) scale(1.12,1)" y="4.8" class="s" font-size="13.5" fill="#1a1a1a">25</text><text transform="translate(1390.3,1614.0) scale(1.12,1)" y="4.8" class="s" font-size="13.5" fill="#1a1a1a">0</text><text x="1352.9" y="1509.5" class="s" font-size="14.5" fill="#1a1a1a" textLength="121.8" lengthAdjust="spacingAndGlyphs">Cytotoxicity (%)</text><rect x="142.50" y="254.00" width="334.00" height="302.50" fill="none" stroke="#000" stroke-width="3"/><rect x="259.00" y="316.00" width="18.50" height="32.00" fill="none" stroke="#000" stroke-width="2.6"/><path d="M628.0 314.5L302.0 314.5" stroke="#000" stroke-width="3.2"/><polygon points="280.50,314.50 304.00,302.50 304.00,326.50" fill="#000"/><text x="642.5" y="303.3" class="s m" font-size="33.5">50%</text><rect x="934.50" y="254.00" width="357.00" height="302.80" fill="none" stroke="#000" stroke-width="3"/><rect x="1185.50" y="466.00" width="20.00" height="32.50" fill="none" stroke="#000" stroke-width="2.6"/><path d="M1414.0 468.5L1227.0 466.7" stroke="#000" stroke-width="3.2"/><polygon points="1206.00,466.50 1229.11,454.72 1228.88,478.72" fill="#000"/><text x="1402.0" y="457.4" class="s m" font-size="33.5">26%</text><rect x="115.20" y="1461.50" width="451.80" height="353.20" fill="none" stroke="#000" stroke-width="3.2"/><rect x="382.00" y="1621.00" width="18.50" height="31.50" fill="none" stroke="#000" stroke-width="2.6"/><path d="M629.0 1654.0L423.5 1654.0" stroke="#000" stroke-width="3.2"/><polygon points="400.50,1654.00 425.50,1642.50 425.50,1665.50" fill="#000"/><text x="651.7" y="1644.5" class="s m" font-size="33.5">50%</text><rect x="894.50" y="1465.50" width="451.50" height="354.70" fill="none" stroke="#000" stroke-width="3.2"/><rect x="1284.50" y="1578.00" width="19.00" height="32.00" fill="none" stroke="#000" stroke-width="2.6"/><path d="M1385.6 1630.5L1329.8 1614.8" stroke="#000" stroke-width="3.2"/><polygon points="1307.70,1608.60 1335.01,1603.81 1328.52,1626.92" fill="#000"/><text x="1425.2" y="1652.4" class="s m" font-size="34">95%</text><text x="312.4" y="32.3" class="s m" font-size="42">HCC1806</text><text x="1117.0" y="32.9" class="s m" font-size="41.6">HCC1806 + HA-CREB3L1</text><text x="3.3" y="45.0" class="s" font-size="41.5" font-weight="bold">a</text><text x="770.5" y="43.0" class="s" font-size="41.5" font-weight="bold">b</text><text x="5.0" y="722.0" class="s" font-size="41.5" font-weight="bold">c</text><text x="771.0" y="720.0" class="s" font-size="41.5" font-weight="bold">d</text><text x="-1.0" y="1327.0" class="s" font-size="41.5" font-weight="bold">e</text><text x="765.0" y="1326.0" class="s" font-size="41.5" font-weight="bold">f</text><text x="-1.0" y="1960.0" class="s" font-size="41.5" font-weight="bold">g</text><text x="768.0" y="1957.0" class="s" font-size="41.5" font-weight="bold">h</text><text transform="translate(37.0,328.0) rotate(-90)" y="12.1" class="s m" font-size="33.8">Doxorubicin, nM</text><text transform="translate(825.0,328.6) rotate(-90)" y="12.1" class="s m" font-size="33.8">Doxorubicin, nM</text><text transform="translate(40.0,1574.5) rotate(-90)" y="12.1" class="s m" font-size="33.8">Paclitaxel, nM</text><text transform="translate(818.0,1555.0) rotate(-90)" y="13.5" class="s m" font-size="37.8">Paclitaxel, nM</text><text x="329.7" y="651.8" class="s m" font-size="33.8">Palbociclib Isethionate, nM</text><text x="1129.2" y="652.1" class="s m" font-size="33.8">Palbociclib Isethionate, nM</text><text x="340.0" y="1906.6" class="s m" font-size="33.8">Palbociclib Isethionate, nM</text><text x="1103.2" y="1908.1" class="s m" font-size="33.8">Palbociclib Isethionate, nM</text><defs><clipPath id="clip1801"><rect x="105.9" y="742.2" width="451.1" height="408.29999999999995"/></clipPath></defs><g clip-path="url(#clip1801)"><path d="M107.4 742.2 127.4 742.2 114.9 749.7 105.9 754.2 105.9 742.2ZM510.9 742.2 557.4 742.2 557.4 754.6 546.9 753.1 532.7 749.7 517.7 745.2 510.4 742.2Z" fill="#d9ffd9" stroke="#d9ffd9" stroke-width="0.7" fill-rule="evenodd"/><path d="M125.4 743.5 127.4 742.2 153.4 742.2 132.9 751.7 123.9 756.6 117.0 761.7 105.9 772.0 105.9 754.2 111.9 751.3ZM450.9 742.2 510.4 742.2 518.4 745.4 532.7 749.7 546.9 753.1 557.4 754.6 557.4 773.9 551.4 772.5 521.7 763.2 468.3 749.7 458.4 746.2Z" fill="#e1ffe1" stroke="#e1ffe1" stroke-width="0.7" fill-rule="evenodd"/><path d="M150.9 743.5 153.4 742.2 176.1 742.2 167.4 746.4 143.9 755.7 137.4 759.2 131.5 763.2 126.6 767.7 122.9 772.2 110.4 792.3 105.9 798.1 105.9 772.0 117.0 761.7 123.9 756.6 132.9 751.7ZM393.9 742.2 450.9 742.2 458.4 746.2 468.3 749.7 521.7 763.2 551.4 772.5 557.4 773.9 557.4 823.8 552.9 819.9 540.0 805.2 532.1 797.7 521.4 789.8 509.4 783.0 498.3 778.2 485.4 774.1 473.4 771.2 443.4 765.4 423.9 759.7 411.9 754.9 402.9 750.3 397.4 746.7 392.5 742.2Z" fill="#eaffea" stroke="#eaffea" stroke-width="0.7" fill-rule="evenodd"/><path d="M173.4 743.7 176.1 742.2 204.9 742.2 186.9 747.6 158.4 757.6 147.6 763.2 140.3 769.2 136.5 773.7 131.6 781.2 121.6 800.7 113.2 821.7 108.7 838.2 107.9 845.7 108.0 853.2 109.3 863.7 111.0 872.7 116.1 889.2 126.3 913.2 129.0 923.7 134.8 971.7 135.9 985.2 136.2 997.2 134.8 1015.2 127.2 1055.7 124.8 1075.2 122.9 1112.7 123.7 1151.7 105.9 1151.7 105.9 798.1 110.4 792.3 122.9 772.2 126.6 767.7 131.5 763.2 138.2 758.7 144.9 755.2ZM347.4 742.2 392.5 742.2 397.4 746.7 404.4 751.2 413.7 755.7 425.4 760.2 444.9 765.8 482.4 773.3 494.0 776.7 503.4 780.2 512.4 784.5 522.0 790.2 530.4 796.3 538.6 803.7 552.9 819.9 557.4 823.8 557.4 952.0 552.9 947.0 548.4 939.5 543.9 929.7 540.7 920.7 535.9 902.7 527.2 859.2 521.3 839.7 518.0 832.2 513.7 824.7 509.4 818.7 504.0 812.7 497.4 806.8 491.1 802.2 483.9 798.1 475.7 794.7 465.9 792.2 435.9 786.8 405.9 779.4 393.6 775.2 387.9 772.3 383.4 769.2 362.3 751.2 354.9 746.4 346.9 742.2Z" fill="#f2fff2" stroke="#f2fff2" stroke-width="0.7" fill-rule="evenodd"/><path d="M264.9 745.2 281.4 744.7 306.9 746.1 329.4 748.5 340.2 751.2 346.4 754.2 352.1 758.7 357.1 764.7 368.4 781.8 374.4 787.7 380.4 791.8 390.9 796.1 420.9 803.0 443.4 810.6 465.9 816.9 470.4 819.0 474.9 821.9 479.4 826.1 482.9 830.7 487.4 839.7 490.4 851.7 492.8 868.2 497.0 907.2 499.8 923.7 504.2 940.2 515.8 974.7 520.1 989.7 528.7 1034.7 531.8 1057.2 532.3 1067.7 532.1 1075.2 530.9 1082.7 528.9 1088.9 525.2 1096.2 519.9 1103.6 513.0 1111.2 507.5 1115.7 501.9 1118.7 497.4 1120.2 489.9 1121.5 482.4 1122.2 375.9 1122.3 359.4 1123.2 341.4 1126.4 332.4 1127.4 276.9 1127.5 242.4 1129.1 219.9 1127.4 210.9 1126.1 203.4 1124.3 197.4 1122.0 192.9 1119.3 188.9 1115.7 185.6 1111.2 181.5 1103.7 177.3 1093.2 174.6 1084.2 173.3 1075.2 173.3 1060.2 176.2 1022.7 177.0 1003.2 176.5 988.2 174.8 976.2 170.4 960.7 159.9 936.3 151.7 914.7 146.6 904.2 133.5 880.2 128.6 868.2 126.3 859.2 125.0 848.7 125.3 838.2 126.9 827.7 129.2 818.7 132.8 808.2 137.2 797.7 142.5 787.2 146.8 779.7 151.2 773.7 155.4 769.5 160.0 766.2 165.9 763.0 176.4 758.9 194.4 753.9 225.9 749.4ZM269.0 752.7 209.6 760.2 194.4 762.7 186.9 764.8 179.5 767.7 173.9 770.7 168.9 774.2 162.9 779.9 156.3 788.7 150.9 798.5 146.2 809.7 142.6 821.7 140.3 833.7 139.6 844.2 140.4 854.7 142.7 863.7 146.2 872.7 150.9 881.9 156.9 891.1 161.4 896.5 167.4 901.9 173.4 905.8 186.8 913.2 192.4 917.7 197.4 924.3 201.4 934.2 207.0 956.7 210.3 980.7 211.0 1004.7 208.6 1067.7 210.0 1078.2 211.7 1082.7 213.9 1086.2 218.4 1090.5 225.9 1094.2 267.9 1103.9 278.4 1104.8 299.4 1104.9 321.9 1104.6 330.9 1103.8 335.4 1102.7 339.9 1100.8 344.3 1097.7 347.4 1094.7 351.0 1090.2 355.4 1082.7 357.4 1078.2 359.1 1072.2 359.2 1063.2 355.8 1039.2 354.0 1021.2 353.1 992.7 353.7 961.2 355.3 925.2 356.7 913.2 359.5 902.7 363.9 894.6 366.9 891.8 369.9 890.2 375.9 888.7 395.4 887.4 405.9 885.9 414.9 883.3 422.4 879.2 428.7 872.7 433.5 863.7 436.0 854.7 436.4 850.2 436.1 845.7 434.3 839.7 431.5 835.2 426.9 830.3 420.9 826.2 414.9 823.5 408.9 821.6 377.4 814.7 371.4 812.2 366.9 809.2 362.4 804.1 359.4 798.7 347.9 769.2 343.5 763.2 338.4 759.4 330.9 756.6 318.9 754.8 285.9 752.5ZM412.1 1009.2 401.4 1011.7 393.9 1015.3 387.9 1020.6 383.4 1027.2 380.4 1033.3 376.3 1043.7 371.0 1061.7 370.4 1066.2 370.6 1070.7 373.0 1076.7 377.1 1081.2 381.9 1084.1 387.2 1085.7 393.9 1086.4 444.9 1086.2 455.3 1084.2 461.8 1081.2 465.9 1077.6 468.6 1072.2 469.3 1066.2 468.9 1058.7 467.2 1048.2 464.3 1037.7 460.0 1027.2 455.5 1019.7 449.4 1013.2 446.4 1011.2 441.9 1009.5 429.9 1008.5Z" fill="#ffebeb" stroke="#ffebeb" stroke-width="0.7" fill-rule="evenodd"/><path d="M269.4 752.7 285.9 752.5 318.9 754.8 330.9 756.6 338.4 759.4 343.5 763.2 347.9 769.2 359.4 798.7 362.4 804.1 366.9 809.2 371.4 812.2 377.4 814.7 408.9 821.6 414.9 823.5 420.9 826.2 426.9 830.3 431.5 835.2 434.3 839.7 436.1 845.7 436.4 850.2 436.0 854.7 433.5 863.7 428.7 872.7 422.4 879.2 414.9 883.3 405.9 885.9 395.4 887.4 375.9 888.7 369.9 890.2 366.9 891.8 363.9 894.6 359.5 902.7 356.7 913.2 355.3 925.2 353.7 961.2 353.1 992.7 354.0 1021.2 355.8 1039.2 359.2 1063.2 359.1 1072.2 357.4 1078.2 355.4 1082.7 351.0 1090.2 347.4 1094.7 344.3 1097.7 339.9 1100.8 335.4 1102.7 330.9 1103.8 321.9 1104.6 299.4 1104.9 278.4 1104.8 267.9 1103.9 225.9 1094.2 218.4 1090.5 213.9 1086.2 211.7 1082.7 210.0 1078.2 208.6 1067.7 211.0 1004.7 210.3 980.7 207.0 956.7 201.4 934.2 197.4 924.3 192.4 917.7 186.8 913.2 173.4 905.8 167.4 901.9 161.4 896.5 156.9 891.1 150.9 881.9 146.2 872.7 142.7 863.7 140.4 854.7 139.6 844.2 140.3 833.7 142.6 821.7 146.2 809.7 151.3 797.7 156.9 787.8 162.9 779.9 169.5 773.7 176.4 769.3 182.4 766.4 195.9 762.4 209.6 760.2ZM268.2 760.2 243.9 765.8 217.5 770.7 204.6 773.7 192.9 778.2 182.4 785.2 174.9 791.9 168.9 798.5 164.2 805.2 159.9 813.6 156.5 823.2 154.3 833.7 153.6 842.7 154.2 851.7 156.0 859.2 159.2 866.7 163.2 872.7 168.9 878.3 176.4 883.0 195.9 891.7 234.2 911.7 244.1 919.2 247.9 923.7 250.6 928.2 253.1 934.2 255.3 941.7 258.6 961.2 260.7 988.2 263.3 1060.2 264.9 1070.7 267.7 1076.7 270.6 1079.7 273.0 1081.2 276.9 1082.6 281.4 1083.3 305.4 1083.5 321.9 1082.2 327.9 1080.5 332.4 1077.1 335.0 1072.2 336.4 1064.7 337.5 1045.2 339.0 964.2 340.4 926.7 342.4 910.2 351.0 872.7 353.8 856.2 354.4 841.2 352.3 823.2 347.8 800.7 343.0 782.7 339.1 773.7 336.9 770.6 333.9 767.9 326.9 764.7 315.9 762.8 284.4 759.6 275.4 759.5ZM413.4 1009.0 431.4 1008.5 441.9 1009.5 446.4 1011.2 449.4 1013.2 452.4 1015.9 456.5 1021.2 460.7 1028.7 464.4 1037.9 467.4 1049.1 469.1 1060.2 469.3 1067.7 468.1 1073.7 465.4 1078.2 461.8 1081.2 455.3 1084.2 444.9 1086.2 393.9 1086.4 387.2 1085.7 381.9 1084.1 377.1 1081.2 373.0 1076.7 371.5 1073.7 370.4 1069.2 370.5 1064.7 371.3 1060.2 377.4 1040.6 381.9 1030.2 384.9 1024.7 389.4 1018.9 395.4 1014.4 404.4 1010.8Z" fill="#ffdada" stroke="#ffdada" stroke-width="0.7" fill-rule="evenodd"/><path d="M269.4 760.0 276.9 759.5 285.9 759.7 315.9 762.8 326.9 764.7 333.9 767.9 336.9 770.6 339.1 773.7 343.0 782.7 347.8 800.7 352.5 824.7 354.4 841.2 353.8 856.2 351.0 872.7 342.4 910.2 340.5 925.2 339.0 962.7 337.5 1045.2 336.4 1064.7 335.0 1072.2 332.4 1077.1 327.9 1080.5 321.9 1082.2 305.4 1083.5 281.4 1083.3 276.9 1082.6 273.0 1081.2 270.6 1079.7 267.7 1076.7 264.9 1070.7 263.3 1060.2 260.7 988.2 258.6 961.2 255.3 941.7 253.1 934.2 250.6 928.2 247.9 923.7 244.1 919.2 234.2 911.7 195.9 891.7 176.4 883.0 168.9 878.3 163.2 872.7 159.2 866.7 156.0 859.2 154.2 851.7 153.6 842.7 154.3 833.7 156.5 823.2 159.9 813.6 164.2 805.2 168.9 798.5 174.9 791.9 182.4 785.2 192.9 778.2 204.6 773.7ZM273.2 769.2 263.4 772.0 243.9 781.7 215.4 790.6 207.4 794.7 200.4 799.8 194.7 805.2 188.2 812.7 182.9 820.2 178.9 827.7 176.3 835.2 175.3 841.2 175.6 847.2 176.9 851.7 180.7 857.7 186.9 863.7 198.8 872.7 209.4 879.4 219.9 884.3 243.9 892.2 266.4 901.0 275.4 902.8 284.4 902.6 320.4 896.5 324.9 895.3 327.9 893.8 330.9 891.3 333.9 887.3 336.0 883.2 340.1 871.2 342.7 856.2 343.2 841.2 342.1 824.7 339.3 808.2 335.4 795.2 332.4 789.0 329.4 784.9 325.1 781.2 320.4 778.8 309.3 775.2 290.4 770.2 281.4 768.9Z" fill="#ffcaca" stroke="#ffcaca" stroke-width="0.7" fill-rule="evenodd"/><path d="M273.9 769.1 281.4 768.9 290.4 770.2 309.3 775.2 320.4 778.8 325.1 781.2 329.4 784.9 332.4 789.0 335.4 795.2 339.3 808.2 342.1 824.7 343.2 841.2 342.7 856.2 340.1 871.2 336.0 883.2 333.9 887.3 330.9 891.3 327.9 893.8 324.9 895.3 320.4 896.5 284.4 902.6 275.4 902.8 266.4 901.0 243.9 892.2 219.9 884.3 209.4 879.4 198.8 872.7 186.9 863.7 180.7 857.7 176.9 851.7 175.6 847.2 175.3 841.2 176.3 835.2 178.9 827.7 182.9 820.2 188.2 812.7 194.7 805.2 200.4 799.8 207.4 794.7 215.4 790.6 242.4 782.2 249.9 779.0 263.4 772.0 267.9 770.4ZM273.9 785.7 269.4 787.2 264.9 789.8 251.4 800.7 245.4 804.6 224.4 813.4 216.9 818.4 212.7 823.2 209.3 829.2 206.9 836.7 206.3 844.2 207.4 850.2 210.5 856.2 214.8 860.7 219.9 864.2 225.9 866.8 245.4 873.1 266.4 882.6 272.4 884.0 278.4 884.3 284.4 883.3 291.9 880.7 317.4 868.4 322.5 865.2 326.4 860.8 328.6 856.2 330.3 848.7 330.6 841.2 329.4 831.0 327.2 823.2 323.4 815.8 319.4 811.2 296.1 793.2 289.2 788.7 281.4 785.7 276.9 785.3Z" fill="#ffb9b9" stroke="#ffb9b9" stroke-width="0.7" fill-rule="evenodd"/><path d="M273.9 785.7 276.9 785.3 281.4 785.7 289.2 788.7 296.1 793.2 319.4 811.2 323.4 815.8 327.2 823.2 329.4 831.0 330.6 841.2 330.3 848.7 328.6 856.2 326.4 860.8 322.5 865.2 317.4 868.4 291.9 880.7 284.4 883.3 278.4 884.3 272.4 884.0 266.4 882.6 245.4 873.1 225.9 866.8 219.9 864.2 214.8 860.7 210.5 856.2 207.4 850.2 206.3 844.2 206.9 836.7 209.3 829.2 212.7 823.2 216.9 818.4 224.4 813.4 245.4 804.6 251.4 800.7 264.9 789.8 269.4 787.2ZM272.9 811.2 269.4 813.3 266.4 816.1 260.5 824.7 256.2 835.2 255.2 839.7 255.0 844.2 255.3 847.2 256.8 851.7 259.4 856.2 261.9 859.2 265.3 862.2 269.4 864.7 272.4 865.8 276.9 866.2 281.4 865.3 284.4 863.8 288.5 860.7 291.1 857.7 293.8 853.2 295.3 848.7 295.9 844.2 295.8 839.7 294.8 833.7 293.0 827.7 290.4 821.9 287.4 817.2 284.4 813.9 279.9 811.1 276.9 810.5Z" fill="#ffa9a9" stroke="#ffa9a9" stroke-width="0.7" fill-rule="evenodd"/><path d="M273.9 810.8 278.4 810.6 281.4 811.8 284.4 813.9 287.4 817.2 290.4 821.9 293.4 828.8 295.2 835.2 295.9 841.2 295.8 845.7 294.9 850.2 293.0 854.7 291.1 857.7 288.5 860.7 284.4 863.8 281.4 865.3 276.9 866.2 272.4 865.8 269.4 864.7 265.3 862.2 261.9 859.2 259.4 856.2 256.8 851.7 255.3 847.2 255.0 844.2 255.2 839.7 256.6 833.7 261.4 823.2 264.9 817.9 267.9 814.6 270.9 812.2Z" fill="#ff9898" stroke="#ff9898" stroke-width="0.7" fill-rule="evenodd"/></g><rect x="124.8" y="722.0" width="13.3" height="16.1" fill="#6cff6c"/><rect x="137.7" y="722.0" width="13.3" height="16.1" fill="#74ff74"/><rect x="150.5" y="722.0" width="13.3" height="16.1" fill="#7cff7c"/><rect x="163.4" y="722.0" width="13.3" height="16.1" fill="#85ff85"/><rect x="176.2" y="722.0" width="13.3" height="16.1" fill="#8dff8d"/><rect x="189.1" y="722.0" width="13.3" height="16.1" fill="#96ff96"/><rect x="202.0" y="722.0" width="13.3" height="16.1" fill="#9eff9e"/><rect x="214.8" y="722.0" width="13.3" height="16.1" fill="#a7ffa7"/><rect x="227.7" y="722.0" width="13.3" height="16.1" fill="#afffaf"/><rect x="240.5" y="722.0" width="13.3" height="16.1" fill="#b7ffb7"/><rect x="253.4" y="722.0" width="13.3" height="16.1" fill="#c0ffc0"/><rect x="266.3" y="722.0" width="13.3" height="16.1" fill="#c8ffc8"/><rect x="279.1" y="722.0" width="13.3" height="16.1" fill="#d1ffd1"/><rect x="292.0" y="722.0" width="13.3" height="16.1" fill="#d9ffd9"/><rect x="304.8" y="722.0" width="13.3" height="16.1" fill="#e1ffe1"/><rect x="317.7" y="722.0" width="13.3" height="16.1" fill="#eaffea"/><rect x="330.5" y="722.0" width="13.3" height="16.1" fill="#f2fff2"/><rect x="343.4" y="722.0" width="13.3" height="16.1" fill="#ffffff"/><rect x="356.3" y="722.0" width="13.3" height="16.1" fill="#ffebeb"/><rect x="369.1" y="722.0" width="13.3" height="16.1" fill="#ffdada"/><rect x="382.0" y="722.0" width="13.3" height="16.1" fill="#ffcaca"/><rect x="394.8" y="722.0" width="13.3" height="16.1" fill="#ffb9b9"/><rect x="407.7" y="722.0" width="13.3" height="16.1" fill="#ffa9a9"/><rect x="420.6" y="722.0" width="13.3" height="16.1" fill="#ff9898"/><rect x="433.4" y="722.0" width="13.3" height="16.1" fill="#ff8888"/><rect x="446.3" y="722.0" width="13.3" height="16.1" fill="#ff7777"/><rect x="459.1" y="722.0" width="13.3" height="16.1" fill="#ff6767"/><rect x="472.0" y="722.0" width="13.3" height="16.1" fill="#ff5656"/><rect x="484.9" y="722.0" width="13.3" height="16.1" fill="#ff4646"/><rect x="497.7" y="722.0" width="13.3" height="16.1" fill="#ff3535"/><rect x="510.6" y="722.0" width="13.3" height="16.1" fill="#ff2525"/><rect x="523.4" y="722.0" width="13.3" height="16.1" fill="#ff1414"/><text x="147.2" y="717.1" class="s m" font-size="17">-30</text><text x="212.7" y="717.1" class="s m" font-size="17">-20</text><text x="272.4" y="717.1" class="s m" font-size="17">-10</text><text x="348.4" y="717.1" class="s m" font-size="17">0</text><text x="405.9" y="717.1" class="s m" font-size="17">10</text><text x="468.6" y="717.1" class="s m" font-size="17">20</text><text x="524.8" y="717.1" class="s m" font-size="17">30</text><rect x="105.90" y="742.20" width="451.10" height="408.30" fill="none" stroke="#000" stroke-width="3.2"/><path d="M105.0 1150.5L105.0 1157.5" stroke="#444" stroke-width="1.2"/><path d="M136.6 1150.5L136.6 1157.5" stroke="#444" stroke-width="1.2"/><path d="M164.5 1150.5L164.5 1157.5" stroke="#444" stroke-width="1.2"/><path d="M192.4 1150.5L192.4 1157.5" stroke="#444" stroke-width="1.2"/><path d="M220.3 1150.5L220.3 1157.5" stroke="#444" stroke-width="1.2"/><path d="M248.2 1150.5L248.2 1157.5" stroke="#444" stroke-width="1.2"/><path d="M276.1 1150.5L276.1 1157.5" stroke="#444" stroke-width="1.2"/><path d="M304.0 1150.5L304.0 1157.5" stroke="#444" stroke-width="1.2"/><path d="M331.9 1150.5L331.9 1157.5" stroke="#444" stroke-width="1.2"/><path d="M359.8 1150.5L359.8 1157.5" stroke="#444" stroke-width="1.2"/><path d="M387.7 1150.5L387.7 1157.5" stroke="#444" stroke-width="1.2"/><path d="M415.6 1150.5L415.6 1157.5" stroke="#444" stroke-width="1.2"/><path d="M443.5 1150.5L443.5 1157.5" stroke="#444" stroke-width="1.2"/><path d="M471.4 1150.5L471.4 1157.5" stroke="#444" stroke-width="1.2"/><path d="M499.3 1150.5L499.3 1157.5" stroke="#444" stroke-width="1.2"/><path d="M527.2 1150.5L527.2 1157.5" stroke="#444" stroke-width="1.2"/><path d="M555.1 1150.5L555.1 1157.5" stroke="#444" stroke-width="1.2"/><text transform="translate(105.0,1158.7) rotate(-90) scale(1,1.33)" y="6.8" class="s e" font-size="19">0.85</text><text transform="translate(136.6,1158.7) rotate(-90) scale(1,1.33)" y="6.8" class="s e" font-size="19">2.54</text><text transform="translate(164.5,1158.7) rotate(-90) scale(1,1.33)" y="6.8" class="s e" font-size="19">4.12</text><text transform="translate(192.4,1158.7) rotate(-90) scale(1,1.33)" y="6.8" class="s e" font-size="19">7.62</text><text transform="translate(220.3,1158.7) rotate(-90) scale(1,1.33)" y="6.8" class="s e" font-size="19">12</text><text transform="translate(248.2,1158.7) rotate(-90) scale(1,1.33)" y="6.8" class="s e" font-size="19">23</text><text transform="translate(276.1,1158.7) rotate(-90) scale(1,1.33)" y="6.8" class="s e" font-size="19">37</text><text transform="translate(304.0,1158.7) rotate(-90) scale(1,1.33)" y="6.8" class="s e" font-size="19">69</text><text transform="translate(331.9,1158.7) rotate(-90) scale(1,1.33)" y="6.8" class="s e" font-size="19">111</text><text transform="translate(359.8,1158.7) rotate(-90) scale(1,1.33)" y="6.8" class="s e" font-size="19">206</text><text transform="translate(387.7,1158.7) rotate(-90) scale(1,1.33)" y="6.8" class="s e" font-size="19">333</text><text transform="translate(415.6,1158.7) rotate(-90) scale(1,1.33)" y="6.8" class="s e" font-size="19">492</text><text transform="translate(443.5,1158.7) rotate(-90) scale(1,1.33)" y="6.8" class="s e" font-size="19">617</text><text transform="translate(471.4,1158.7) rotate(-90) scale(1,1.33)" y="6.8" class="s e" font-size="19">1000</text><text transform="translate(499.3,1158.7) rotate(-90) scale(1,1.33)" y="6.8" class="s e" font-size="19">1852</text><text transform="translate(527.2,1158.7) rotate(-90) scale(1,1.33)" y="6.8" class="s e" font-size="19">3000</text><text transform="translate(555.1,1158.7) rotate(-90) scale(1,1.33)" y="6.8" class="s e" font-size="19">5560</text><path d="M98.9 770.5L105.9 770.5" stroke="#444" stroke-width="1.2"/><text transform="translate(82.6,761.4) rotate(-90)" y="7.9" class="s m" font-size="22">4.12</text><path d="M98.9 845.8L105.9 845.8" stroke="#444" stroke-width="1.2"/><text transform="translate(82.6,838.0) rotate(-90)" y="7.9" class="s m" font-size="22">1.37</text><path d="M98.9 921.5L105.9 921.5" stroke="#444" stroke-width="1.2"/><text transform="translate(82.6,911.0) rotate(-90)" y="7.9" class="s m" font-size="22">0.46</text><path d="M98.9 997.2L105.9 997.2" stroke="#444" stroke-width="1.2"/><text transform="translate(82.6,986.0) rotate(-90)" y="7.9" class="s m" font-size="22">0.15</text><path d="M98.9 1072.5L105.9 1072.5" stroke="#444" stroke-width="1.2"/><text transform="translate(82.6,1061.0) rotate(-90)" y="7.9" class="s m" font-size="22">0.10</text><path d="M98.9 1148.0L105.9 1148.0" stroke="#444" stroke-width="1.2"/><text transform="translate(82.6,1148.5) rotate(-90)" y="7.9" class="s m" font-size="22">0</text><text x="596.5" y="816.0" class="s m" font-size="33">12.4</text><path d="M600.0 827.0L304.0 828.9" stroke="#000" stroke-width="3.2"/><polygon points="282.50,829.00 305.93,817.10 306.07,840.60" fill="#000"/><text transform="translate(596.0,934.0) rotate(-90)" y="12.2" class="s m" font-size="34">Maximum</text><text transform="translate(635.5,934.0) rotate(-90)" y="12.2" class="s m" font-size="34">Synergy (ZIP)</text><text transform="translate(27.5,950.0) rotate(-90)" y="12.1" class="s m" font-size="33.8">Doxorubicin, nM</text><text x="329.3" y="1235.6" class="s m" font-size="33.8">Palbociclib Isethionate, nM</text><defs><clipPath id="clip9935"><rect x="918.5" y="750.8" width="450.29999999999995" height="406.20000000000005"/></clipPath></defs><g clip-path="url(#clip9935)"><path d="M1209.5 909.6 1220.0 909.2 1229.0 909.7 1234.3 911.3 1235.5 912.8 1235.0 914.3 1233.5 915.3 1229.0 916.7 1221.5 917.4 1211.0 917.2 1206.5 916.1 1204.4 914.3 1204.1 912.8 1204.9 911.3Z" fill="#d9ffd9" stroke="#d9ffd9" stroke-width="0.7" fill-rule="evenodd"/><path d="M1338.5 750.8 1370.0 750.8 1370.0 891.4 1365.4 890.3 1359.5 888.1 1350.5 882.7 1347.4 879.8 1344.5 875.9 1341.3 867.8 1339.1 852.8 1338.0 833.3 1337.7 750.8ZM1211.0 890.3 1236.5 890.3 1260.5 892.6 1275.9 896.3 1283.1 899.3 1287.5 902.1 1290.6 905.3 1292.4 908.3 1293.6 912.8 1293.9 917.3 1293.4 926.3 1292.0 936.8 1290.4 942.8 1288.1 947.3 1284.5 950.9 1280.2 953.3 1274.0 955.3 1266.5 956.6 1256.0 957.1 1200.5 956.9 1173.5 959.5 1166.0 959.3 1157.0 957.6 1149.6 954.8 1145.0 951.4 1143.1 948.8 1141.5 944.3 1141.2 939.8 1141.8 933.8 1143.5 924.8 1145.6 917.3 1147.7 912.8 1151.0 908.8 1157.0 905.1 1187.2 893.3 1197.5 891.1ZM1208.3 909.8 1204.9 911.3 1204.1 912.8 1204.4 914.3 1206.5 916.1 1211.0 917.2 1221.5 917.4 1229.0 916.7 1233.5 915.3 1235.0 914.3 1235.5 912.8 1233.5 910.9 1227.5 909.5 1217.0 909.2Z" fill="#e1ffe1" stroke="#e1ffe1" stroke-width="0.7" fill-rule="evenodd"/><path d="M1310.0 750.8 1337.7 750.8 1338.0 834.8 1338.8 849.8 1340.7 864.8 1343.4 873.8 1346.0 878.2 1348.9 881.3 1352.7 884.3 1358.0 887.3 1364.0 889.8 1370.0 891.4 1370.0 927.7 1352.0 926.0 1346.0 926.8 1341.5 928.6 1337.0 931.9 1334.0 935.2 1330.1 941.3 1320.1 959.3 1316.5 963.8 1311.5 968.3 1304.0 973.0 1295.0 976.8 1284.5 979.4 1272.5 981.0 1256.0 981.8 1170.5 982.3 1154.0 982.0 1143.5 981.3 1134.5 979.6 1116.5 974.4 1080.5 965.6 1070.0 961.3 1067.0 959.3 1064.0 956.4 1061.4 951.8 1060.3 947.3 1060.2 942.8 1061.0 936.8 1062.9 930.8 1065.5 925.5 1069.1 920.3 1074.5 914.4 1082.2 908.3 1090.7 903.8 1115.0 895.9 1134.5 887.9 1142.0 885.9 1149.5 884.6 1196.0 879.6 1224.5 878.6 1239.5 878.7 1259.0 879.7 1293.5 882.3 1301.3 881.3 1304.9 879.8 1306.9 878.3 1309.3 875.3 1311.0 870.8 1312.2 858.8 1312.2 786.8ZM1210.3 890.3 1197.5 891.1 1187.2 893.3 1157.0 905.1 1151.0 908.8 1147.7 912.8 1145.6 917.3 1143.5 924.8 1141.8 933.8 1141.2 939.8 1141.5 944.3 1143.1 948.8 1145.0 951.4 1149.6 954.8 1157.0 957.6 1166.0 959.3 1173.5 959.5 1200.5 956.9 1256.0 957.1 1266.5 956.6 1274.0 955.3 1280.2 953.3 1284.5 950.9 1288.1 947.3 1290.4 942.8 1292.0 936.8 1293.4 926.3 1293.9 917.3 1293.6 912.8 1292.4 908.3 1290.6 905.3 1287.5 902.1 1283.1 899.3 1275.9 896.3 1268.0 894.1 1259.0 892.4 1236.5 890.3Z" fill="#eaffea" stroke="#eaffea" stroke-width="0.7" fill-rule="evenodd"/><path d="M920.0 750.8 933.0 750.8 930.2 753.8 926.0 757.1 923.0 758.7 918.5 760.3 918.5 750.8ZM1265.0 750.8 1309.9 750.8 1312.2 786.8 1312.2 858.8 1311.0 870.8 1309.3 875.3 1307.0 878.2 1304.9 879.8 1301.3 881.3 1293.5 882.3 1259.0 879.7 1239.5 878.7 1224.5 878.6 1197.5 879.5 1151.0 884.4 1136.0 887.4 1115.0 895.9 1090.7 903.8 1082.2 908.3 1076.0 913.1 1071.5 917.5 1067.0 923.1 1062.3 932.3 1060.7 938.3 1060.2 944.3 1060.6 948.8 1062.1 953.3 1065.3 957.8 1068.5 960.4 1073.0 962.8 1079.0 965.1 1090.2 968.3 1116.5 974.4 1134.5 979.6 1143.5 981.3 1154.0 982.0 1170.5 982.3 1256.0 981.8 1272.5 981.0 1284.5 979.4 1293.5 977.3 1301.4 974.3 1309.5 969.8 1315.0 965.3 1320.1 959.3 1331.0 939.7 1337.0 931.9 1340.3 929.3 1344.5 927.3 1349.0 926.3 1355.0 926.0 1370.0 927.7 1370.0 964.7 1365.5 966.5 1361.0 969.5 1346.0 985.9 1343.0 988.3 1338.5 990.8 1331.0 993.1 1313.0 995.9 1293.5 999.9 1278.5 1001.7 1257.5 1002.5 1208.0 1002.5 1175.0 1001.8 1145.0 1003.0 1122.5 1001.6 1115.0 1001.8 1109.1 1002.8 1104.5 1004.3 1091.0 1010.8 1085.0 1012.9 1067.0 1016.1 1060.7 1017.8 1041.5 1025.8 1033.3 1028.3 1008.5 1031.9 986.0 1036.2 978.5 1036.8 962.0 1036.9 954.5 1038.5 950.0 1041.5 946.3 1046.3 942.7 1053.8 939.5 1063.3 934.8 1080.8 931.5 1095.8 922.0 1157.3 918.5 1157.3 918.5 870.1 950.0 870.3 978.5 873.4 1005.5 874.0 1037.0 871.3 1089.5 870.3 1116.5 868.4 1146.5 867.9 1172.0 866.5 1208.0 865.7 1248.5 863.3 1259.0 861.9 1265.3 860.3 1271.0 857.8 1275.6 854.3 1279.1 849.8 1282.4 842.3 1284.5 833.4 1285.9 822.8 1287.1 807.8 1287.5 794.3 1287.1 785.3 1286.1 777.8 1284.7 771.8 1282.3 765.8 1279.5 761.3 1275.5 757.1 1271.0 754.0 1264.3 750.8Z" fill="#f2fff2" stroke="#f2fff2" stroke-width="0.7" fill-rule="evenodd"/><path d="M1095.5 758.3 1154.0 758.1 1190.0 759.3 1211.0 761.7 1253.0 770.5 1257.5 772.4 1262.0 775.9 1265.0 780.2 1266.9 785.3 1267.8 791.3 1267.6 798.8 1266.5 806.3 1264.5 813.8 1262.0 820.4 1259.0 826.1 1256.0 830.5 1252.1 834.8 1247.0 838.8 1242.5 841.4 1236.5 843.7 1230.5 845.2 1220.0 846.7 1197.5 848.5 1152.5 851.0 1091.0 850.1 1071.5 848.7 1055.0 846.7 1014.5 839.9 1002.5 836.7 971.0 822.0 961.8 816.8 956.3 812.3 953.0 808.5 950.0 803.5 948.3 798.8 947.6 794.3 947.9 789.8 949.2 785.3 951.8 780.8 956.0 776.4 960.4 773.3 965.0 771.0 971.0 768.9 983.0 766.9 1028.0 764.2 1064.0 759.8ZM1090.2 773.3 1070.9 776.3 1064.0 778.3 1058.3 780.8 1053.8 783.8 1050.9 786.8 1049.3 789.8 1048.4 794.3 1049.0 798.8 1051.7 804.8 1056.3 810.8 1061.0 814.9 1067.0 818.6 1074.5 821.9 1082.0 824.4 1091.0 826.5 1112.0 829.3 1140.5 829.8 1158.5 828.8 1177.0 825.8 1196.0 820.5 1202.0 818.1 1207.1 815.3 1211.0 812.1 1214.6 807.8 1216.9 803.3 1218.3 798.8 1218.7 794.3 1218.2 791.3 1216.2 786.8 1213.7 783.8 1206.5 779.1 1196.0 775.9 1176.5 773.4 1151.0 772.1 1113.5 772.1ZM1304.0 1020.6 1311.5 1019.8 1316.0 1020.1 1320.5 1021.3 1325.0 1024.0 1329.6 1029.8 1338.5 1050.1 1341.5 1054.7 1343.0 1056.1 1346.0 1056.7 1359.8 1050.8 1370.0 1048.9 1370.0 1078.9 1361.0 1076.1 1346.0 1068.0 1343.0 1068.2 1341.5 1069.2 1338.5 1072.9 1334.0 1081.4 1326.1 1104.8 1323.5 1111.2 1319.0 1118.0 1314.5 1121.6 1308.5 1123.8 1301.0 1124.4 1221.5 1124.2 1191.5 1125.0 1176.5 1126.4 1155.5 1131.4 1145.0 1132.3 1136.0 1131.4 1127.0 1128.5 1120.7 1124.3 1116.4 1118.3 1113.2 1109.3 1111.1 1097.3 1108.9 1073.3 1109.1 1059.8 1111.4 1047.8 1115.0 1038.2 1119.7 1031.3 1125.5 1027.1 1134.5 1024.4 1146.5 1023.3 1278.5 1023.0 1290.5 1022.5ZM1144.1 1046.3 1139.0 1048.7 1136.8 1050.8 1134.5 1054.4 1132.4 1061.3 1131.9 1070.3 1133.7 1083.8 1137.1 1094.3 1139.0 1097.7 1141.4 1100.3 1143.5 1101.5 1146.5 1102.0 1149.5 1101.1 1152.5 1098.7 1157.2 1091.3 1159.6 1085.3 1161.8 1077.8 1162.9 1071.8 1163.2 1065.8 1162.7 1061.3 1161.3 1056.8 1157.4 1050.8 1154.0 1048.1 1151.0 1046.7 1148.0 1046.1ZM1225.7 1049.3 1208.0 1051.1 1202.0 1052.8 1197.7 1055.3 1194.1 1059.8 1192.9 1064.3 1193.5 1068.8 1196.0 1073.2 1199.0 1075.8 1203.0 1077.8 1214.0 1080.1 1230.5 1081.1 1262.0 1080.9 1275.5 1079.7 1283.0 1077.8 1286.1 1076.3 1289.0 1073.8 1291.9 1068.8 1292.4 1062.8 1290.7 1058.3 1287.5 1054.8 1281.5 1051.9 1274.0 1050.4 1262.0 1049.4Z" fill="#ffebeb" stroke="#ffebeb" stroke-width="0.7" fill-rule="evenodd"/><path d="M1091.0 773.2 1115.0 772.0 1152.5 772.1 1178.0 773.6 1196.0 775.9 1206.5 779.1 1213.7 783.8 1216.2 786.8 1218.2 791.3 1218.7 794.3 1218.3 798.8 1216.9 803.3 1214.6 807.8 1211.0 812.1 1207.1 815.3 1202.0 818.1 1196.0 820.5 1177.0 825.8 1158.5 828.8 1140.5 829.8 1112.0 829.3 1091.0 826.5 1082.0 824.4 1074.5 821.9 1067.0 818.6 1061.0 814.9 1056.3 810.8 1051.7 804.8 1049.0 798.8 1048.4 794.3 1049.3 789.8 1050.9 786.8 1053.8 783.8 1059.5 780.2 1065.5 777.8 1071.5 776.2ZM1145.0 1046.1 1151.0 1046.7 1154.0 1048.1 1157.4 1050.8 1161.3 1056.8 1162.7 1061.3 1163.2 1065.8 1162.9 1071.8 1161.8 1077.8 1159.6 1085.3 1157.2 1091.3 1152.5 1098.7 1149.5 1101.1 1146.5 1102.0 1143.5 1101.5 1140.5 1099.5 1138.7 1097.3 1136.4 1092.8 1133.1 1080.8 1131.9 1068.8 1132.7 1059.8 1134.8 1053.8 1139.0 1048.7 1142.0 1046.9ZM1226.0 1049.3 1262.0 1049.4 1274.0 1050.4 1281.5 1051.9 1287.5 1054.8 1290.7 1058.3 1292.4 1062.8 1291.9 1068.8 1289.0 1073.8 1286.1 1076.3 1283.0 1077.8 1275.5 1079.7 1262.0 1080.9 1230.5 1081.1 1214.0 1080.1 1203.0 1077.8 1199.0 1075.8 1196.0 1073.2 1193.5 1068.8 1192.9 1064.3 1194.1 1059.8 1197.7 1055.3 1202.0 1052.8 1208.0 1051.1Z" fill="#ffdada" stroke="#ffdada" stroke-width="0.7" fill-rule="evenodd"/></g><rect x="938.2" y="732.3" width="13.2" height="16.2" fill="#6cff6c"/><rect x="951.0" y="732.3" width="13.2" height="16.2" fill="#74ff74"/><rect x="963.8" y="732.3" width="13.2" height="16.2" fill="#7cff7c"/><rect x="976.6" y="732.3" width="13.2" height="16.2" fill="#85ff85"/><rect x="989.4" y="732.3" width="13.2" height="16.2" fill="#8dff8d"/><rect x="1002.2" y="732.3" width="13.2" height="16.2" fill="#96ff96"/><rect x="1015.0" y="732.3" width="13.2" height="16.2" fill="#9eff9e"/><rect x="1027.8" y="732.3" width="13.2" height="16.2" fill="#a7ffa7"/><rect x="1040.7" y="732.3" width="13.2" height="16.2" fill="#afffaf"/><rect x="1053.5" y="732.3" width="13.2" height="16.2" fill="#b7ffb7"/><rect x="1066.3" y="732.3" width="13.2" height="16.2" fill="#c0ffc0"/><rect x="1079.1" y="732.3" width="13.2" height="16.2" fill="#c8ffc8"/><rect x="1091.9" y="732.3" width="13.2" height="16.2" fill="#d1ffd1"/><rect x="1104.7" y="732.3" width="13.2" height="16.2" fill="#d9ffd9"/><rect x="1117.5" y="732.3" width="13.2" height="16.2" fill="#e1ffe1"/><rect x="1130.3" y="732.3" width="13.2" height="16.2" fill="#eaffea"/><rect x="1143.1" y="732.3" width="13.2" height="16.2" fill="#f2fff2"/><rect x="1155.9" y="732.3" width="13.2" height="16.2" fill="#ffffff"/><rect x="1168.7" y="732.3" width="13.2" height="16.2" fill="#ffebeb"/><rect x="1181.5" y="732.3" width="13.2" height="16.2" fill="#ffdada"/><rect x="1194.3" y="732.3" width="13.2" height="16.2" fill="#ffcaca"/><rect x="1207.1" y="732.3" width="13.2" height="16.2" fill="#ffb9b9"/><rect x="1219.9" y="732.3" width="13.2" height="16.2" fill="#ffa9a9"/><rect x="1232.7" y="732.3" width="13.2" height="16.2" fill="#ff9898"/><rect x="1245.5" y="732.3" width="13.2" height="16.2" fill="#ff8888"/><rect x="1258.4" y="732.3" width="13.2" height="16.2" fill="#ff7777"/><rect x="1271.2" y="732.3" width="13.2" height="16.2" fill="#ff6767"/><rect x="1284.0" y="732.3" width="13.2" height="16.2" fill="#ff5656"/><rect x="1296.8" y="732.3" width="13.2" height="16.2" fill="#ff4646"/><rect x="1309.6" y="732.3" width="13.2" height="16.2" fill="#ff3535"/><rect x="1322.4" y="732.3" width="13.2" height="16.2" fill="#ff2525"/><rect x="1335.2" y="732.3" width="13.2" height="16.2" fill="#ff1414"/><text x="959.6" y="728.7" class="s m" font-size="17">-30</text><text x="1025.3" y="728.7" class="s m" font-size="17">-20</text><text x="1084.7" y="728.7" class="s m" font-size="17">-10</text><text x="1160.2" y="728.7" class="s m" font-size="17">0</text><text x="1217.6" y="728.7" class="s m" font-size="17">10</text><text x="1280.0" y="728.7" class="s m" font-size="17">20</text><text x="1336.0" y="728.7" class="s m" font-size="17">30</text><rect x="918.50" y="750.80" width="450.30" height="406.20" fill="none" stroke="#000" stroke-width="3.2"/><path d="M923.8 1157.0L923.8 1164.0" stroke="#444" stroke-width="1.2"/><path d="M951.6 1157.0L951.6 1164.0" stroke="#444" stroke-width="1.2"/><path d="M979.3 1157.0L979.3 1164.0" stroke="#444" stroke-width="1.2"/><path d="M1007.1 1157.0L1007.1 1164.0" stroke="#444" stroke-width="1.2"/><path d="M1034.9 1157.0L1034.9 1164.0" stroke="#444" stroke-width="1.2"/><path d="M1062.6 1157.0L1062.6 1164.0" stroke="#444" stroke-width="1.2"/><path d="M1090.4 1157.0L1090.4 1164.0" stroke="#444" stroke-width="1.2"/><path d="M1118.2 1157.0L1118.2 1164.0" stroke="#444" stroke-width="1.2"/><path d="M1146.0 1157.0L1146.0 1164.0" stroke="#444" stroke-width="1.2"/><path d="M1173.7 1157.0L1173.7 1164.0" stroke="#444" stroke-width="1.2"/><path d="M1201.5 1157.0L1201.5 1164.0" stroke="#444" stroke-width="1.2"/><path d="M1229.3 1157.0L1229.3 1164.0" stroke="#444" stroke-width="1.2"/><path d="M1257.0 1157.0L1257.0 1164.0" stroke="#444" stroke-width="1.2"/><path d="M1284.8 1157.0L1284.8 1164.0" stroke="#444" stroke-width="1.2"/><path d="M1312.6 1157.0L1312.6 1164.0" stroke="#444" stroke-width="1.2"/><path d="M1340.3 1157.0L1340.3 1164.0" stroke="#444" stroke-width="1.2"/><path d="M1368.1 1157.0L1368.1 1164.0" stroke="#444" stroke-width="1.2"/><text transform="translate(923.8,1165.4) rotate(-90) scale(1,1.4)" y="6.6" class="s e" font-size="18.5">0.85</text><text transform="translate(951.6,1165.4) rotate(-90) scale(1,1.4)" y="6.6" class="s e" font-size="18.5">2.54</text><text transform="translate(979.3,1165.4) rotate(-90) scale(1,1.4)" y="6.6" class="s e" font-size="18.5">4.12</text><text transform="translate(1007.1,1165.4) rotate(-90) scale(1,1.4)" y="6.6" class="s e" font-size="18.5">7.62</text><text transform="translate(1034.9,1165.4) rotate(-90) scale(1,1.4)" y="6.6" class="s e" font-size="18.5">12</text><text transform="translate(1062.6,1165.4) rotate(-90) scale(1,1.4)" y="6.6" class="s e" font-size="18.5">23</text><text transform="translate(1090.4,1165.4) rotate(-90) scale(1,1.4)" y="6.6" class="s e" font-size="18.5">37</text><text transform="translate(1118.2,1165.4) rotate(-90) scale(1,1.4)" y="6.6" class="s e" font-size="18.5">69</text><text transform="translate(1146.0,1165.4) rotate(-90) scale(1,1.4)" y="6.6" class="s e" font-size="18.5">111</text><text transform="translate(1173.7,1165.4) rotate(-90) scale(1,1.4)" y="6.6" class="s e" font-size="18.5">206</text><text transform="translate(1201.5,1165.4) rotate(-90) scale(1,1.4)" y="6.6" class="s e" font-size="18.5">333</text><text transform="translate(1229.3,1165.4) rotate(-90) scale(1,1.4)" y="6.6" class="s e" font-size="18.5">492</text><text transform="translate(1257.0,1165.4) rotate(-90) scale(1,1.4)" y="6.6" class="s e" font-size="18.5">617</text><text transform="translate(1284.8,1165.4) rotate(-90) scale(1,1.4)" y="6.6" class="s e" font-size="18.5">1000</text><text transform="translate(1312.6,1165.4) rotate(-90) scale(1,1.4)" y="6.6" class="s e" font-size="18.5">1852</text><text transform="translate(1340.3,1165.4) rotate(-90) scale(1,1.4)" y="6.6" class="s e" font-size="18.5">3000</text><text transform="translate(1368.1,1165.4) rotate(-90) scale(1,1.4)" y="6.6" class="s e" font-size="18.5">5560</text><path d="M911.5 752.4L918.5 752.4" stroke="#444" stroke-width="1.2"/><text transform="translate(896.3,756.7) rotate(-90)" y="7.7" class="s m" font-size="21.5">4.12</text><path d="M911.5 830.9L918.5 830.9" stroke="#444" stroke-width="1.2"/><text transform="translate(896.3,831.0) rotate(-90)" y="7.7" class="s m" font-size="21.5">1.37</text><path d="M911.5 908.7L918.5 908.7" stroke="#444" stroke-width="1.2"/><text transform="translate(896.3,908.6) rotate(-90)" y="7.7" class="s m" font-size="21.5">0.46</text><path d="M911.5 986.5L918.5 986.5" stroke="#444" stroke-width="1.2"/><text transform="translate(896.3,985.5) rotate(-90)" y="7.7" class="s m" font-size="21.5">0.15</text><path d="M911.5 1064.2L918.5 1064.2" stroke="#444" stroke-width="1.2"/><text transform="translate(896.3,1063.3) rotate(-90)" y="7.7" class="s m" font-size="21.5">0.10</text><path d="M911.5 1142.0L918.5 1142.0" stroke="#444" stroke-width="1.2"/><text transform="translate(896.3,1142.5) rotate(-90)" y="7.7" class="s m" font-size="21.5">0</text><text x="1415.0" y="1058.8" class="s m" font-size="33">5.1</text><path d="M1469.8 1070.5L1174.0 1073.2" stroke="#000" stroke-width="3.2"/><polygon points="1151.00,1073.40 1175.89,1061.67 1176.10,1084.67" fill="#000"/><text transform="translate(1408.5,909.0) rotate(-90)" y="12.2" class="s m" font-size="34">Maximum</text><text transform="translate(1450.0,909.0) rotate(-90)" y="12.2" class="s m" font-size="34">Synergy (ZIP)</text><text transform="translate(835.5,946.5) rotate(-90)" y="12.1" class="s m" font-size="33.8">Doxorubicin, nM</text><text x="1118.6" y="1236.1" class="s m" font-size="33.8">Palbociclib Isethionate, nM</text><defs><clipPath id="clip3143"><rect x="115.6" y="1987.5" width="452.0" height="394.6999999999998"/></clipPath></defs><g clip-path="url(#clip3143)"><path d="M202.6 1987.5 236.1 1987.5 232.6 1990.6 226.6 1993.7 217.6 1996.6 211.6 1997.3 208.6 1996.8 205.6 1994.8 202.9 1990.5 202.1 1987.5Z" fill="#1ffc1f" stroke="#1ffc1f" stroke-width="0.7" fill-rule="evenodd"/><path d="M193.6 1987.5 202.1 1987.5 203.6 1992.0 205.6 1994.8 208.6 1996.8 211.6 1997.3 217.6 1996.6 226.6 1993.7 232.6 1990.6 236.1 1987.5 301.9 1987.5 297.1 1991.1 291.1 1992.7 280.6 1993.4 259.6 1993.9 252.1 1995.0 246.1 1997.3 232.6 2004.2 220.6 2009.5 213.1 2012.0 208.6 2012.4 205.6 2011.9 202.6 2010.4 198.1 2005.4 195.1 1997.9Z" fill="#29fc29" stroke="#29fc29" stroke-width="0.7" fill-rule="evenodd"/><path d="M189.1 1987.5 193.6 1987.5 195.6 1999.5 197.4 2004.0 199.6 2007.6 204.1 2011.3 208.6 2012.4 213.1 2012.0 219.1 2010.1 232.6 2004.2 246.1 1997.3 253.6 1994.6 261.1 1993.8 289.6 1992.8 297.1 1991.1 301.9 1987.5 312.6 1987.5 310.6 1992.6 306.7 1998.0 303.1 2001.2 297.3 2004.0 288.1 2005.5 258.1 2006.3 250.6 2007.3 243.1 2009.7 217.6 2021.0 213.1 2022.4 208.6 2023.1 204.1 2022.7 199.6 2020.7 196.6 2018.1 194.2 2014.5 192.1 2009.5 190.6 2003.7 189.4 1995.0Z" fill="#33fd33" stroke="#33fd33" stroke-width="0.7" fill-rule="evenodd"/><path d="M186.1 1987.5 189.0 1987.5 190.7 2004.0 192.3 2010.0 195.1 2016.1 198.1 2019.6 201.1 2021.6 204.1 2022.7 208.6 2023.1 213.1 2022.4 217.6 2021.0 243.1 2009.7 250.6 2007.3 258.1 2006.3 288.1 2005.5 297.1 2004.1 301.6 2002.1 306.7 1998.0 310.6 1992.6 312.6 1987.5 317.6 1987.5 315.2 1996.5 312.1 2002.8 306.1 2009.9 300.1 2013.7 295.6 2015.0 289.6 2015.7 259.6 2016.1 250.6 2016.9 241.6 2019.4 216.1 2029.5 207.1 2031.0 201.1 2030.1 196.6 2028.1 193.6 2025.6 190.6 2021.1 188.8 2016.0 187.1 2007.0 186.1 1996.5Z" fill="#3dfd3d" stroke="#3dfd3d" stroke-width="0.7" fill-rule="evenodd"/><path d="M184.6 1987.5 185.8 1987.5 186.2 1998.0 187.3 2008.5 188.8 2016.0 190.6 2021.1 193.6 2025.6 196.6 2028.1 201.1 2030.1 207.1 2031.0 216.1 2029.5 241.6 2019.4 250.6 2016.9 259.6 2016.1 289.6 2015.7 295.6 2015.0 300.1 2013.7 304.6 2011.1 309.1 2006.9 312.1 2002.8 315.1 1996.9 317.6 1987.5 321.0 1987.5 318.7 1999.5 314.5 2010.0 309.1 2017.5 306.1 2020.2 301.6 2022.7 297.1 2024.1 292.6 2024.6 261.1 2024.3 249.1 2025.2 240.1 2027.5 216.1 2036.1 207.1 2037.6 201.1 2037.0 195.1 2034.8 190.6 2031.1 187.6 2026.2 185.5 2019.0 184.0 2007.0 183.3 1987.5Z" fill="#47fd47" stroke="#47fd47" stroke-width="0.7" fill-rule="evenodd"/><path d="M181.6 1987.5 183.3 1987.5 183.6 2001.0 184.6 2013.3 186.1 2021.7 188.5 2028.0 192.0 2032.5 195.1 2034.8 201.1 2037.0 207.1 2037.6 216.1 2036.1 240.1 2027.5 249.1 2025.2 261.1 2024.3 292.6 2024.6 297.1 2024.1 301.6 2022.7 307.6 2018.9 310.6 2015.9 313.6 2011.6 318.1 2001.5 319.8 1995.0 321.0 1987.5 323.6 1987.5 321.1 2004.0 317.2 2016.0 315.1 2020.2 312.1 2024.3 309.1 2027.3 304.6 2030.2 300.1 2031.8 294.1 2032.6 270.1 2031.2 256.6 2031.3 249.1 2032.0 238.6 2034.5 216.1 2042.5 210.1 2043.7 205.6 2044.0 198.1 2042.8 192.3 2040.0 187.8 2035.5 185.4 2031.0 183.2 2023.5 182.1 2014.5 181.3 1998.0Z" fill="#52fd52" stroke="#52fd52" stroke-width="0.7" fill-rule="evenodd"/><path d="M180.1 1987.5 181.3 1987.5 181.6 2007.0 182.7 2020.5 184.3 2028.0 186.1 2032.5 189.1 2037.1 193.6 2040.8 199.6 2043.2 205.6 2044.0 210.1 2043.7 216.1 2042.5 238.6 2034.5 249.1 2032.0 256.6 2031.3 270.1 2031.2 294.1 2032.6 300.1 2031.8 304.6 2030.2 308.2 2028.0 311.5 2025.0 316.6 2017.4 319.0 2011.5 321.1 2004.2 322.6 1996.5 323.6 1987.5 325.8 1987.5 323.7 2007.0 322.1 2014.5 319.8 2022.0 315.1 2030.7 312.1 2034.0 307.6 2037.3 303.1 2039.3 297.1 2040.3 273.1 2037.6 259.6 2037.5 250.6 2038.1 240.1 2040.4 214.6 2049.7 205.6 2050.9 198.1 2049.7 192.1 2046.9 187.6 2042.8 183.5 2035.5 181.4 2028.0 180.0 2017.5 179.4 1995.0 179.5 1987.5Z" fill="#5cfd5c" stroke="#5cfd5c" stroke-width="0.7" fill-rule="evenodd"/><path d="M178.6 1987.5 179.5 1987.5 179.6 2007.0 180.3 2020.5 181.4 2028.0 183.1 2034.4 186.1 2040.7 189.1 2044.5 193.6 2047.8 199.6 2050.1 205.6 2050.9 213.1 2050.0 240.1 2040.4 250.6 2038.1 259.6 2037.5 273.1 2037.6 295.6 2040.3 301.6 2039.7 306.1 2038.1 310.6 2035.3 313.6 2032.5 316.6 2028.5 319.2 2023.5 321.3 2017.5 323.4 2008.5 325.0 1998.0 325.8 1987.5 327.8 1987.5 326.6 2005.5 324.1 2021.7 321.1 2031.4 316.6 2039.2 310.6 2044.8 303.1 2048.3 298.6 2049.0 294.1 2048.7 280.6 2045.3 273.1 2044.2 261.1 2043.9 252.1 2044.4 246.1 2045.4 240.1 2047.2 219.1 2056.1 213.1 2058.1 207.1 2059.1 201.1 2058.5 195.1 2056.5 189.1 2052.3 184.6 2046.1 181.6 2039.1 179.2 2029.5 178.1 2019.0 177.8 1987.5Z" fill="#66fd66" stroke="#66fd66" stroke-width="0.7" fill-rule="evenodd"/><path d="M177.1 1987.5 177.8 1987.5 177.8 2008.5 178.3 2022.0 179.2 2029.5 181.0 2037.0 183.8 2044.5 187.6 2050.6 192.1 2054.8 198.1 2057.7 205.6 2059.1 213.1 2058.1 219.1 2056.1 240.1 2047.2 246.1 2045.4 252.1 2044.4 262.6 2043.9 274.6 2044.4 282.1 2045.6 292.6 2048.4 297.1 2049.0 301.6 2048.6 307.6 2046.5 312.1 2043.7 316.6 2039.2 319.6 2034.6 321.8 2029.5 324.1 2021.7 325.7 2013.0 327.1 2000.8 327.8 1987.5 329.8 1987.5 328.1 2017.5 326.5 2028.0 324.1 2037.4 320.1 2046.0 315.1 2052.2 309.1 2056.9 301.6 2060.1 298.6 2060.5 294.1 2059.8 282.1 2054.4 274.6 2052.2 265.6 2051.5 255.1 2051.8 247.6 2053.0 241.6 2055.0 222.1 2064.7 214.6 2067.9 207.1 2069.2 199.6 2068.0 192.1 2064.2 187.6 2059.8 183.1 2051.9 179.9 2043.0 177.6 2032.5 176.3 2020.5 176.3 1987.5Z" fill="#70fd70" stroke="#70fd70" stroke-width="0.7" fill-rule="evenodd"/><path d="M175.6 1987.5 176.3 1987.5 176.4 2022.0 177.3 2031.0 179.1 2040.0 182.0 2049.0 186.1 2057.6 190.6 2063.0 196.6 2066.9 204.1 2069.0 208.6 2069.1 213.1 2068.3 220.6 2065.5 241.6 2055.0 247.6 2053.0 255.1 2051.8 267.1 2051.6 276.1 2052.5 282.1 2054.4 292.6 2059.3 297.1 2060.4 303.1 2059.7 309.1 2056.9 313.6 2053.6 318.1 2048.9 321.1 2044.3 324.2 2037.0 326.5 2028.0 328.1 2017.5 329.8 1987.5 331.7 1987.5 331.3 2013.0 330.1 2029.5 327.7 2043.0 324.1 2053.9 319.6 2061.6 313.6 2068.1 306.1 2074.0 300.1 2076.6 297.1 2076.7 292.6 2075.3 281.3 2067.0 276.1 2064.2 270.1 2062.8 261.1 2062.4 253.6 2063.0 246.1 2064.9 223.6 2076.4 214.6 2079.8 210.1 2080.7 205.6 2080.7 198.1 2078.7 190.6 2073.9 186.1 2068.6 181.9 2059.5 178.6 2048.3 175.7 2034.0 174.6 2022.0 174.9 1987.5Z" fill="#7afd7a" stroke="#7afd7a" stroke-width="0.7" fill-rule="evenodd"/><path d="M174.1 1987.5 174.9 1987.5 174.4 2014.5 175.2 2029.5 177.4 2043.0 181.6 2058.7 186.1 2068.6 190.6 2073.9 198.1 2078.7 202.6 2080.2 207.1 2080.8 211.6 2080.5 217.6 2078.9 226.6 2074.9 244.6 2065.5 250.6 2063.5 256.6 2062.6 268.6 2062.7 276.1 2064.2 281.3 2067.0 291.1 2074.4 295.6 2076.4 298.6 2076.8 301.6 2076.2 307.6 2073.0 315.1 2066.7 319.6 2061.6 323.6 2055.0 326.5 2047.5 329.0 2037.0 330.7 2023.5 331.5 2008.5 331.7 1987.5 333.7 1987.5 334.1 2020.5 333.1 2041.8 330.1 2061.1 328.4 2067.0 325.6 2072.9 320.7 2079.0 312.1 2086.1 306.1 2090.0 300.1 2092.0 295.6 2092.0 291.1 2090.6 279.1 2082.9 274.6 2080.7 270.1 2079.6 262.6 2079.0 253.6 2079.5 247.6 2080.7 225.1 2090.0 214.6 2093.1 210.1 2093.7 205.6 2093.6 201.1 2092.6 196.6 2090.6 192.1 2087.6 189.1 2084.9 184.6 2078.9 181.6 2072.4 178.6 2061.5 174.6 2040.0 173.1 2026.5 172.9 2005.5 173.5 1987.5Z" fill="#85fe85" stroke="#85fe85" stroke-width="0.7" fill-rule="evenodd"/><path d="M172.6 1987.5 173.5 1987.5 172.8 2016.0 173.7 2032.5 177.9 2058.0 181.6 2072.4 186.1 2081.2 192.1 2087.6 199.6 2092.0 204.1 2093.3 208.6 2093.8 214.6 2093.1 220.6 2091.6 244.6 2081.7 255.1 2079.3 265.6 2079.1 273.1 2080.2 279.1 2082.9 289.6 2089.9 294.1 2091.7 297.1 2092.1 301.6 2091.7 306.1 2090.0 317.4 2082.0 322.6 2077.0 326.4 2071.5 328.9 2065.5 331.1 2056.5 333.0 2043.0 334.0 2028.0 333.7 1987.5 335.9 1987.5 339.4 2056.5 341.6 2079.0 341.2 2083.5 340.0 2086.5 337.1 2089.5 331.7 2092.5 310.6 2102.1 301.6 2104.5 297.1 2104.8 292.6 2104.3 274.6 2098.1 268.6 2097.2 262.6 2097.0 255.1 2097.2 249.1 2098.1 228.1 2105.3 216.1 2107.6 210.1 2107.9 204.1 2107.5 199.6 2106.3 195.1 2104.4 189.1 2099.9 184.4 2094.0 180.1 2085.0 177.4 2074.5 172.8 2041.5 171.5 2028.0 171.3 2008.5 172.1 1987.5ZM402.1 1987.5 444.9 1987.5 441.1 1995.5 435.1 2005.0 430.6 2010.0 427.6 2010.9 423.1 2009.4 415.6 2004.2 406.6 1994.2 401.6 1987.5ZM430.6 2035.1 432.1 2034.5 433.6 2035.2 436.6 2039.8 439.2 2049.0 440.1 2058.0 440.4 2077.5 439.8 2086.5 437.5 2092.5 435.1 2094.5 433.6 2094.8 432.1 2094.3 430.6 2092.9 429.1 2090.2 427.9 2085.0 427.3 2079.0 426.9 2059.5 427.2 2047.5 428.4 2040.0 429.1 2037.5Z" fill="#8ffe8f" stroke="#8ffe8f" stroke-width="0.7" fill-rule="evenodd"/><path d="M171.1 1987.5 172.1 1987.5 171.2 2014.5 171.7 2031.0 177.7 2076.0 180.1 2085.0 184.6 2094.3 189.1 2099.9 195.1 2104.4 199.6 2106.3 204.1 2107.5 210.1 2107.9 216.1 2107.6 228.1 2105.3 249.1 2098.1 255.1 2097.2 262.6 2097.0 273.1 2097.8 291.1 2104.0 295.6 2104.7 300.1 2104.7 304.6 2104.0 310.6 2102.1 331.7 2092.5 337.1 2089.5 339.1 2087.6 340.7 2085.0 341.6 2080.5 339.4 2056.5 335.9 1987.5 338.4 1987.5 339.9 2002.5 343.6 2026.7 345.5 2035.5 348.1 2044.3 352.6 2053.7 364.6 2070.6 369.5 2080.5 370.6 2085.0 370.9 2089.5 370.2 2094.0 369.1 2097.1 366.1 2101.2 361.6 2103.7 357.1 2104.6 345.1 2105.4 339.1 2106.4 333.1 2108.1 319.6 2113.1 307.6 2115.2 295.6 2115.7 273.1 2113.8 256.6 2113.8 247.6 2115.0 231.1 2119.3 217.6 2120.2 201.1 2119.3 195.1 2117.9 189.1 2115.5 184.1 2112.0 179.8 2106.0 177.0 2098.5 174.5 2086.5 169.7 2026.5 169.8 2008.5 170.7 1987.5ZM382.6 1987.5 401.6 1987.5 409.6 1997.9 415.6 2004.2 423.1 2009.4 427.6 2010.9 430.6 2010.0 435.1 2005.0 441.1 1995.5 444.9 1987.5 458.9 1987.5 457.5 1993.5 452.2 2008.5 450.2 2019.0 450.0 2028.0 451.2 2064.0 451.0 2082.0 450.3 2091.0 448.6 2097.9 445.6 2104.1 442.6 2107.9 438.1 2111.2 433.6 2112.5 430.6 2112.4 427.6 2111.5 424.6 2109.6 422.4 2107.5 418.8 2101.5 416.9 2095.5 415.9 2089.5 414.8 2052.0 413.6 2043.0 411.6 2035.5 403.9 2013.0 399.6 2004.0 394.6 1997.4 381.9 1987.5ZM430.3 2035.5 428.4 2040.0 427.1 2049.0 427.4 2080.5 429.1 2090.2 430.6 2092.9 432.1 2094.3 433.6 2094.8 435.1 2094.5 437.5 2092.5 439.8 2086.5 440.4 2077.5 440.0 2056.5 438.9 2047.5 436.6 2039.8 433.6 2035.2 432.1 2034.5Z" fill="#99fe99" stroke="#99fe99" stroke-width="0.7" fill-rule="evenodd"/><path d="M169.6 1987.5 170.7 1987.5 169.6 2016.0 170.1 2034.0 174.1 2083.5 175.6 2092.8 177.9 2101.5 180.1 2106.6 183.1 2110.9 186.1 2113.7 190.6 2116.3 195.3 2118.0 201.1 2119.3 216.1 2120.2 231.1 2119.3 247.6 2115.0 256.6 2113.8 273.1 2113.8 295.6 2115.7 310.6 2114.9 319.6 2113.1 333.1 2108.1 339.1 2106.4 360.1 2104.1 364.6 2102.3 367.2 2100.0 369.2 2097.0 370.6 2092.5 370.9 2088.0 369.9 2082.0 367.6 2076.0 365.1 2071.5 351.6 2052.0 347.2 2041.5 344.8 2032.5 342.1 2017.8 339.1 1996.5 338.4 1987.5 341.9 1987.5 343.5 1996.5 345.1 2002.3 349.6 2013.6 357.1 2029.5 368.4 2047.5 378.1 2068.1 385.6 2079.2 388.6 2082.0 391.6 2083.0 394.6 2081.7 399.1 2075.9 402.1 2068.3 403.6 2059.5 403.6 2052.0 402.6 2044.5 396.1 2017.5 392.6 2010.0 390.1 2006.9 387.1 2004.6 382.6 2002.5 370.6 1999.6 366.1 1997.1 363.1 1993.0 361.4 1987.5 381.9 1987.5 391.6 1994.7 396.5 1999.5 400.5 2005.5 403.3 2011.5 410.7 2032.5 413.2 2041.5 415.0 2055.0 415.8 2088.0 416.6 2094.0 418.3 2100.0 421.6 2106.4 426.1 2110.7 429.1 2112.1 432.1 2112.6 435.1 2112.3 438.1 2111.2 442.6 2107.9 446.3 2103.0 448.9 2097.0 450.5 2089.5 451.1 2080.5 451.2 2058.0 450.0 2023.5 451.4 2011.5 457.5 1993.5 458.9 1987.5 467.7 1987.5 466.7 1996.5 462.8 2016.0 461.2 2028.0 457.9 2091.0 456.5 2098.5 454.1 2106.0 450.1 2113.2 445.6 2118.1 439.6 2121.7 432.1 2123.4 422.5 2122.5 397.6 2115.4 391.6 2114.5 378.1 2118.2 369.1 2119.5 361.6 2119.2 348.1 2117.1 342.1 2117.2 336.1 2118.7 324.1 2123.4 316.6 2124.9 255.1 2126.1 229.6 2130.1 220.6 2130.0 199.6 2128.5 190.6 2127.1 183.1 2124.9 177.1 2121.3 174.1 2117.9 171.6 2112.0 170.1 2103.0 169.3 2088.0 169.7 2058.0 167.9 2023.5 168.3 2007.0Z" fill="#a3fea3" stroke="#a3fea3" stroke-width="0.7" fill-rule="evenodd"/><path d="M168.1 1987.5 169.3 1987.5 167.9 2022.0 169.8 2059.5 169.4 2092.5 170.5 2106.0 172.6 2115.0 175.3 2119.5 178.6 2122.5 183.1 2124.9 187.6 2126.4 201.1 2128.7 226.6 2130.2 234.1 2129.6 247.6 2126.9 255.1 2126.1 316.6 2124.9 324.1 2123.4 336.1 2118.7 342.1 2117.2 348.1 2117.1 361.6 2119.2 369.1 2119.5 378.1 2118.2 391.6 2114.5 397.6 2115.4 420.1 2121.9 427.6 2123.3 435.1 2123.0 439.6 2121.7 442.6 2120.2 447.1 2116.7 450.9 2112.0 454.1 2106.0 456.5 2098.5 458.3 2086.5 460.5 2037.0 462.5 2017.5 466.4 1998.0 467.7 1987.5 474.9 1987.5 473.4 2016.0 467.5 2053.5 463.7 2094.0 461.8 2104.5 459.1 2112.9 454.6 2120.4 449.0 2125.5 441.1 2129.3 432.1 2131.0 391.6 2130.3 367.6 2130.8 360.1 2130.1 348.1 2127.9 343.6 2127.7 339.1 2128.3 327.1 2131.9 319.6 2133.2 297.1 2133.3 274.6 2135.0 253.6 2135.4 234.1 2138.2 228.1 2138.5 190.6 2135.5 181.6 2133.9 174.4 2131.5 169.3 2128.5 165.4 2124.0 163.6 2119.5 162.8 2113.5 163.7 2092.5 166.9 2061.0 166.1 2020.5ZM342.1 1987.5 361.4 1987.5 363.1 1993.0 366.1 1997.1 370.6 1999.6 381.1 2002.1 385.6 2003.8 390.1 2006.9 393.5 2011.5 397.0 2020.5 401.3 2038.5 403.3 2049.0 403.7 2056.5 402.8 2065.5 400.6 2072.8 397.6 2078.4 394.6 2081.7 393.1 2082.7 391.6 2083.0 388.6 2082.0 385.6 2079.2 382.6 2075.4 376.6 2065.3 367.6 2046.0 357.1 2029.5 346.6 2006.5 343.6 1997.1Z" fill="#adfead" stroke="#adfead" stroke-width="0.7" fill-rule="evenodd"/><path d="M166.6 1987.5 167.9 1987.5 166.1 2022.0 167.0 2059.5 163.7 2092.5 162.8 2113.5 163.6 2119.5 165.4 2124.0 169.3 2128.5 174.4 2131.5 181.6 2133.9 190.6 2135.5 228.1 2138.5 234.1 2138.2 253.6 2135.4 274.6 2135.0 297.1 2133.3 319.6 2133.2 327.1 2131.9 339.1 2128.3 343.6 2127.7 349.6 2128.1 361.6 2130.3 369.1 2130.9 391.6 2130.3 430.6 2131.1 438.1 2130.2 444.1 2128.2 450.1 2124.7 455.3 2119.5 458.8 2113.5 461.4 2106.0 463.9 2092.5 467.9 2050.5 473.3 2017.5 474.5 2002.5 474.9 1987.5 481.6 1987.5 482.9 2011.5 482.2 2025.0 474.3 2058.0 471.9 2073.0 468.0 2104.5 466.4 2112.0 464.4 2118.0 462.1 2122.4 459.8 2125.5 456.7 2128.5 452.4 2131.5 442.6 2135.5 432.1 2137.2 388.6 2136.8 364.6 2139.0 342.1 2137.5 321.2 2140.5 297.1 2140.7 274.6 2142.8 253.6 2143.2 229.6 2146.0 186.1 2142.6 177.1 2140.9 169.6 2138.1 163.6 2134.6 159.1 2130.0 156.3 2124.0 155.3 2116.5 155.7 2107.5 157.5 2094.0 162.8 2068.5 164.0 2059.5 164.3 2019.0Z" fill="#b8feb8" stroke="#b8feb8" stroke-width="0.7" fill-rule="evenodd"/><path d="M165.1 1987.5 166.4 1987.5 164.2 2020.5 164.0 2059.5 162.8 2068.5 157.5 2094.0 155.7 2107.5 155.3 2116.5 156.3 2124.0 159.1 2130.0 163.6 2134.6 171.1 2138.8 178.6 2141.2 186.1 2142.6 229.6 2146.0 253.6 2143.2 274.6 2142.8 297.1 2140.7 321.2 2140.5 342.1 2137.5 364.6 2139.0 388.6 2136.8 432.1 2137.2 441.1 2135.9 449.5 2133.0 456.1 2129.0 460.6 2124.5 463.7 2119.5 466.4 2112.0 468.5 2101.5 471.7 2074.5 474.0 2059.5 476.3 2049.0 481.1 2031.0 482.4 2023.5 482.9 2010.0 481.6 1987.5 488.2 1987.5 491.5 2011.5 491.8 2019.0 491.2 2026.5 489.6 2034.0 483.1 2054.8 479.3 2070.0 476.8 2083.5 473.3 2110.5 470.5 2121.0 468.1 2125.5 465.1 2129.5 457.6 2135.7 453.1 2138.1 447.1 2140.3 435.1 2142.6 414.1 2143.0 388.6 2142.2 381.1 2143.0 363.1 2146.3 342.1 2145.9 321.1 2147.2 297.1 2147.5 276.1 2149.7 250.6 2150.5 229.6 2152.8 207.1 2150.7 183.1 2149.5 175.6 2148.0 168.1 2145.3 159.7 2140.5 153.7 2134.5 150.0 2127.0 148.7 2118.0 149.2 2107.5 151.5 2092.5 153.6 2083.5 159.1 2065.7 160.6 2058.0 161.4 2047.5 162.4 2016.0Z" fill="#c2fec2" stroke="#c2fec2" stroke-width="0.7" fill-rule="evenodd"/><path d="M163.6 1987.5 164.7 1987.5 162.3 2017.5 160.8 2056.5 159.1 2065.7 153.6 2083.5 151.5 2092.5 149.2 2107.5 148.7 2118.0 150.0 2127.0 153.7 2134.5 159.7 2140.5 168.1 2145.3 175.7 2148.0 184.6 2149.7 207.1 2150.7 223.6 2152.5 231.1 2152.7 250.6 2150.5 276.1 2149.7 297.1 2147.5 321.1 2147.2 342.1 2145.9 363.1 2146.3 381.1 2143.0 388.6 2142.2 412.6 2143.0 433.6 2142.7 444.1 2141.1 454.4 2137.5 460.6 2133.7 466.0 2128.5 469.8 2122.5 472.0 2116.5 473.6 2109.0 476.6 2085.0 478.9 2071.5 483.0 2055.0 489.6 2034.0 491.4 2025.0 491.5 2011.5 488.2 1987.5 495.1 1987.5 500.0 2011.5 500.5 2019.0 500.0 2026.5 497.7 2037.0 489.1 2063.9 485.0 2079.0 483.0 2089.5 480.0 2113.5 477.5 2122.5 475.2 2127.0 472.0 2131.5 467.5 2136.0 462.1 2140.1 457.6 2142.7 451.6 2145.1 445.6 2146.7 438.1 2147.8 415.6 2148.4 388.6 2147.3 382.6 2148.0 369.1 2151.7 361.6 2152.8 298.6 2153.5 276.1 2155.7 252.1 2156.7 229.6 2158.8 207.1 2157.0 183.1 2156.4 175.6 2155.2 166.6 2152.3 160.6 2149.4 156.1 2146.5 151.6 2142.6 148.6 2139.0 145.8 2134.5 144.0 2130.0 142.6 2124.0 142.1 2118.0 143.0 2104.5 145.9 2088.0 148.5 2079.0 154.9 2062.5 157.4 2052.0 160.4 2013.0 163.0 1987.5Z" fill="#ccfecc" stroke="#ccfecc" stroke-width="0.7" fill-rule="evenodd"/><path d="M162.1 1987.5 163.0 1987.5 162.9 1989.0 160.1 2016.0 157.4 2052.0 154.9 2062.5 148.5 2079.0 145.9 2088.0 143.0 2104.5 142.1 2118.0 142.6 2124.0 144.0 2130.0 145.8 2134.5 148.6 2139.0 151.6 2142.6 156.1 2146.5 160.6 2149.4 166.6 2152.3 175.6 2155.2 183.1 2156.4 207.1 2157.0 223.6 2158.6 231.1 2158.7 252.1 2156.7 276.1 2155.7 298.6 2153.5 361.6 2152.8 369.1 2151.7 382.6 2148.0 388.6 2147.3 414.1 2148.4 435.1 2148.1 447.1 2146.3 457.6 2142.7 465.1 2138.0 471.1 2132.5 475.2 2127.0 478.6 2119.5 480.2 2112.0 483.0 2089.5 485.0 2079.0 489.1 2063.9 497.7 2037.0 500.0 2026.5 500.5 2019.0 500.0 2011.5 495.1 1987.5 503.6 1987.5 507.1 2001.0 508.5 2008.5 509.1 2017.5 508.6 2026.5 506.1 2038.5 493.0 2082.0 491.0 2092.5 488.0 2115.0 485.4 2124.0 482.1 2130.0 478.5 2134.5 472.6 2140.0 466.0 2145.0 460.6 2148.1 454.6 2150.5 441.1 2153.2 417.1 2153.6 388.6 2152.3 381.1 2153.6 369.1 2157.2 361.6 2158.4 298.6 2158.9 229.6 2164.2 207.1 2162.9 180.1 2162.5 169.6 2160.7 160.6 2157.6 154.6 2154.6 149.4 2151.0 144.9 2146.5 141.6 2142.0 138.3 2136.0 136.3 2130.0 135.1 2124.0 134.8 2116.5 136.3 2100.0 139.6 2083.5 142.7 2074.5 150.7 2056.5 153.4 2047.5 155.4 2035.5 161.0 1987.5Z" fill="#d6ffd6" stroke="#d6ffd6" stroke-width="0.7" fill-rule="evenodd"/><path d="M159.1 1987.5 161.0 1987.5 160.7 1990.5 154.0 2044.5 151.3 2055.0 142.7 2074.5 139.2 2085.0 135.9 2103.0 134.8 2118.0 135.1 2124.0 136.3 2130.0 138.3 2136.0 141.6 2142.0 144.9 2146.5 149.4 2151.0 154.6 2154.6 160.6 2157.6 169.6 2160.7 180.1 2162.5 207.1 2162.9 231.1 2164.1 298.6 2158.9 361.6 2158.4 369.1 2157.2 381.1 2153.6 388.6 2152.3 415.6 2153.6 438.1 2153.4 450.1 2151.7 460.6 2148.1 468.1 2143.5 477.1 2136.0 482.1 2130.0 486.0 2122.5 488.2 2113.5 491.0 2092.5 493.0 2082.0 506.1 2038.5 508.6 2026.5 509.1 2017.5 508.5 2008.5 507.1 2001.0 503.6 1987.5 515.9 1987.5 517.8 1999.5 518.6 2008.5 518.6 2019.0 517.7 2028.0 515.3 2038.5 502.6 2080.5 500.1 2092.5 496.8 2116.5 493.7 2127.0 490.6 2132.6 486.7 2137.5 481.6 2142.1 472.6 2148.8 466.6 2152.5 460.6 2155.3 454.6 2157.1 447.1 2158.3 427.6 2158.9 390.1 2157.1 384.1 2157.9 369.1 2162.1 361.6 2163.2 298.6 2163.8 229.6 2169.4 207.1 2168.7 177.1 2168.6 163.6 2166.6 153.1 2163.4 147.1 2160.5 142.1 2157.0 137.6 2152.5 133.5 2146.5 129.9 2139.0 127.5 2131.5 126.3 2124.0 126.0 2116.5 128.2 2097.0 132.2 2079.0 136.3 2068.5 147.1 2047.5 150.6 2037.0 153.1 2024.9 158.7 1987.5Z" fill="#e0ffe0" stroke="#e0ffe0" stroke-width="0.7" fill-rule="evenodd"/><path d="M156.1 1987.5 158.7 1987.5 158.4 1990.5 153.1 2024.9 150.6 2037.0 147.1 2047.5 137.7 2065.5 133.8 2074.5 130.9 2083.5 128.4 2095.5 126.4 2110.5 126.1 2121.0 127.2 2130.0 129.9 2139.0 134.4 2148.0 140.4 2155.5 148.6 2161.3 157.6 2165.0 168.1 2167.5 178.6 2168.7 207.1 2168.7 228.1 2169.4 298.6 2163.8 361.6 2163.2 369.1 2162.1 384.1 2157.9 390.1 2157.1 417.1 2158.6 442.6 2158.7 451.6 2157.6 457.6 2156.3 462.1 2154.7 468.1 2151.6 478.6 2144.5 486.7 2137.5 492.1 2130.2 495.3 2122.5 497.1 2115.0 500.1 2092.5 502.2 2082.0 515.3 2038.5 518.0 2026.5 518.6 2019.0 518.6 2008.5 517.8 1999.5 515.9 1987.5 537.4 1987.5 534.9 2007.0 531.0 2026.5 527.6 2037.0 514.6 2071.4 511.0 2083.5 509.0 2094.0 505.9 2118.0 502.9 2130.0 498.5 2139.0 493.6 2145.2 487.6 2150.2 478.3 2155.5 471.1 2159.0 464.4 2161.5 457.6 2163.1 450.1 2163.9 433.6 2164.1 390.1 2161.9 384.1 2162.7 369.1 2166.8 361.6 2167.8 300.1 2168.4 232.6 2174.9 178.6 2175.7 165.1 2175.1 153.1 2173.4 143.0 2170.5 135.1 2166.8 130.1 2163.0 125.1 2157.0 115.6 2138.2 115.6 2094.4 120.8 2077.5 125.8 2065.5 131.7 2055.0 142.6 2039.4 146.6 2031.0 148.6 2024.7 151.6 2012.0ZM561.1 1987.5 568.6 1987.5 568.6 2007.5 563.5 1996.5Z" fill="#ebffeb" stroke="#ebffeb" stroke-width="0.7" fill-rule="evenodd"/><path d="M153.1 1987.5 155.9 1987.5 155.4 1992.0 150.4 2017.5 147.1 2029.6 142.6 2039.4 131.7 2055.0 125.8 2065.5 120.8 2077.5 115.6 2094.4 115.6 2044.2 135.1 2031.6 138.1 2028.9 141.1 2025.1 144.1 2019.4 147.1 2011.1 150.2 1999.5 152.5 1987.5ZM538.6 1987.5 560.9 1987.5 563.5 1996.5 568.6 2007.5 568.6 2172.4 565.7 2163.0 564.5 2155.5 563.2 2118.0 558.1 2088.0 555.2 2061.0 553.7 2055.0 552.1 2051.8 550.6 2050.1 547.6 2048.8 544.6 2049.9 541.3 2053.5 533.7 2068.5 526.6 2080.3 523.6 2086.2 520.6 2096.2 515.7 2124.0 511.6 2139.0 507.1 2150.4 501.1 2163.1 498.1 2167.3 495.1 2169.2 492.1 2169.5 478.6 2168.4 460.6 2169.9 445.6 2170.0 390.1 2166.7 382.6 2167.7 369.1 2171.5 361.6 2172.5 309.1 2173.0 295.6 2173.6 277.6 2175.4 234.1 2181.8 175.6 2187.5 159.3 2190.0 151.6 2192.5 147.1 2196.0 145.2 2199.0 143.7 2203.5 137.4 2250.0 137.0 2344.5 137.6 2383.5 115.6 2383.5 115.6 2138.2 125.1 2157.0 129.1 2162.0 133.6 2165.8 141.1 2169.8 148.6 2172.3 157.6 2174.3 168.1 2175.4 180.1 2175.7 231.1 2175.0 298.6 2168.5 361.6 2167.8 369.1 2166.8 384.1 2162.7 390.1 2161.9 442.6 2164.2 456.1 2163.3 466.6 2160.8 480.1 2154.6 490.5 2148.0 496.6 2141.8 501.7 2133.0 503.9 2127.0 505.6 2119.5 509.2 2092.5 511.3 2082.0 514.6 2071.4 530.6 2028.0 534.7 2008.5 537.4 1987.5ZM568.6 2203.8 568.6 2383.5 557.3 2383.5 564.7 2359.5 566.2 2349.0 566.0 2328.0 563.8 2281.5 564.8 2254.5 564.9 2221.5 566.0 2212.5Z" fill="#f5fff5" stroke="#f5fff5" stroke-width="0.7" fill-rule="evenodd"/><path d="M121.6 1987.5 147.8 1987.5 145.6 1996.6 142.6 2004.0 139.6 2008.7 136.6 2011.4 133.6 2012.4 130.6 2012.2 127.6 2010.6 124.6 2007.0 122.7 2002.5 121.3 1996.5 120.5 1987.5ZM525.1 2156.7 528.1 2156.7 532.6 2159.1 535.6 2162.4 538.6 2167.5 541.0 2173.5 542.4 2179.5 543.2 2187.0 543.4 2196.0 542.7 2251.5 541.5 2284.5 541.8 2316.0 540.9 2329.5 538.2 2343.0 534.1 2353.1 529.6 2358.9 526.6 2360.7 523.6 2361.2 519.1 2359.3 515.6 2355.0 512.5 2347.5 510.3 2337.0 509.0 2320.5 508.8 2280.0 507.9 2256.0 507.1 2246.6 503.9 2226.0 503.5 2220.0 504.9 2208.0 509.9 2182.5 512.4 2173.5 514.6 2168.0 517.6 2162.9 520.6 2159.4ZM522.9 2184.0 520.6 2187.7 518.6 2196.0 516.8 2209.5 516.3 2221.5 521.5 2301.0 522.1 2306.6 523.4 2311.5 523.6 2312.2 525.1 2313.1 526.6 2309.9 528.1 2298.0 531.1 2245.5 531.7 2212.5 531.0 2197.5 529.6 2188.3 528.1 2184.9 526.6 2183.3 525.1 2182.8ZM387.1 2171.9 396.1 2171.6 415.6 2172.9 462.1 2179.3 468.1 2181.0 473.4 2184.0 476.4 2187.0 479.2 2191.5 482.8 2200.5 485.9 2211.0 487.1 2217.0 487.5 2224.5 483.9 2280.0 484.4 2316.0 484.0 2326.5 482.1 2338.5 480.1 2344.2 478.2 2347.5 474.1 2351.7 469.6 2354.0 462.1 2355.7 453.1 2356.2 361.6 2355.7 282.1 2356.7 274.6 2356.1 268.6 2354.6 264.1 2352.6 258.1 2348.8 252.1 2343.7 246.1 2336.3 241.8 2328.0 239.2 2319.0 235.6 2284.8 224.6 2236.5 223.0 2226.0 222.9 2218.5 223.7 2212.5 225.7 2206.5 228.4 2202.0 232.9 2197.5 241.0 2193.0 261.9 2185.5 273.1 2182.7 291.1 2180.4 310.6 2178.9 361.6 2177.9 369.1 2176.7ZM386.4 2178.0 363.1 2185.6 321.1 2190.0 313.6 2191.7 295.6 2197.9 282.1 2198.5 276.1 2199.6 268.6 2203.1 260.6 2209.5 256.0 2215.5 253.9 2221.5 253.4 2227.5 253.8 2235.0 254.9 2244.0 256.5 2250.0 258.1 2253.4 261.1 2257.2 265.6 2260.9 268.6 2262.5 271.6 2262.9 273.1 2262.5 276.1 2259.9 285.9 2242.5 289.6 2237.9 292.6 2235.3 297.1 2233.2 300.1 2233.1 304.6 2234.9 307.6 2237.4 310.6 2241.3 313.4 2247.0 325.0 2284.5 330.1 2297.1 335.2 2307.0 340.6 2314.4 345.6 2319.0 352.6 2322.8 360.1 2325.0 367.6 2325.9 379.6 2326.1 390.1 2325.8 399.1 2324.8 408.1 2322.9 416.1 2320.5 423.3 2317.5 430.6 2313.3 435.1 2310.0 439.6 2305.7 446.0 2296.5 449.4 2289.0 453.1 2278.4 456.1 2268.8 458.0 2260.5 458.9 2253.0 459.1 2244.0 457.6 2217.0 456.3 2209.5 454.6 2204.0 452.4 2199.0 449.5 2194.5 444.3 2190.0 438.9 2187.0 428.2 2182.5 421.6 2180.4 414.1 2178.8 403.6 2177.8 393.1 2177.4Z" fill="#ffe6e6" stroke="#ffe6e6" stroke-width="0.7" fill-rule="evenodd"/><path d="M387.1 2177.9 394.6 2177.4 405.1 2177.9 414.1 2178.8 421.6 2180.4 428.2 2182.5 438.9 2187.0 444.3 2190.0 449.5 2194.5 452.4 2199.0 454.6 2204.0 456.3 2209.5 457.6 2217.0 459.1 2245.5 458.8 2254.5 457.7 2262.0 455.9 2269.5 451.6 2282.8 446.0 2296.5 439.6 2305.7 435.1 2310.0 430.6 2313.3 423.3 2317.5 416.1 2320.5 408.1 2322.9 399.1 2324.8 390.1 2325.8 379.6 2326.1 367.6 2325.9 360.1 2325.0 352.6 2322.8 345.6 2319.0 340.6 2314.4 335.2 2307.0 330.1 2297.1 325.0 2284.5 313.4 2247.0 310.6 2241.3 307.6 2237.4 304.6 2234.9 300.1 2233.1 297.1 2233.2 292.6 2235.3 289.6 2237.9 285.9 2242.5 276.1 2259.9 273.1 2262.5 271.6 2262.9 268.6 2262.5 265.6 2260.9 261.1 2257.2 258.1 2253.4 256.5 2250.0 254.9 2244.0 253.8 2235.0 253.4 2227.5 253.9 2221.5 256.0 2215.5 260.6 2209.5 268.6 2203.1 276.1 2199.6 282.1 2198.5 295.6 2197.9 313.6 2191.7 321.1 2190.0 363.1 2185.6 370.6 2183.5 381.1 2179.4ZM390.2 2188.5 384.1 2191.2 379.4 2196.0 370.7 2209.5 368.7 2214.0 367.8 2218.5 367.9 2221.5 368.9 2226.0 370.6 2229.5 373.5 2233.5 376.6 2236.9 381.1 2240.5 384.1 2242.0 387.1 2242.8 391.6 2242.3 396.1 2240.2 402.1 2235.8 406.6 2231.6 409.6 2227.7 411.2 2224.5 412.5 2220.0 413.2 2214.0 412.9 2199.0 412.3 2196.0 410.7 2193.0 406.6 2190.2 402.1 2188.9 396.1 2188.1ZM523.6 2183.3 525.1 2182.8 526.6 2183.3 528.1 2184.9 529.6 2188.5 531.1 2198.3 531.7 2215.5 531.1 2245.5 528.1 2298.6 526.6 2309.9 525.1 2313.1 523.6 2312.2 523.4 2311.5 522.1 2306.6 521.5 2301.0 516.3 2221.5 516.9 2208.0 519.1 2193.0 520.9 2187.0Z" fill="#ffcccc" stroke="#ffcccc" stroke-width="0.7" fill-rule="evenodd"/><path d="M391.6 2188.3 397.6 2188.2 403.6 2189.2 408.1 2190.9 410.7 2193.0 412.3 2196.0 412.9 2199.0 413.1 2215.5 412.5 2220.0 411.2 2224.5 409.6 2227.7 406.3 2232.0 400.6 2237.1 394.6 2241.0 390.1 2242.6 387.1 2242.8 384.1 2242.0 381.1 2240.5 376.6 2236.9 373.5 2233.5 370.6 2229.5 368.9 2226.0 367.9 2221.5 367.8 2218.5 368.7 2214.0 370.7 2209.5 379.4 2196.0 382.0 2193.0 385.6 2190.2Z" fill="#ffb2b2" stroke="#ffb2b2" stroke-width="0.7" fill-rule="evenodd"/></g><rect x="139.4" y="1970.0" width="11.8" height="14.7" fill="#00fc00"/><rect x="150.8" y="1970.0" width="11.8" height="14.7" fill="#0afc0a"/><rect x="162.3" y="1970.0" width="11.8" height="14.7" fill="#14fc14"/><rect x="173.7" y="1970.0" width="11.8" height="14.7" fill="#1ffc1f"/><rect x="185.2" y="1970.0" width="11.8" height="14.7" fill="#29fc29"/><rect x="196.6" y="1970.0" width="11.8" height="14.7" fill="#33fd33"/><rect x="208.0" y="1970.0" width="11.8" height="14.7" fill="#3dfd3d"/><rect x="219.5" y="1970.0" width="11.8" height="14.7" fill="#47fd47"/><rect x="230.9" y="1970.0" width="11.8" height="14.7" fill="#52fd52"/><rect x="242.4" y="1970.0" width="11.8" height="14.7" fill="#5cfd5c"/><rect x="253.8" y="1970.0" width="11.8" height="14.7" fill="#66fd66"/><rect x="265.2" y="1970.0" width="11.8" height="14.7" fill="#70fd70"/><rect x="276.7" y="1970.0" width="11.8" height="14.7" fill="#7afd7a"/><rect x="288.1" y="1970.0" width="11.8" height="14.7" fill="#85fe85"/><rect x="299.6" y="1970.0" width="11.8" height="14.7" fill="#8ffe8f"/><rect x="311.0" y="1970.0" width="11.8" height="14.7" fill="#99fe99"/><rect x="322.4" y="1970.0" width="11.8" height="14.7" fill="#a3fea3"/><rect x="333.9" y="1970.0" width="11.8" height="14.7" fill="#adfead"/><rect x="345.3" y="1970.0" width="11.8" height="14.7" fill="#b8feb8"/><rect x="356.8" y="1970.0" width="11.8" height="14.7" fill="#c2fec2"/><rect x="368.2" y="1970.0" width="11.8" height="14.7" fill="#ccfecc"/><rect x="379.6" y="1970.0" width="11.8" height="14.7" fill="#d6ffd6"/><rect x="391.1" y="1970.0" width="11.8" height="14.7" fill="#e0ffe0"/><rect x="402.5" y="1970.0" width="11.8" height="14.7" fill="#ebffeb"/><rect x="414.0" y="1970.0" width="11.8" height="14.7" fill="#f5fff5"/><rect x="425.4" y="1970.0" width="11.8" height="14.7" fill="#ffffff"/><rect x="436.8" y="1970.0" width="11.8" height="14.7" fill="#ffe6e6"/><rect x="448.3" y="1970.0" width="11.8" height="14.7" fill="#ffcccc"/><rect x="459.7" y="1970.0" width="11.8" height="14.7" fill="#ffb2b2"/><rect x="471.2" y="1970.0" width="11.8" height="14.7" fill="#ff9999"/><rect x="482.6" y="1970.0" width="11.8" height="14.7" fill="#ff8080"/><rect x="494.0" y="1970.0" width="11.8" height="14.7" fill="#ff6666"/><rect x="505.5" y="1970.0" width="11.8" height="14.7" fill="#ff4c4c"/><rect x="516.9" y="1970.0" width="11.8" height="14.7" fill="#ff3333"/><rect x="528.4" y="1970.0" width="11.8" height="14.7" fill="#ff1919"/><text x="146.0" y="1966.3" class="s m" font-size="16">-50</text><text x="204.4" y="1966.3" class="s m" font-size="16">-40</text><text x="263.0" y="1966.3" class="s m" font-size="16">-30</text><text x="321.0" y="1966.3" class="s m" font-size="16">-20</text><text x="380.0" y="1966.3" class="s m" font-size="16">-10</text><text x="430.0" y="1966.3" class="s m" font-size="16">0</text><text x="476.0" y="1966.3" class="s m" font-size="16">10</text><text x="529.2" y="1966.3" class="s m" font-size="16">20</text><rect x="115.60" y="1987.50" width="452.00" height="394.70" fill="none" stroke="#000" stroke-width="3.2"/><path d="M116.2 2382.2L116.2 2389.2" stroke="#444" stroke-width="1.2"/><path d="M138.8 2382.2L138.8 2389.2" stroke="#444" stroke-width="1.2"/><path d="M161.5 2382.2L161.5 2389.2" stroke="#444" stroke-width="1.2"/><path d="M184.1 2382.2L184.1 2389.2" stroke="#444" stroke-width="1.2"/><path d="M206.8 2382.2L206.8 2389.2" stroke="#444" stroke-width="1.2"/><path d="M229.4 2382.2L229.4 2389.2" stroke="#444" stroke-width="1.2"/><path d="M252.0 2382.2L252.0 2389.2" stroke="#444" stroke-width="1.2"/><path d="M274.7 2382.2L274.7 2389.2" stroke="#444" stroke-width="1.2"/><path d="M297.3 2382.2L297.3 2389.2" stroke="#444" stroke-width="1.2"/><path d="M320.0 2382.2L320.0 2389.2" stroke="#444" stroke-width="1.2"/><path d="M342.6 2382.2L342.6 2389.2" stroke="#444" stroke-width="1.2"/><path d="M365.2 2382.2L365.2 2389.2" stroke="#444" stroke-width="1.2"/><path d="M387.9 2382.2L387.9 2389.2" stroke="#444" stroke-width="1.2"/><path d="M410.5 2382.2L410.5 2389.2" stroke="#444" stroke-width="1.2"/><path d="M433.2 2382.2L433.2 2389.2" stroke="#444" stroke-width="1.2"/><path d="M455.8 2382.2L455.8 2389.2" stroke="#444" stroke-width="1.2"/><path d="M478.4 2382.2L478.4 2389.2" stroke="#444" stroke-width="1.2"/><path d="M501.1 2382.2L501.1 2389.2" stroke="#444" stroke-width="1.2"/><path d="M523.7 2382.2L523.7 2389.2" stroke="#444" stroke-width="1.2"/><path d="M546.4 2382.2L546.4 2389.2" stroke="#444" stroke-width="1.2"/><path d="M569.0 2382.2L569.0 2389.2" stroke="#444" stroke-width="1.2"/><text transform="translate(116.2,2395.1) rotate(-90)" y="8.0" class="s e" font-size="22.4">0</text><text transform="translate(138.8,2395.1) rotate(-90)" y="8.0" class="s e" font-size="22.4">0.28</text><text transform="translate(161.5,2395.1) rotate(-90)" y="8.0" class="s e" font-size="22.4">0.85</text><text transform="translate(184.1,2395.1) rotate(-90)" y="8.0" class="s e" font-size="22.4">2.74</text><text transform="translate(206.8,2395.1) rotate(-90)" y="8.0" class="s e" font-size="22.4">4.12</text><text transform="translate(229.4,2395.1) rotate(-90)" y="8.0" class="s e" font-size="22.4">7.62</text><text transform="translate(252.0,2395.1) rotate(-90)" y="8.0" class="s e" font-size="22.4">12</text><text transform="translate(274.7,2395.1) rotate(-90)" y="8.0" class="s e" font-size="22.4">23</text><text transform="translate(297.3,2395.1) rotate(-90)" y="8.0" class="s e" font-size="22.4">37</text><text transform="translate(320.0,2395.1) rotate(-90)" y="8.0" class="s e" font-size="22.4">69</text><text transform="translate(342.6,2395.1) rotate(-90)" y="8.0" class="s e" font-size="22.4">111</text><text transform="translate(365.2,2395.1) rotate(-90)" y="8.0" class="s e" font-size="22.4">206</text><text transform="translate(387.9,2395.1) rotate(-90)" y="8.0" class="s e" font-size="22.4">333</text><text transform="translate(410.5,2395.1) rotate(-90)" y="8.0" class="s e" font-size="22.4">492</text><text transform="translate(433.2,2395.1) rotate(-90)" y="8.0" class="s e" font-size="22.4">1000</text><text transform="translate(455.8,2395.1) rotate(-90)" y="8.0" class="s e" font-size="22.4">1852</text><text transform="translate(478.4,2395.1) rotate(-90)" y="8.0" class="s e" font-size="22.4">3000</text><text transform="translate(501.1,2395.1) rotate(-90)" y="8.0" class="s e" font-size="22.4">5560</text><text transform="translate(523.7,2395.1) rotate(-90)" y="8.0" class="s e" font-size="22.4">9000</text><text transform="translate(546.4,2395.1) rotate(-90)" y="8.0" class="s e" font-size="22.4">16000</text><text transform="translate(569.0,2395.1) rotate(-90)" y="8.0" class="s e" font-size="22.4">50000</text><path d="M108.6 1987.8L115.6 1987.8" stroke="#444" stroke-width="1.2"/><text transform="translate(98.8,1987.8) rotate(-90)" y="7.5" class="s m" font-size="21">4.12</text><path d="M108.6 2055.2L115.6 2055.2" stroke="#444" stroke-width="1.2"/><text transform="translate(98.8,2055.2) rotate(-90)" y="7.5" class="s m" font-size="21">1.37</text><path d="M108.6 2120.9L115.6 2120.9" stroke="#444" stroke-width="1.2"/><text transform="translate(98.8,2120.9) rotate(-90)" y="7.5" class="s m" font-size="21">1.20</text><path d="M108.6 2186.7L115.6 2186.7" stroke="#444" stroke-width="1.2"/><text transform="translate(98.8,2186.7) rotate(-90)" y="7.5" class="s m" font-size="21">0.46</text><path d="M108.6 2252.4L115.6 2252.4" stroke="#444" stroke-width="1.2"/><text transform="translate(98.8,2252.4) rotate(-90)" y="7.5" class="s m" font-size="21">0.15</text><path d="M108.6 2318.8L115.6 2318.8" stroke="#444" stroke-width="1.2"/><text transform="translate(98.8,2318.6) rotate(-90)" y="7.5" class="s m" font-size="21">0.10</text><path d="M108.6 2383.9L115.6 2383.9" stroke="#444" stroke-width="1.2"/><text transform="translate(98.8,2384.5) rotate(-90)" y="7.5" class="s m" font-size="21">0</text><text x="602.5" y="2185.6" class="s m" font-size="33">6.6</text><path d="M600.0 2196.5L428.0 2196.5" stroke="#000" stroke-width="3.2"/><polygon points="406.00,2196.50 430.00,2185.00 430.00,2208.00" fill="#000"/><text transform="translate(610.0,2281.0) rotate(-90)" y="12.2" class="s m" font-size="34">Maximum</text><text transform="translate(649.5,2281.0) rotate(-90)" y="12.2" class="s m" font-size="34">Synergy (ZIP)</text><text transform="translate(57.0,2170.0) rotate(-90)" y="12.1" class="s m" font-size="33.8">Paclitaxel, nM</text><text x="338.8" y="2477.9" class="s m" font-size="33.8">Palbociclib Isethionate, nM</text><defs><clipPath id="clip10840"><rect x="886.3" y="1977.7" width="435.5" height="395.4999999999998"/></clipPath></defs><g clip-path="url(#clip10840)"><path d="M962.8 1977.7 1072.0 1977.7 1070.4 1983.7 1067.8 1988.5 1064.8 1991.8 1061.0 1994.2 1057.3 1995.4 1052.8 1996.1 1031.8 1996.3 985.3 1996.2 974.8 1995.2 969.3 1992.7 965.8 1988.9 963.0 1982.2 962.2 1977.7Z" fill="#14fc14" stroke="#14fc14" stroke-width="0.7" fill-rule="evenodd"/><path d="M956.8 1977.7 962.2 1977.7 963.5 1983.7 965.8 1988.9 968.8 1992.3 971.8 1994.2 976.3 1995.6 980.8 1996.1 1001.8 1996.3 1048.3 1996.2 1057.3 1995.4 1063.3 1992.9 1066.8 1989.7 1070.4 1983.7 1072.0 1977.7 1080.9 1977.7 1079.8 1990.4 1077.5 2000.2 1073.8 2008.2 1069.3 2013.2 1063.3 2016.7 1057.3 2018.2 1031.8 2018.7 980.8 2018.5 974.8 2017.9 968.8 2015.8 965.8 2013.8 962.8 2010.7 959.7 2004.7 958.0 1998.7 956.4 1988.2 955.6 1977.7Z" fill="#1ffc1f" stroke="#1ffc1f" stroke-width="0.7" fill-rule="evenodd"/><path d="M953.8 1977.7 955.6 1977.7 957.4 1995.7 959.2 2003.2 961.3 2008.3 965.8 2013.8 968.8 2015.8 973.3 2017.5 977.8 2018.3 985.3 2018.7 1048.3 2018.7 1057.3 2018.2 1063.3 2016.7 1066.4 2015.2 1070.4 2012.2 1075.0 2006.2 1077.0 2001.7 1079.1 1994.2 1080.9 1977.7 1085.3 1977.7 1084.6 1997.2 1082.8 2009.2 1079.8 2017.3 1075.3 2023.7 1067.8 2030.2 1060.3 2033.5 1054.3 2034.4 1045.3 2034.6 986.8 2034.6 976.3 2033.8 970.3 2031.5 965.8 2028.3 961.3 2023.3 958.3 2018.2 955.3 2008.4 953.8 1997.9 952.5 1977.7Z" fill="#29fc29" stroke="#29fc29" stroke-width="0.7" fill-rule="evenodd"/><path d="M950.8 1977.7 952.5 1977.7 954.5 2003.2 956.2 2012.2 958.3 2018.2 961.3 2023.3 965.8 2028.3 970.3 2031.5 974.8 2033.4 985.3 2034.6 1049.8 2034.6 1058.8 2033.8 1064.8 2031.8 1069.3 2029.1 1073.8 2025.3 1078.3 2019.9 1080.8 2015.2 1082.8 2009.2 1084.3 2000.2 1085.3 1977.7 1088.4 1977.7 1088.4 2004.7 1087.4 2013.7 1085.8 2020.5 1082.8 2028.0 1070.8 2050.1 1066.3 2055.7 1061.8 2058.5 1055.8 2059.9 1046.8 2060.2 986.8 2060.2 977.8 2059.3 973.3 2057.0 968.8 2051.8 959.8 2033.7 955.3 2022.7 953.7 2016.7 952.1 2006.2 950.7 1988.2 950.4 1977.7Z" fill="#33fd33" stroke="#33fd33" stroke-width="0.7" fill-rule="evenodd"/><path d="M949.3 1977.7 950.4 1977.7 951.8 2003.2 954.1 2018.2 958.3 2030.4 968.8 2051.8 973.3 2057.0 977.8 2059.3 983.8 2060.1 1001.8 2060.3 1054.3 2060.0 1061.8 2058.5 1066.3 2055.7 1069.3 2052.4 1072.3 2047.5 1082.8 2028.0 1085.8 2020.5 1087.4 2013.7 1088.4 2004.7 1088.4 1977.7 1091.0 1977.7 1092.0 2000.2 1091.9 2012.2 1090.7 2022.7 1086.3 2043.7 1086.2 2052.7 1087.8 2070.7 1087.3 2075.8 1085.6 2079.7 1084.3 2081.3 1081.3 2083.2 1075.3 2084.3 1055.8 2083.6 979.3 2083.5 971.8 2082.6 967.7 2081.2 965.1 2079.7 961.3 2075.2 959.7 2070.7 957.0 2043.7 951.2 2016.7 949.3 1994.7 948.7 1977.7Z" fill="#3dfd3d" stroke="#3dfd3d" stroke-width="0.7" fill-rule="evenodd"/><path d="M947.8 1977.7 948.7 1977.7 949.4 1995.7 950.8 2013.9 952.3 2022.9 957.0 2043.7 959.4 2069.2 961.3 2075.2 964.3 2079.0 967.3 2081.0 970.3 2082.2 979.3 2083.5 1055.8 2083.6 1075.3 2084.3 1079.8 2083.7 1082.8 2082.5 1085.8 2079.4 1087.5 2075.2 1087.8 2069.2 1086.3 2054.2 1086.2 2045.2 1091.5 2016.7 1092.0 2003.2 1091.0 1977.7 1093.3 1977.7 1095.6 2012.2 1094.0 2045.2 1094.9 2052.7 1098.0 2067.7 1098.6 2073.7 1097.6 2081.2 1095.6 2085.7 1093.6 2088.7 1090.3 2091.9 1085.8 2094.5 1081.3 2095.7 1075.3 2096.1 977.8 2095.5 967.3 2094.0 962.8 2092.3 959.8 2090.4 956.8 2087.2 955.3 2084.5 953.8 2080.1 953.1 2075.2 953.2 2045.2 948.7 2010.7 947.4 1983.7 947.3 1977.7Z" fill="#47fd47" stroke="#47fd47" stroke-width="0.7" fill-rule="evenodd"/><path d="M946.3 1977.7 947.3 1977.7 948.0 1998.7 949.3 2016.7 953.1 2043.7 952.8 2069.2 953.2 2076.7 955.3 2084.5 956.8 2087.2 959.6 2090.2 962.8 2092.3 967.3 2094.0 977.8 2095.5 1075.3 2096.1 1084.3 2095.0 1090.3 2091.9 1093.3 2089.0 1095.6 2085.7 1098.3 2078.2 1098.3 2069.2 1094.9 2052.7 1094.0 2043.7 1095.6 2012.2 1093.3 1977.7 1095.5 1977.7 1098.9 2009.2 1100.8 2041.3 1102.5 2049.7 1107.5 2066.2 1108.5 2072.2 1108.4 2078.2 1107.5 2082.7 1105.6 2087.2 1102.9 2091.7 1097.8 2097.2 1091.8 2101.3 1085.8 2103.6 1078.3 2104.7 977.8 2104.5 967.3 2103.3 962.8 2101.9 958.3 2099.4 955.3 2096.8 952.3 2092.2 950.5 2087.2 949.2 2079.7 949.0 2070.7 950.4 2043.7 947.2 2010.7 946.1 1985.2 945.9 1977.7ZM1210.3 2062.8 1213.3 2062.9 1216.3 2065.5 1218.0 2069.2 1218.6 2073.7 1217.6 2078.2 1214.8 2082.5 1211.8 2084.9 1208.8 2085.7 1205.8 2084.8 1203.6 2082.7 1202.3 2079.7 1201.9 2075.2 1202.8 2071.2 1204.6 2067.7 1207.3 2064.5Z" fill="#52fd52" stroke="#52fd52" stroke-width="0.7" fill-rule="evenodd"/><path d="M944.8 1977.7 945.9 1977.7 947.3 2012.2 950.3 2042.2 950.3 2052.7 949.0 2072.2 949.3 2080.9 950.5 2087.2 952.3 2092.2 955.3 2096.8 958.3 2099.4 962.8 2101.9 967.3 2103.3 977.8 2104.5 1075.3 2104.8 1081.3 2104.4 1087.3 2103.1 1092.8 2100.7 1097.8 2097.2 1102.9 2091.7 1106.4 2085.7 1108.2 2079.7 1108.6 2073.7 1107.5 2066.2 1102.5 2049.7 1100.8 2041.3 1098.9 2009.2 1095.5 1977.7 1097.6 1977.7 1104.3 2022.7 1106.8 2035.3 1109.8 2044.5 1116.5 2060.2 1118.9 2069.2 1119.4 2076.7 1118.7 2082.7 1116.6 2088.7 1114.1 2093.2 1107.3 2100.7 1099.3 2106.2 1090.8 2109.7 1081.3 2111.4 976.3 2111.6 964.3 2109.9 956.8 2106.6 952.3 2102.4 949.6 2097.7 947.7 2091.7 946.3 2083.6 946.1 2072.2 947.9 2052.7 948.2 2042.2 945.9 2010.7ZM1211.8 2037.6 1214.8 2037.0 1217.8 2038.9 1219.9 2042.2 1222.3 2047.5 1226.9 2063.2 1227.6 2069.2 1227.3 2075.2 1226.1 2079.7 1223.8 2084.2 1214.8 2096.4 1211.8 2099.1 1208.8 2100.8 1205.8 2101.6 1201.3 2101.5 1198.3 2100.7 1195.3 2098.9 1193.0 2096.2 1191.6 2093.2 1190.0 2084.2 1190.5 2073.7 1192.4 2066.2 1196.8 2057.2 1205.8 2043.7 1208.8 2040.0ZM1209.4 2063.2 1207.1 2064.7 1204.3 2068.1 1202.5 2072.2 1201.8 2076.7 1202.3 2079.7 1203.6 2082.7 1205.8 2084.8 1208.8 2085.7 1211.8 2084.9 1214.8 2082.5 1217.6 2078.2 1218.6 2073.7 1217.8 2068.4 1215.6 2064.7 1213.3 2062.9 1211.8 2062.6Z" fill="#5cfd5c" stroke="#5cfd5c" stroke-width="0.7" fill-rule="evenodd"/><path d="M944.8 1979.2 946.0 2012.2 948.2 2042.2 947.9 2052.7 946.1 2072.2 946.3 2083.6 947.7 2091.7 949.6 2097.7 952.3 2102.4 956.8 2106.6 964.3 2109.9 976.3 2111.6 1078.3 2111.6 1087.3 2110.6 1094.8 2108.3 1102.3 2104.4 1108.3 2099.8 1114.1 2093.2 1117.3 2087.2 1119.2 2079.7 1119.3 2072.2 1117.0 2061.7 1109.5 2043.7 1106.3 2033.2 1099.1 1989.7 1097.6 1977.7 1099.7 1977.7 1103.1 1997.2 1107.2 2015.2 1110.3 2025.7 1114.3 2034.7 1123.7 2051.2 1126.3 2057.2 1128.7 2064.7 1130.2 2073.7 1130.3 2084.2 1129.0 2091.7 1126.3 2097.7 1123.8 2100.7 1120.2 2103.7 1108.3 2110.4 1094.8 2115.0 1082.8 2117.1 1069.3 2117.4 976.3 2117.3 964.3 2115.9 959.8 2114.5 955.3 2112.4 950.8 2108.7 947.7 2103.7 945.3 2096.2 943.7 2085.7 943.6 2073.7 945.9 2052.7 946.3 2043.7 943.6 1977.7 944.7 1977.7ZM1208.8 1977.7 1225.7 1977.7 1226.0 2010.7 1231.7 2060.2 1231.9 2073.7 1230.7 2079.7 1228.3 2085.1 1217.8 2101.3 1213.3 2106.9 1210.3 2109.2 1205.8 2110.9 1199.8 2111.5 1192.3 2111.3 1187.8 2110.3 1184.8 2108.7 1182.7 2106.7 1181.4 2103.7 1181.2 2097.7 1183.1 2081.2 1185.1 2069.2 1187.8 2060.2 1192.3 2050.4 1204.7 2027.2 1209.0 2015.2 1210.0 2009.2 1210.3 2001.7ZM1211.7 2037.7 1208.8 2040.0 1205.8 2043.7 1196.8 2057.2 1192.4 2066.2 1190.5 2073.7 1190.0 2084.2 1191.6 2093.2 1193.0 2096.2 1195.3 2098.9 1198.3 2100.7 1201.3 2101.5 1205.8 2101.6 1208.8 2100.8 1211.8 2099.1 1214.8 2096.4 1223.8 2084.2 1226.1 2079.7 1227.3 2075.2 1227.6 2069.2 1226.8 2062.7 1223.8 2051.7 1220.8 2043.9 1219.1 2040.7 1216.3 2037.6 1213.3 2037.1Z" fill="#66fd66" stroke="#66fd66" stroke-width="0.7" fill-rule="evenodd"/><path d="M943.3 1977.7 946.3 2042.2 945.9 2052.7 943.5 2075.2 944.0 2088.7 946.0 2099.2 949.3 2106.7 953.8 2111.4 959.8 2114.5 968.8 2116.7 979.3 2117.4 1082.8 2117.1 1093.3 2115.4 1106.4 2111.2 1115.5 2106.7 1123.8 2100.7 1127.2 2096.2 1129.7 2088.7 1130.4 2078.2 1129.3 2067.7 1127.4 2060.2 1124.4 2052.7 1113.5 2033.2 1109.8 2024.3 1106.8 2013.6 1102.3 1993.5 1099.7 1977.7 1101.8 1977.7 1105.3 1994.8 1109.8 2010.2 1112.8 2018.3 1117.3 2026.8 1129.4 2042.2 1133.8 2049.7 1137.3 2058.7 1142.3 2078.2 1144.5 2084.2 1147.4 2088.7 1151.8 2092.5 1157.8 2095.0 1162.3 2095.7 1166.8 2094.9 1169.8 2093.2 1172.6 2090.2 1174.3 2087.3 1176.7 2081.2 1181.0 2064.7 1184.6 2054.2 1199.2 2024.2 1201.7 2015.2 1202.6 2006.2 1202.3 1994.2 1200.6 1977.7 1208.6 1977.7 1210.3 2000.2 1210.0 2009.2 1209.0 2015.2 1204.7 2027.2 1190.8 2053.4 1186.8 2063.2 1183.9 2075.2 1181.2 2097.7 1181.4 2103.7 1182.7 2106.7 1184.1 2108.2 1186.4 2109.7 1189.3 2110.7 1198.3 2111.6 1207.3 2110.5 1210.3 2109.2 1213.3 2106.9 1217.8 2101.3 1226.8 2087.6 1229.5 2082.7 1231.1 2078.2 1232.1 2072.2 1232.0 2064.7 1226.1 2012.2 1225.7 1977.7 1236.2 1977.7 1234.7 2036.2 1235.3 2069.2 1234.5 2076.7 1232.9 2082.7 1229.8 2088.8 1216.3 2110.4 1213.3 2113.5 1210.3 2115.4 1202.8 2117.4 1187.8 2118.1 1181.8 2117.5 1169.8 2114.7 1163.8 2113.9 1130.8 2113.6 1120.3 2114.6 1091.8 2120.9 1078.3 2122.2 977.8 2122.2 967.3 2121.4 958.3 2119.2 953.8 2117.2 950.8 2115.2 946.3 2109.9 943.3 2102.2 941.8 2093.2 941.1 2084.2 941.2 2075.2 944.1 2052.7 944.7 2042.2 942.6 1980.7 942.5 1977.7Z" fill="#70fd70" stroke="#70fd70" stroke-width="0.7" fill-rule="evenodd"/><path d="M941.8 1977.7 942.5 1977.7 944.7 2040.7 944.1 2052.7 941.2 2075.2 941.1 2084.2 941.8 2093.2 943.3 2102.2 946.3 2109.9 950.8 2115.2 953.8 2117.2 958.3 2119.2 967.3 2121.4 977.8 2122.2 1075.3 2122.3 1091.8 2120.9 1118.8 2114.9 1127.8 2113.7 1163.8 2113.9 1169.8 2114.7 1181.8 2117.5 1189.3 2118.2 1202.8 2117.4 1210.3 2115.4 1214.8 2112.1 1217.9 2108.2 1231.3 2086.1 1234.2 2078.2 1235.3 2067.7 1234.7 2036.2 1236.2 1977.7 1242.0 1977.7 1241.0 2004.7 1238.3 2042.2 1237.6 2070.7 1236.9 2076.7 1235.4 2082.7 1232.8 2088.7 1217.8 2114.3 1214.8 2117.4 1211.8 2119.5 1207.3 2121.2 1202.8 2122.1 1184.8 2123.3 1165.3 2122.0 1123.3 2121.2 1114.3 2122.1 1087.3 2126.2 1072.3 2126.8 977.8 2126.7 965.8 2125.7 956.8 2123.4 949.3 2119.5 944.3 2114.2 941.5 2108.2 939.5 2097.7 938.8 2087.2 939.0 2076.7 942.5 2051.2 943.2 2040.7ZM1102.3 1977.7 1104.0 1977.7 1105.8 1986.7 1108.9 1997.2 1112.8 2007.7 1117.3 2016.9 1123.3 2024.9 1135.2 2036.2 1140.2 2042.2 1144.4 2049.7 1151.0 2066.2 1154.8 2073.2 1159.3 2077.6 1163.8 2079.1 1166.8 2078.5 1168.3 2077.6 1171.3 2074.0 1182.6 2046.7 1194.7 2022.7 1196.7 2015.2 1197.7 2006.2 1197.5 1994.2 1195.9 1977.7 1200.6 1977.7 1202.2 1992.7 1202.6 2003.2 1202.2 2012.2 1200.7 2019.7 1197.3 2028.7 1188.7 2045.2 1184.0 2055.7 1175.0 2085.7 1172.6 2090.2 1168.3 2094.2 1165.3 2095.4 1162.3 2095.7 1156.3 2094.6 1150.3 2091.4 1147.4 2088.7 1145.3 2085.7 1142.8 2079.7 1137.7 2060.2 1133.8 2049.7 1129.4 2042.2 1117.3 2026.8 1112.1 2016.7 1108.3 2005.4 1104.4 1991.2 1102.3 1981.2 1101.8 1977.7Z" fill="#7afd7a" stroke="#7afd7a" stroke-width="0.7" fill-rule="evenodd"/><path d="M941.5 1979.2 943.2 2040.7 942.5 2051.2 939.0 2076.7 938.8 2087.2 939.5 2097.7 941.5 2108.2 944.3 2114.2 949.3 2119.5 956.8 2123.4 965.8 2125.7 977.8 2126.7 1075.3 2126.8 1088.8 2126.0 1121.8 2121.3 1165.3 2122.0 1187.8 2123.3 1204.3 2121.9 1211.8 2119.5 1216.3 2116.0 1219.9 2111.2 1232.8 2088.7 1236.3 2079.7 1237.7 2069.2 1238.3 2042.2 1241.0 2004.7 1242.0 1977.7 1246.5 1977.7 1245.3 2003.2 1241.3 2042.2 1239.6 2070.7 1238.6 2078.2 1237.1 2084.2 1234.3 2090.6 1219.3 2117.4 1216.3 2120.7 1212.8 2123.2 1208.8 2124.9 1202.8 2126.2 1183.3 2127.9 1120.3 2126.9 1085.8 2130.7 1072.3 2131.1 977.8 2131.1 965.8 2130.0 956.8 2127.9 949.3 2124.4 945.8 2121.7 942.9 2118.7 940.9 2115.7 938.9 2111.2 937.1 2102.2 936.5 2088.7 936.8 2076.7 940.7 2052.7 941.7 2040.7 940.4 1977.7 941.5 1977.7ZM1105.3 1977.7 1106.3 1977.7 1108.3 1986.7 1112.8 1999.0 1116.2 2006.2 1120.3 2013.1 1126.3 2019.9 1139.3 2030.2 1144.1 2034.7 1150.2 2042.2 1159.3 2056.3 1162.3 2059.2 1165.3 2060.3 1168.3 2059.3 1172.8 2054.0 1187.3 2028.7 1190.7 2021.2 1192.8 2013.7 1193.6 2004.7 1193.6 1994.2 1192.5 1977.7 1195.9 1977.7 1197.4 1992.7 1197.7 2003.2 1197.2 2012.2 1195.7 2019.7 1192.7 2027.2 1181.9 2048.2 1172.8 2071.1 1169.8 2076.1 1167.3 2078.2 1163.8 2079.1 1160.8 2078.4 1157.8 2076.5 1155.2 2073.7 1151.8 2068.1 1144.4 2049.7 1140.2 2042.2 1135.2 2036.2 1123.3 2024.9 1117.3 2016.9 1112.2 2006.2 1107.0 1991.2 1104.0 1977.7Z" fill="#85fe85" stroke="#85fe85" stroke-width="0.7" fill-rule="evenodd"/><path d="M940.3 1977.7 941.8 2039.2 940.9 2051.2 937.5 2070.7 936.7 2078.2 936.5 2090.2 937.1 2102.2 938.8 2110.9 941.8 2117.2 944.8 2120.8 947.8 2123.3 955.3 2127.3 964.3 2129.8 976.3 2131.0 1075.3 2131.1 1087.3 2130.5 1109.8 2127.8 1121.8 2126.9 1187.8 2127.8 1203.1 2126.2 1211.8 2123.7 1216.3 2120.7 1220.8 2115.2 1234.3 2090.6 1238.0 2081.2 1239.5 2072.2 1241.3 2042.2 1244.9 2007.7 1246.5 1977.7 1250.6 1977.7 1249.9 1991.2 1248.1 2010.7 1243.8 2043.7 1241.1 2073.7 1238.5 2085.7 1235.8 2092.1 1223.8 2115.2 1219.5 2121.7 1216.3 2124.9 1211.8 2127.7 1202.8 2130.2 1190.8 2131.7 1178.8 2132.4 1117.3 2132.1 1085.8 2135.0 1072.3 2135.4 976.3 2135.3 965.8 2134.4 955.3 2131.7 950.8 2129.7 946.3 2127.0 940.3 2121.2 936.3 2114.2 934.3 2105.2 933.9 2093.2 934.5 2078.2 935.5 2070.7 939.1 2052.7 940.3 2040.7 940.5 2024.2 939.4 1977.7ZM1106.8 1977.7 1108.6 1977.7 1110.4 1985.2 1114.3 1994.9 1118.8 2003.2 1124.4 2010.7 1129.3 2015.3 1145.8 2027.4 1160.8 2042.5 1163.8 2044.4 1166.8 2045.1 1171.3 2043.3 1175.8 2038.6 1182.7 2028.7 1187.2 2019.7 1189.2 2012.2 1190.1 2004.7 1190.3 1994.2 1189.7 1977.7 1192.5 1977.7 1193.7 2003.2 1193.2 2010.7 1191.7 2018.2 1188.1 2027.2 1175.8 2048.9 1171.3 2056.2 1168.3 2059.3 1165.3 2060.3 1163.8 2060.0 1160.8 2058.0 1157.8 2054.3 1150.2 2042.2 1145.5 2036.2 1139.3 2030.2 1127.8 2021.3 1121.8 2015.1 1116.2 2006.2 1111.3 1995.3 1107.5 1983.7 1106.3 1977.7Z" fill="#8ffe8f" stroke="#8ffe8f" stroke-width="0.7" fill-rule="evenodd"/><path d="M938.8 1977.7 939.4 1977.7 940.4 2039.2 939.3 2051.2 935.5 2070.7 934.5 2078.2 933.9 2093.2 934.3 2105.2 936.3 2114.2 940.3 2121.2 946.3 2127.0 950.8 2129.7 955.3 2131.7 965.8 2134.4 976.3 2135.3 1076.8 2135.4 1118.8 2132.0 1184.8 2132.1 1204.3 2129.9 1208.8 2128.8 1213.3 2126.9 1218.1 2123.2 1222.6 2117.2 1235.8 2092.1 1239.4 2082.7 1241.1 2073.7 1243.8 2043.7 1248.5 2007.7 1250.6 1977.7 1254.4 1977.7 1253.7 1991.2 1251.4 2010.7 1246.0 2045.2 1242.3 2076.7 1239.2 2088.7 1225.4 2117.2 1220.8 2124.5 1217.8 2127.6 1213.3 2130.8 1208.8 2132.7 1201.3 2134.4 1177.3 2136.9 1115.8 2137.1 1103.8 2137.6 1084.3 2139.5 1073.8 2139.8 976.3 2139.7 965.8 2138.8 955.3 2136.1 946.3 2131.6 938.5 2124.7 935.3 2120.2 933.1 2115.7 931.2 2106.7 931.0 2094.7 932.1 2078.2 933.3 2070.7 937.5 2052.7 938.9 2040.7 939.2 2019.7 938.4 1977.7ZM1109.8 1977.7 1111.0 1977.7 1113.2 1985.2 1117.3 1994.0 1121.8 2000.9 1126.3 2006.0 1130.8 2009.8 1145.8 2020.0 1160.8 2033.1 1163.8 2034.8 1166.8 2035.5 1171.3 2034.4 1175.8 2030.8 1180.3 2025.0 1183.8 2018.2 1185.7 2012.2 1187.0 2003.2 1187.4 1977.7 1189.7 1977.7 1190.2 2001.7 1189.7 2009.2 1188.6 2015.2 1186.6 2021.2 1183.3 2027.7 1177.3 2036.7 1172.8 2042.0 1168.3 2044.9 1165.3 2045.0 1162.3 2043.6 1159.3 2041.2 1145.5 2027.2 1130.8 2016.5 1124.8 2011.2 1118.8 2003.2 1113.3 1992.7 1109.2 1980.7 1108.6 1977.7Z" fill="#99fe99" stroke="#99fe99" stroke-width="0.7" fill-rule="evenodd"/><path d="M938.4 1979.2 939.2 2018.2 939.0 2039.2 937.5 2052.7 933.3 2070.7 932.1 2078.2 931.0 2096.2 931.3 2108.2 933.7 2117.2 938.5 2124.7 946.3 2131.6 955.3 2136.1 965.8 2138.8 976.3 2139.7 1078.3 2139.7 1114.3 2137.1 1180.3 2136.7 1202.8 2134.1 1208.8 2132.7 1213.3 2130.8 1219.3 2126.2 1223.8 2120.1 1237.3 2093.3 1240.3 2085.7 1242.3 2076.7 1245.8 2046.7 1251.8 2007.7 1253.7 1991.2 1254.4 1977.7 1258.3 1977.7 1257.4 1991.2 1255.0 2009.2 1247.8 2047.8 1243.6 2078.2 1240.5 2090.2 1226.8 2119.7 1220.8 2128.8 1216.3 2132.9 1211.8 2135.5 1207.3 2137.1 1199.8 2138.7 1184.8 2140.9 1171.3 2141.9 1109.8 2142.1 1084.3 2143.9 1072.3 2144.2 976.3 2144.1 964.3 2143.0 953.8 2140.2 947.8 2137.3 943.3 2134.2 935.1 2126.2 932.0 2121.7 929.8 2117.2 927.8 2108.2 927.8 2096.2 929.2 2079.7 930.9 2070.7 935.8 2052.6 937.5 2040.7 938.1 2018.2 937.3 1977.7 938.4 1977.7ZM1111.3 1977.7 1113.6 1977.7 1115.5 1983.7 1118.5 1989.7 1121.8 1994.7 1126.3 1999.8 1132.3 2004.5 1145.8 2013.3 1159.3 2024.8 1163.8 2027.5 1166.8 2028.2 1171.3 2027.4 1174.3 2025.3 1177.9 2021.2 1181.1 2015.2 1183.0 2009.2 1184.2 2001.7 1185.2 1977.7 1187.4 1977.7 1187.4 1995.7 1186.3 2009.2 1183.8 2018.2 1178.8 2027.2 1174.3 2032.3 1169.8 2035.1 1165.3 2035.3 1162.3 2034.1 1159.3 2032.1 1145.8 2020.0 1130.8 2009.8 1123.3 2002.8 1118.8 1996.5 1115.1 1989.7 1112.1 1982.2Z" fill="#a3fea3" stroke="#a3fea3" stroke-width="0.7" fill-rule="evenodd"/><path d="M937.3 1977.7 938.1 2018.2 937.5 2040.7 935.8 2052.6 930.9 2070.7 929.2 2079.7 927.8 2096.2 927.8 2108.2 929.8 2117.2 932.0 2121.7 935.1 2126.2 943.3 2134.2 947.8 2137.3 953.8 2140.2 964.3 2143.0 976.3 2144.1 1078.3 2144.2 1109.8 2142.1 1175.8 2141.7 1201.3 2138.5 1208.8 2136.6 1213.3 2134.7 1219.3 2130.4 1225.3 2122.4 1238.6 2094.7 1241.5 2087.2 1243.6 2078.2 1247.8 2047.8 1255.2 2007.7 1257.4 1991.2 1258.3 1977.7 1262.2 1977.7 1261.3 1989.7 1258.9 2006.2 1249.6 2049.7 1244.6 2081.2 1241.6 2091.7 1228.4 2121.7 1222.3 2131.5 1217.8 2135.9 1213.3 2138.9 1207.3 2141.3 1198.3 2143.4 1181.8 2145.9 1169.8 2147.0 1106.8 2147.0 1073.8 2148.7 976.3 2148.6 964.3 2147.6 953.8 2145.0 947.8 2142.3 943.3 2139.4 937.3 2134.3 932.8 2129.4 929.3 2124.7 926.9 2120.2 925.3 2115.7 924.2 2109.7 924.1 2097.7 926.2 2079.7 927.8 2072.2 934.0 2052.7 936.0 2040.7 936.9 2016.7 936.2 1977.7ZM1114.3 1977.7 1116.4 1977.7 1118.0 1982.2 1120.3 1986.7 1123.3 1990.8 1127.8 1995.3 1132.3 1998.6 1145.8 2006.8 1160.8 2019.3 1163.8 2020.9 1166.8 2021.7 1169.8 2021.4 1172.9 2019.7 1175.8 2016.7 1178.8 2011.3 1180.8 2004.7 1182.0 1997.2 1183.2 1977.7 1185.2 1977.7 1184.8 1994.2 1183.6 2006.2 1181.7 2013.7 1177.9 2021.2 1174.3 2025.3 1169.8 2027.9 1165.3 2028.0 1160.8 2025.9 1145.8 2013.3 1130.8 2003.5 1124.8 1998.3 1120.3 1992.6 1117.3 1987.6 1114.4 1980.7 1113.6 1977.7Z" fill="#adfead" stroke="#adfead" stroke-width="0.7" fill-rule="evenodd"/><path d="M935.8 1977.7 936.2 1977.7 936.9 2009.2 936.3 2036.2 934.3 2051.2 927.5 2073.7 925.1 2087.2 924.1 2097.7 923.9 2106.7 924.6 2112.7 926.3 2118.7 930.3 2126.2 937.3 2134.3 944.8 2140.5 952.3 2144.5 961.3 2147.1 970.3 2148.3 1001.8 2148.7 1075.3 2148.6 1106.8 2147.0 1171.3 2146.9 1184.8 2145.5 1201.3 2142.8 1208.8 2140.8 1214.8 2138.0 1220.8 2133.2 1226.8 2124.8 1239.8 2096.2 1242.6 2088.7 1245.1 2078.2 1250.2 2046.7 1258.9 2006.2 1261.3 1989.7 1262.2 1977.7 1266.3 1977.7 1265.3 1989.7 1262.7 2004.7 1251.4 2051.2 1246.4 2079.7 1244.2 2088.7 1241.0 2097.7 1228.9 2126.2 1223.8 2134.3 1217.8 2140.5 1211.8 2144.1 1204.3 2146.6 1187.8 2149.9 1172.8 2151.8 1105.3 2151.9 1081.3 2153.0 1052.8 2153.1 976.3 2153.0 967.3 2152.5 958.3 2151.2 949.3 2148.4 941.8 2144.0 933.7 2136.7 926.3 2127.7 923.0 2121.7 921.0 2115.7 919.9 2108.2 920.1 2099.2 921.3 2087.2 923.3 2076.7 931.5 2054.2 934.3 2041.3 935.6 2021.2 935.0 1977.7ZM1117.3 1977.7 1119.6 1977.7 1123.3 1985.0 1129.3 1991.1 1147.2 2001.7 1160.8 2012.8 1163.8 2014.5 1166.8 2015.2 1169.8 2014.8 1171.7 2013.7 1174.3 2011.0 1176.2 2007.7 1178.3 2001.7 1179.6 1995.7 1181.3 1977.7 1183.2 1977.7 1182.6 1991.2 1181.3 2001.7 1179.5 2009.2 1176.8 2015.2 1172.9 2019.7 1169.8 2021.4 1165.3 2021.4 1160.8 2019.3 1145.8 2006.8 1132.3 1998.6 1126.3 1994.0 1122.4 1989.7 1119.5 1985.2 1116.4 1977.7Z" fill="#b8feb8" stroke="#b8feb8" stroke-width="0.7" fill-rule="evenodd"/><path d="M934.3 1977.7 935.0 1977.7 935.7 2007.7 934.8 2036.2 932.4 2051.2 924.2 2073.7 921.6 2085.7 920.2 2097.7 919.9 2106.7 920.7 2114.2 922.4 2120.2 926.3 2127.7 933.7 2136.7 941.8 2144.0 949.3 2148.4 956.8 2150.9 967.3 2152.5 1001.8 2153.1 1075.3 2153.1 1105.3 2151.9 1171.3 2151.9 1183.3 2150.6 1201.3 2147.4 1210.3 2144.7 1216.3 2141.5 1222.3 2136.2 1228.3 2127.3 1232.3 2118.7 1243.3 2091.7 1246.1 2081.2 1251.7 2049.7 1262.7 2004.7 1265.3 1989.7 1266.3 1977.7 1270.8 1977.7 1269.5 1989.7 1266.8 2003.2 1253.1 2052.7 1247.3 2082.7 1244.9 2091.7 1234.3 2119.9 1230.3 2129.2 1225.3 2137.5 1219.3 2144.1 1213.3 2148.1 1204.3 2151.4 1187.8 2154.9 1172.8 2156.9 1159.3 2157.3 1105.3 2156.9 1079.8 2157.6 1052.8 2157.7 974.8 2157.6 964.3 2157.0 955.3 2155.6 946.3 2152.8 938.8 2148.3 929.8 2139.7 922.6 2130.7 918.5 2123.2 916.3 2115.7 915.4 2108.2 915.7 2097.7 917.2 2085.7 919.2 2076.7 921.4 2070.7 929.7 2052.7 932.6 2040.7 934.3 2019.7 933.8 1977.7ZM1120.3 1977.7 1123.4 1977.7 1127.3 1983.7 1132.3 1987.8 1147.3 1996.0 1162.3 2007.2 1166.8 2008.6 1169.8 2007.8 1171.3 2006.7 1174.3 2002.5 1177.5 1992.7 1179.3 1977.7 1181.3 1977.7 1180.6 1988.2 1179.3 1997.2 1177.4 2004.7 1175.4 2009.2 1172.8 2012.8 1169.8 2014.8 1166.8 2015.2 1162.3 2013.8 1147.3 2001.7 1132.3 1993.1 1127.8 1989.9 1124.8 1986.9 1121.8 1982.7 1119.6 1977.7Z" fill="#c2fec2" stroke="#c2fec2" stroke-width="0.7" fill-rule="evenodd"/><path d="M932.8 1977.7 933.8 1977.7 934.4 2004.7 934.3 2021.2 933.3 2034.7 932.1 2043.7 930.2 2051.2 920.8 2072.2 917.5 2084.2 915.8 2096.2 915.4 2106.7 916.0 2114.2 918.0 2121.7 922.6 2130.7 929.8 2139.7 938.8 2148.3 946.3 2152.8 955.3 2155.6 965.8 2157.1 1001.8 2157.7 1076.8 2157.7 1105.3 2156.9 1169.8 2157.1 1181.8 2155.9 1199.8 2152.5 1208.8 2150.0 1216.3 2146.4 1220.8 2142.8 1223.8 2139.5 1229.5 2130.7 1233.6 2121.7 1243.4 2096.2 1247.0 2084.2 1250.8 2062.9 1253.8 2050.0 1266.8 2003.2 1269.5 1989.7 1270.8 1977.7 1276.1 1977.7 1275.0 1986.7 1272.2 1998.7 1268.3 2012.2 1261.0 2033.2 1255.3 2052.7 1252.3 2064.5 1248.2 2085.7 1245.2 2096.2 1235.8 2122.7 1231.3 2133.4 1225.8 2142.7 1220.3 2148.7 1213.3 2153.1 1204.3 2156.3 1187.8 2160.1 1172.8 2162.3 1159.3 2162.6 1103.8 2162.1 1052.8 2162.7 973.3 2162.6 961.3 2161.9 950.8 2160.3 941.8 2157.4 934.3 2152.9 926.6 2145.7 918.5 2135.2 913.8 2126.2 911.1 2117.2 910.1 2108.2 910.5 2096.2 912.2 2084.2 914.6 2075.2 917.3 2069.2 926.8 2052.9 929.1 2046.7 930.9 2039.2 932.2 2028.7 932.9 2016.7 932.4 1977.7ZM1124.8 1977.7 1128.5 1977.7 1131.0 1980.7 1135.3 1984.0 1148.8 1991.3 1160.8 1999.8 1163.8 2001.3 1166.8 2001.6 1169.8 2000.3 1172.8 1996.5 1175.8 1987.9 1177.3 1977.7 1179.3 1977.7 1177.5 1992.7 1174.3 2002.5 1171.3 2006.7 1168.3 2008.4 1165.3 2008.4 1162.3 2007.2 1147.3 1996.0 1133.8 1988.7 1129.3 1985.6 1126.1 1982.2 1123.4 1977.7Z" fill="#ccfecc" stroke="#ccfecc" stroke-width="0.7" fill-rule="evenodd"/><path d="M931.3 1977.7 932.4 1977.7 933.1 2006.2 932.8 2021.2 931.5 2034.7 929.9 2043.7 928.1 2049.7 925.3 2055.9 915.8 2072.2 912.5 2082.7 910.7 2094.7 910.1 2106.7 910.8 2115.7 913.2 2124.7 918.5 2135.2 926.6 2145.7 934.3 2152.9 942.5 2157.7 950.8 2160.3 962.8 2162.0 974.8 2162.6 1001.8 2162.7 1076.8 2162.6 1103.8 2162.1 1169.8 2162.5 1181.8 2161.2 1199.8 2157.5 1210.3 2154.4 1217.8 2150.6 1221.9 2147.2 1225.3 2143.4 1231.2 2133.7 1235.8 2122.7 1245.2 2096.2 1248.2 2085.7 1252.3 2064.5 1255.3 2052.7 1261.0 2033.2 1268.3 2012.2 1272.2 1998.7 1275.0 1986.7 1276.1 1977.7 1283.8 1977.7 1281.7 1986.7 1277.2 2000.2 1265.8 2027.9 1261.3 2040.9 1254.2 2064.7 1248.3 2091.7 1238.3 2123.2 1233.2 2136.7 1228.3 2145.9 1223.8 2151.5 1219.3 2155.2 1213.3 2158.5 1207.3 2160.7 1193.8 2164.5 1180.3 2167.4 1171.3 2168.4 1159.3 2168.8 964.3 2168.3 950.8 2167.2 940.3 2165.1 931.3 2161.4 925.3 2157.3 919.7 2151.7 915.4 2145.7 911.1 2138.2 907.8 2130.7 905.3 2123.2 904.1 2117.2 903.3 2109.7 903.3 2102.2 905.0 2085.7 907.7 2075.2 910.9 2069.2 923.8 2051.7 926.8 2045.2 928.5 2039.2 930.3 2028.7 931.3 2016.9 931.4 2000.2 930.8 1977.7ZM1129.3 1977.7 1136.6 1977.7 1159.3 1992.6 1162.3 1994.1 1165.3 1994.7 1168.3 1993.9 1170.8 1991.2 1173.5 1985.2 1174.9 1977.7 1177.3 1977.7 1176.1 1986.7 1173.9 1994.2 1171.3 1998.8 1169.8 2000.3 1166.8 2001.6 1163.8 2001.3 1160.8 1999.8 1148.8 1991.3 1134.9 1983.7 1130.8 1980.5 1128.5 1977.7Z" fill="#d6ffd6" stroke="#d6ffd6" stroke-width="0.7" fill-rule="evenodd"/><path d="M929.8 1977.7 930.8 1977.7 931.4 2012.2 930.6 2025.7 928.8 2037.7 926.8 2045.1 923.8 2051.7 910.9 2069.2 907.7 2075.2 905.0 2085.7 903.3 2103.7 903.4 2111.2 904.3 2118.7 906.2 2126.2 908.4 2132.2 911.9 2139.7 916.3 2147.1 920.8 2152.9 925.3 2157.3 931.3 2161.4 940.3 2165.1 950.8 2167.2 964.3 2168.3 1159.3 2168.8 1171.3 2168.4 1180.3 2167.4 1193.8 2164.5 1205.8 2161.2 1213.3 2158.5 1219.3 2155.2 1223.8 2151.5 1227.4 2147.2 1232.8 2137.6 1238.3 2123.2 1248.3 2091.7 1254.2 2064.7 1261.3 2040.9 1265.8 2027.9 1277.2 2000.2 1281.7 1986.7 1283.8 1977.7 1297.9 1977.7 1289.8 1991.0 1271.8 2023.0 1267.3 2032.3 1256.8 2063.1 1249.7 2093.2 1237.3 2135.0 1234.3 2143.0 1231.3 2149.2 1228.3 2153.7 1223.8 2158.4 1216.3 2163.1 1204.3 2167.8 1186.3 2173.4 1172.8 2176.0 1159.3 2176.7 1052.8 2177.4 965.8 2177.4 944.8 2176.8 932.8 2175.9 925.3 2174.3 919.3 2171.3 913.9 2166.7 908.8 2159.9 905.2 2153.2 901.5 2144.2 897.1 2130.7 894.4 2120.2 893.0 2106.7 894.1 2087.2 895.8 2078.2 899.4 2070.7 903.3 2066.2 917.8 2052.8 922.3 2046.4 925.3 2039.4 927.9 2028.7 929.2 2018.2 929.6 2003.2 928.9 1977.7ZM1136.8 1977.7 1147.7 1977.7 1157.8 1985.3 1160.8 1986.9 1163.8 1987.7 1166.8 1987.2 1168.3 1986.1 1170.7 1982.2 1172.0 1977.7 1174.9 1977.7 1173.5 1985.2 1171.3 1990.5 1168.3 1993.9 1165.3 1994.7 1162.3 1994.1 1159.3 1992.6 1140.6 1980.7Z" fill="#e0ffe0" stroke="#e0ffe0" stroke-width="0.7" fill-rule="evenodd"/><path d="M926.8 1977.7 928.9 1977.7 929.6 2004.7 928.9 2021.2 926.8 2034.2 923.8 2043.3 919.3 2050.9 914.8 2056.0 901.9 2067.7 899.4 2070.7 896.9 2075.2 895.4 2079.7 894.1 2087.2 893.2 2097.7 893.1 2108.2 894.4 2120.2 897.5 2132.2 903.3 2148.7 908.4 2159.2 913.3 2166.0 919.3 2171.3 925.3 2174.3 932.8 2175.9 949.3 2177.0 976.3 2177.4 1079.8 2177.4 1165.3 2176.5 1174.3 2175.8 1183.3 2174.1 1195.3 2170.8 1208.8 2166.2 1217.8 2162.4 1223.8 2158.4 1228.7 2153.2 1232.8 2146.4 1236.2 2138.2 1240.6 2124.7 1250.1 2091.7 1256.8 2063.2 1265.8 2036.1 1271.8 2023.0 1289.8 1991.0 1297.9 1977.7 1322.8 1977.7 1322.8 2034.7 1319.8 2027.4 1313.8 2006.4 1311.0 2001.7 1307.8 1999.4 1303.3 1999.3 1298.8 2001.5 1294.3 2005.4 1277.8 2022.3 1273.3 2028.2 1269.1 2036.2 1259.8 2061.7 1256.8 2071.4 1251.7 2093.2 1239.4 2139.7 1236.6 2148.7 1233.2 2156.2 1228.3 2162.8 1222.3 2167.5 1216.3 2170.7 1192.3 2180.9 1180.3 2184.9 1169.8 2186.9 1119.4 2190.7 1081.3 2195.5 962.8 2195.8 929.8 2196.6 920.8 2196.0 914.8 2194.8 910.3 2193.1 905.8 2190.3 901.7 2186.2 896.8 2178.3 886.3 2153.6 886.3 2052.4 890.8 2054.9 893.8 2055.6 898.3 2055.6 904.3 2053.9 908.8 2051.8 913.6 2048.2 917.8 2043.6 920.8 2038.6 924.9 2027.2 926.8 2015.7 927.2 2003.2ZM1148.8 1977.7 1159.0 1977.7 1162.0 1979.2 1163.8 1979.4 1166.6 1977.7 1172.0 1977.7 1170.7 1982.2 1168.3 1986.1 1166.8 1987.2 1163.8 1987.7 1160.8 1986.9 1156.3 1984.3 1147.7 1977.7ZM934.3 2222.2 1078.3 2222.2 1093.3 2223.8 1111.3 2227.6 1118.8 2230.5 1125.4 2234.2 1130.3 2238.7 1133.1 2243.2 1135.1 2250.7 1136.2 2264.2 1136.1 2274.7 1134.7 2282.2 1132.3 2288.2 1129.4 2292.7 1125.5 2297.2 1120.3 2302.0 1114.3 2306.6 1109.8 2309.1 1105.3 2310.6 1100.8 2311.4 1088.8 2311.8 923.8 2311.8 914.8 2311.5 909.8 2310.7 904.3 2307.8 901.3 2304.4 897.9 2297.2 895.3 2286.8 894.3 2276.2 894.5 2265.7 895.7 2253.7 897.9 2243.2 899.8 2238.0 901.9 2234.2 904.3 2231.1 908.8 2227.4 913.3 2225.2 919.3 2223.5Z" fill="#ebffeb" stroke="#ebffeb" stroke-width="0.7" fill-rule="evenodd"/><path d="M923.8 1977.7 926.5 1977.7 927.1 2010.7 925.3 2025.6 921.9 2036.2 919.3 2041.3 916.3 2045.5 911.8 2049.8 907.3 2052.6 901.3 2054.9 896.8 2055.7 892.3 2055.4 889.3 2054.3 886.3 2052.4 886.3 2000.3 892.8 2024.2 896.8 2033.8 899.8 2037.4 902.8 2038.9 905.8 2039.1 910.3 2037.4 914.8 2033.2 917.8 2028.9 920.8 2022.5 922.3 2017.0 923.5 2003.2 922.8 1977.7ZM1159.3 1977.7 1166.6 1977.7 1163.8 1979.4 1160.8 1978.8ZM1301.8 1999.8 1304.8 1999.0 1307.8 1999.4 1310.8 2001.4 1312.3 2003.4 1314.8 2009.2 1319.7 2027.2 1322.8 2034.7 1322.8 2373.7 1316.0 2373.7 1319.6 2354.2 1321.1 2336.2 1322.6 2214.7 1321.8 2202.7 1313.4 2148.7 1313.0 2138.2 1313.2 2103.7 1311.7 2079.7 1308.7 2058.7 1305.2 2043.7 1302.4 2034.7 1300.3 2030.3 1297.8 2027.2 1294.3 2025.2 1291.3 2024.8 1288.3 2025.0 1283.8 2026.4 1277.8 2030.4 1273.3 2036.2 1268.8 2045.9 1261.3 2065.8 1258.3 2075.2 1249.3 2111.9 1240.3 2153.4 1237.5 2162.2 1234.3 2168.7 1229.8 2174.2 1225.3 2177.5 1206.7 2186.2 1173.4 2204.2 1169.1 2207.2 1167.2 2210.2 1167.6 2213.2 1170.2 2216.2 1186.3 2227.0 1192.3 2232.3 1195.6 2237.2 1197.4 2243.2 1197.5 2250.7 1194.7 2268.7 1194.3 2277.7 1195.1 2285.2 1199.5 2309.2 1200.0 2319.7 1199.7 2331.7 1198.9 2339.2 1196.8 2346.3 1193.8 2351.8 1189.3 2356.9 1186.3 2359.1 1181.8 2361.0 1175.8 2362.2 1169.8 2362.6 1148.8 2361.9 1112.8 2358.0 1093.3 2357.4 913.3 2357.5 901.3 2358.4 886.3 2361.7 886.3 2153.6 897.0 2178.7 899.8 2183.7 902.8 2187.5 907.3 2191.4 911.8 2193.7 917.8 2195.5 923.8 2196.4 1079.8 2195.6 1119.4 2190.7 1169.8 2186.9 1178.8 2185.3 1189.3 2182.1 1220.8 2168.4 1227.4 2163.7 1232.8 2156.9 1236.0 2150.2 1239.4 2139.7 1258.3 2066.2 1268.8 2036.8 1273.3 2028.2 1277.8 2022.3 1295.8 2003.9ZM933.0 2222.2 919.3 2223.5 913.3 2225.2 908.8 2227.4 904.3 2231.1 901.9 2234.2 899.5 2238.7 897.5 2244.7 895.3 2256.7 894.3 2268.7 894.4 2279.2 895.5 2288.2 897.9 2297.2 901.3 2304.4 904.3 2307.8 909.8 2310.7 914.8 2311.5 923.8 2311.8 1088.8 2311.8 1100.8 2311.4 1105.3 2310.6 1109.8 2309.1 1114.3 2306.6 1120.3 2302.0 1125.5 2297.2 1129.4 2292.7 1132.3 2288.2 1134.7 2282.2 1136.1 2274.7 1136.2 2264.2 1135.1 2250.7 1133.1 2243.2 1130.3 2238.7 1125.4 2234.2 1118.8 2230.5 1111.3 2227.6 1093.3 2223.8 1078.3 2222.2Z" fill="#f5fff5" stroke="#f5fff5" stroke-width="0.7" fill-rule="evenodd"/><path d="M898.3 1977.7 914.4 1977.7 914.2 1988.2 913.3 1996.8 911.8 2002.2 910.3 2004.6 908.8 2005.5 907.3 2005.3 905.8 2004.1 902.8 1998.7 899.8 1988.1ZM1280.8 2037.4 1283.8 2036.7 1286.8 2037.4 1289.3 2039.2 1291.7 2042.2 1293.8 2046.7 1295.8 2052.7 1299.6 2070.7 1301.5 2087.2 1302.4 2103.7 1301.9 2145.7 1302.3 2175.7 1301.5 2201.2 1298.2 2268.7 1296.9 2286.7 1295.3 2300.2 1292.8 2312.8 1289.1 2322.7 1286.8 2326.6 1283.8 2329.7 1279.3 2331.5 1276.3 2330.8 1274.8 2329.9 1270.9 2325.7 1267.3 2319.6 1263.9 2310.7 1262.1 2303.2 1260.3 2292.7 1255.2 2247.7 1253.1 2238.7 1249.8 2231.2 1244.8 2224.7 1237.3 2219.0 1231.3 2217.1 1220.8 2217.7 1216.3 2217.3 1213.6 2216.2 1211.7 2214.7 1210.3 2212.6 1209.7 2210.2 1210.3 2207.3 1211.4 2205.7 1214.8 2203.3 1219.3 2202.0 1228.3 2201.0 1232.8 2199.3 1237.3 2194.8 1240.2 2189.2 1242.0 2183.2 1243.7 2174.2 1246.9 2142.7 1249.0 2129.2 1253.8 2104.4 1258.3 2086.0 1262.8 2071.2 1271.8 2049.1 1276.3 2041.1ZM1280.2 2051.2 1277.8 2052.6 1276.3 2054.3 1271.8 2062.0 1265.8 2074.9 1261.3 2087.6 1258.2 2099.2 1255.3 2114.2 1252.5 2133.7 1251.6 2145.7 1252.5 2160.7 1256.8 2183.3 1260.3 2198.2 1269.3 2229.7 1274.8 2259.5 1276.3 2265.2 1277.8 2267.7 1279.3 2267.7 1280.8 2264.8 1282.3 2258.4 1291.6 2184.7 1294.6 2153.2 1295.9 2115.7 1294.9 2093.2 1293.0 2079.7 1290.4 2067.7 1288.3 2060.2 1285.3 2053.9 1282.3 2051.2Z" fill="#ffe6e6" stroke="#ffe6e6" stroke-width="0.7" fill-rule="evenodd"/><path d="M1280.8 2051.0 1283.8 2052.2 1286.3 2055.7 1288.8 2061.7 1291.2 2070.7 1295.1 2094.7 1295.9 2117.2 1294.5 2154.7 1291.6 2184.7 1282.3 2258.4 1280.8 2264.8 1279.3 2267.7 1277.8 2267.7 1276.3 2265.2 1274.8 2259.5 1269.3 2229.7 1260.3 2198.2 1256.8 2183.3 1252.5 2160.7 1251.6 2145.7 1252.5 2133.7 1255.3 2114.2 1258.2 2099.2 1261.3 2087.6 1265.8 2074.9 1273.3 2059.1 1277.8 2052.6ZM1276.9 2072.2 1273.3 2075.3 1268.8 2082.3 1265.8 2088.9 1262.9 2097.7 1259.8 2114.4 1257.6 2139.7 1258.7 2151.7 1262.0 2162.2 1265.8 2169.6 1270.3 2176.9 1273.3 2180.3 1276.3 2181.6 1277.8 2181.1 1279.3 2179.9 1282.3 2174.8 1285.3 2166.5 1287.1 2159.2 1289.3 2142.7 1290.4 2114.2 1289.5 2097.7 1286.6 2084.2 1284.3 2078.2 1282.3 2074.4 1279.3 2071.9Z" fill="#ffcccc" stroke="#ffcccc" stroke-width="0.7" fill-rule="evenodd"/><path d="M1277.8 2071.8 1279.3 2071.9 1280.8 2072.7 1282.3 2074.4 1285.0 2079.7 1287.0 2085.7 1289.8 2100.7 1290.4 2117.2 1289.2 2144.2 1286.8 2160.7 1282.3 2174.8 1279.3 2179.9 1277.8 2181.1 1276.3 2181.6 1273.3 2180.3 1270.3 2176.9 1265.8 2169.6 1262.0 2162.2 1258.7 2151.7 1257.6 2139.7 1259.8 2114.2 1261.3 2104.6 1263.3 2096.2 1265.8 2088.9 1270.3 2079.6 1274.8 2073.6ZM1274.8 2091.7 1271.8 2094.6 1270.3 2097.1 1267.6 2105.2 1266.2 2115.7 1265.8 2130.7 1266.2 2139.7 1267.8 2147.2 1270.3 2151.9 1271.8 2153.5 1274.8 2154.9 1277.8 2153.7 1279.3 2151.9 1282.0 2144.2 1283.8 2129.4 1284.4 2114.2 1283.8 2104.2 1281.6 2096.2 1279.9 2093.2 1278.2 2091.7 1276.3 2091.2Z" fill="#ffb2b2" stroke="#ffb2b2" stroke-width="0.7" fill-rule="evenodd"/><path d="M1276.3 2091.2 1277.8 2091.5 1279.3 2092.5 1282.3 2097.8 1283.9 2105.2 1284.4 2117.2 1283.4 2133.7 1281.6 2145.7 1279.3 2151.9 1277.8 2153.7 1274.8 2154.9 1271.8 2153.5 1270.3 2151.9 1267.3 2145.7 1266.0 2138.2 1265.8 2126.1 1266.6 2111.2 1268.4 2102.2 1271.8 2094.6 1274.8 2091.7Z" fill="#ff9999" stroke="#ff9999" stroke-width="0.7" fill-rule="evenodd"/></g><rect x="904.6" y="1958.0" width="11.5" height="16.5" fill="#00fc00"/><rect x="915.7" y="1958.0" width="11.5" height="16.5" fill="#0afc0a"/><rect x="926.8" y="1958.0" width="11.5" height="16.5" fill="#14fc14"/><rect x="937.9" y="1958.0" width="11.5" height="16.5" fill="#1ffc1f"/><rect x="949.0" y="1958.0" width="11.5" height="16.5" fill="#29fc29"/><rect x="960.1" y="1958.0" width="11.5" height="16.5" fill="#33fd33"/><rect x="971.2" y="1958.0" width="11.5" height="16.5" fill="#3dfd3d"/><rect x="982.3" y="1958.0" width="11.5" height="16.5" fill="#47fd47"/><rect x="993.4" y="1958.0" width="11.5" height="16.5" fill="#52fd52"/><rect x="1004.5" y="1958.0" width="11.5" height="16.5" fill="#5cfd5c"/><rect x="1015.6" y="1958.0" width="11.5" height="16.5" fill="#66fd66"/><rect x="1026.7" y="1958.0" width="11.5" height="16.5" fill="#70fd70"/><rect x="1037.8" y="1958.0" width="11.5" height="16.5" fill="#7afd7a"/><rect x="1048.9" y="1958.0" width="11.5" height="16.5" fill="#85fe85"/><rect x="1060.0" y="1958.0" width="11.5" height="16.5" fill="#8ffe8f"/><rect x="1071.1" y="1958.0" width="11.5" height="16.5" fill="#99fe99"/><rect x="1082.2" y="1958.0" width="11.5" height="16.5" fill="#a3fea3"/><rect x="1093.3" y="1958.0" width="11.5" height="16.5" fill="#adfead"/><rect x="1104.3" y="1958.0" width="11.5" height="16.5" fill="#b8feb8"/><rect x="1115.4" y="1958.0" width="11.5" height="16.5" fill="#c2fec2"/><rect x="1126.5" y="1958.0" width="11.5" height="16.5" fill="#ccfecc"/><rect x="1137.6" y="1958.0" width="11.5" height="16.5" fill="#d6ffd6"/><rect x="1148.7" y="1958.0" width="11.5" height="16.5" fill="#e0ffe0"/><rect x="1159.8" y="1958.0" width="11.5" height="16.5" fill="#ebffeb"/><rect x="1170.9" y="1958.0" width="11.5" height="16.5" fill="#f5fff5"/><rect x="1182.0" y="1958.0" width="11.5" height="16.5" fill="#ffffff"/><rect x="1193.1" y="1958.0" width="11.5" height="16.5" fill="#ffe6e6"/><rect x="1204.2" y="1958.0" width="11.5" height="16.5" fill="#ffcccc"/><rect x="1215.3" y="1958.0" width="11.5" height="16.5" fill="#ffb2b2"/><rect x="1226.4" y="1958.0" width="11.5" height="16.5" fill="#ff9999"/><rect x="1237.5" y="1958.0" width="11.5" height="16.5" fill="#ff8080"/><rect x="1248.6" y="1958.0" width="11.5" height="16.5" fill="#ff6666"/><rect x="1259.7" y="1958.0" width="11.5" height="16.5" fill="#ff4c4c"/><rect x="1270.8" y="1958.0" width="11.5" height="16.5" fill="#ff3333"/><rect x="1281.9" y="1958.0" width="11.5" height="16.5" fill="#ff1919"/><text x="911.0" y="1953.7" class="s m" font-size="16">-50</text><text x="968.4" y="1953.7" class="s m" font-size="16">-40</text><text x="1025.3" y="1953.7" class="s m" font-size="16">-30</text><text x="1082.3" y="1953.7" class="s m" font-size="16">-20</text><text x="1138.8" y="1953.7" class="s m" font-size="16">-10</text><text x="1186.5" y="1953.7" class="s m" font-size="16">0</text><text x="1231.3" y="1953.7" class="s m" font-size="16">10</text><text x="1282.4" y="1953.7" class="s m" font-size="16">20</text><rect x="886.30" y="1977.70" width="435.50" height="395.50" fill="none" stroke="#000" stroke-width="3.2"/><path d="M884.6 2373.2L884.6 2380.2" stroke="#444" stroke-width="1.2"/><path d="M905.4 2373.2L905.4 2380.2" stroke="#444" stroke-width="1.2"/><path d="M926.3 2373.2L926.3 2380.2" stroke="#444" stroke-width="1.2"/><path d="M947.1 2373.2L947.1 2380.2" stroke="#444" stroke-width="1.2"/><path d="M967.9 2373.2L967.9 2380.2" stroke="#444" stroke-width="1.2"/><path d="M988.8 2373.2L988.8 2380.2" stroke="#444" stroke-width="1.2"/><path d="M1009.6 2373.2L1009.6 2380.2" stroke="#444" stroke-width="1.2"/><path d="M1030.4 2373.2L1030.4 2380.2" stroke="#444" stroke-width="1.2"/><path d="M1051.2 2373.2L1051.2 2380.2" stroke="#444" stroke-width="1.2"/><path d="M1072.1 2373.2L1072.1 2380.2" stroke="#444" stroke-width="1.2"/><path d="M1092.9 2373.2L1092.9 2380.2" stroke="#444" stroke-width="1.2"/><path d="M1113.7 2373.2L1113.7 2380.2" stroke="#444" stroke-width="1.2"/><path d="M1134.6 2373.2L1134.6 2380.2" stroke="#444" stroke-width="1.2"/><path d="M1155.4 2373.2L1155.4 2380.2" stroke="#444" stroke-width="1.2"/><path d="M1176.2 2373.2L1176.2 2380.2" stroke="#444" stroke-width="1.2"/><path d="M1197.0 2373.2L1197.0 2380.2" stroke="#444" stroke-width="1.2"/><path d="M1217.9 2373.2L1217.9 2380.2" stroke="#444" stroke-width="1.2"/><path d="M1238.7 2373.2L1238.7 2380.2" stroke="#444" stroke-width="1.2"/><path d="M1259.5 2373.2L1259.5 2380.2" stroke="#444" stroke-width="1.2"/><path d="M1280.4 2373.2L1280.4 2380.2" stroke="#444" stroke-width="1.2"/><path d="M1301.2 2373.2L1301.2 2380.2" stroke="#444" stroke-width="1.2"/><path d="M1322.0 2373.2L1322.0 2380.2" stroke="#444" stroke-width="1.2"/><text transform="translate(883.2,2385.5) rotate(-90)" y="8.0" class="s e" font-size="22.4">0</text><text transform="translate(905.1,2385.5) rotate(-90)" y="8.0" class="s e" font-size="22.4">0.28</text><text transform="translate(927.0,2385.5) rotate(-90)" y="8.0" class="s e" font-size="22.4">0.85</text><text transform="translate(948.9,2385.5) rotate(-90)" y="8.0" class="s e" font-size="22.4">2.74</text><text transform="translate(970.8,2385.5) rotate(-90)" y="8.0" class="s e" font-size="22.4">4.12</text><text transform="translate(992.7,2385.5) rotate(-90)" y="8.0" class="s e" font-size="22.4">7.62</text><text transform="translate(1014.6,2385.5) rotate(-90)" y="8.0" class="s e" font-size="22.4">12</text><text transform="translate(1036.5,2385.5) rotate(-90)" y="8.0" class="s e" font-size="22.4">23</text><text transform="translate(1058.4,2385.5) rotate(-90)" y="8.0" class="s e" font-size="22.4">37</text><text transform="translate(1080.3,2385.5) rotate(-90)" y="8.0" class="s e" font-size="22.4">69</text><text transform="translate(1102.2,2385.5) rotate(-90)" y="8.0" class="s e" font-size="22.4">111</text><text transform="translate(1124.1,2385.5) rotate(-90)" y="8.0" class="s e" font-size="22.4">206</text><text transform="translate(1146.0,2385.5) rotate(-90)" y="8.0" class="s e" font-size="22.4">333</text><text transform="translate(1167.9,2385.5) rotate(-90)" y="8.0" class="s e" font-size="22.4">492</text><text transform="translate(1189.8,2385.5) rotate(-90)" y="8.0" class="s e" font-size="22.4">1000</text><text transform="translate(1211.7,2385.5) rotate(-90)" y="8.0" class="s e" font-size="22.4">1852</text><text transform="translate(1233.6,2385.5) rotate(-90)" y="8.0" class="s e" font-size="22.4">3000</text><text transform="translate(1255.5,2385.5) rotate(-90)" y="8.0" class="s e" font-size="22.4">5560</text><text transform="translate(1277.4,2385.5) rotate(-90)" y="8.0" class="s e" font-size="22.4">9000</text><text transform="translate(1299.3,2385.5) rotate(-90)" y="8.0" class="s e" font-size="22.4">16000</text><text transform="translate(1321.2,2385.5) rotate(-90)" y="8.0" class="s e" font-size="22.4">50000</text><path d="M879.3 1977.4L886.3 1977.4" stroke="#444" stroke-width="1.2"/><text transform="translate(870.0,1977.4) rotate(-90)" y="7.5" class="s m" font-size="21">4.12</text><path d="M879.3 2043.3L886.3 2043.3" stroke="#444" stroke-width="1.2"/><text transform="translate(870.0,2043.3) rotate(-90)" y="7.5" class="s m" font-size="21">1.37</text><path d="M879.3 2109.4L886.3 2109.4" stroke="#444" stroke-width="1.2"/><text transform="translate(870.0,2109.4) rotate(-90)" y="7.5" class="s m" font-size="21">1.20</text><path d="M879.3 2175.6L886.3 2175.6" stroke="#444" stroke-width="1.2"/><text transform="translate(870.0,2175.6) rotate(-90)" y="7.5" class="s m" font-size="21">0.46</text><path d="M879.3 2242.0L886.3 2242.0" stroke="#444" stroke-width="1.2"/><text transform="translate(870.0,2242.0) rotate(-90)" y="7.5" class="s m" font-size="21">0.15</text><path d="M879.3 2308.2L886.3 2308.2" stroke="#444" stroke-width="1.2"/><text transform="translate(870.0,2308.2) rotate(-90)" y="7.5" class="s m" font-size="21">0.10</text><path d="M879.3 2374.3L886.3 2374.3" stroke="#444" stroke-width="1.2"/><text transform="translate(870.0,2374.3) rotate(-90)" y="7.5" class="s m" font-size="21">0</text><text x="1353.5" y="2100.8" class="s m" font-size="33">8.7</text><path d="M1357.9 2114.7L1297.4 2114.7" stroke="#000" stroke-width="3.2"/><polygon points="1273.60,2114.70 1299.40,2102.50 1299.40,2126.90" fill="#000"/><text transform="translate(1350.4,2219.4) rotate(-90)" y="12.2" class="s m" font-size="34">Maximum</text><text transform="translate(1389.0,2219.4) rotate(-90)" y="12.2" class="s m" font-size="34">Synergy (ZIP)</text><text transform="translate(823.0,2161.0) rotate(-90)" y="12.1" class="s m" font-size="33.8">Paclitaxel, nM</text><text x="1101.5" y="2477.1" class="s m" font-size="33.8">Palbociclib Isethionate, nM</text></svg>
</body></html>
